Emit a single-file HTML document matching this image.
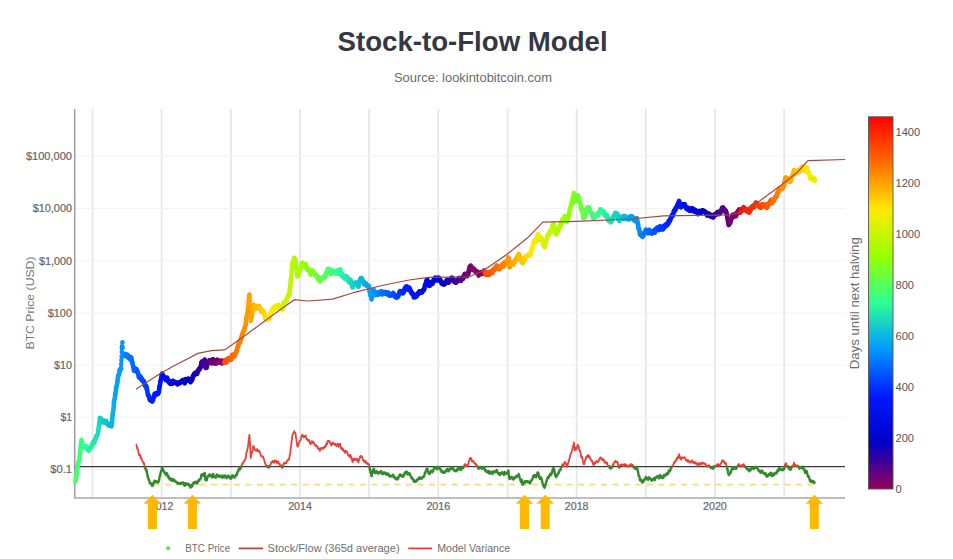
<!DOCTYPE html><html><head><meta charset="utf-8"><style>html,body{margin:0;padding:0;background:#fff;width:953px;height:559px;overflow:hidden}svg{position:absolute;left:0;top:0}text{font-family:"Liberation Sans",sans-serif}</style></head><body><svg width="953" height="559" viewBox="0 0 953 559"><text x="337.6" y="50.8" font-size="28.4" font-weight="bold" fill="#333843" textLength="270" lengthAdjust="spacingAndGlyphs">Stock-to-Flow Model</text><text x="394" y="82.3" font-size="12.6" fill="#6a6a6a" textLength="158" lengthAdjust="spacingAndGlyphs">Source: lookintobitcoin.com</text><path d="M92.5 109 V498 M161.6 109 V498 M230.9 109 V498 M300.0 109 V498 M369.1 109 V498 M438.3 109 V498 M507.6 109 V498 M576.7 109 V498 M645.8 109 V498 M714.9 109 V498 M784.2 109 V498" stroke="#e6e7e7" stroke-width="1.8" fill="none"/><path d="M74.5 469.5 H845.0 M74.5 417.3 H845.0 M74.5 365.1 H845.0 M74.5 312.9 H845.0 M74.5 260.7 H845.0 M74.5 208.5 H845.0 M74.5 156.3 H845.0" stroke="#f3f3f3" stroke-width="1" fill="none"/><path d="M74.7 109 V498" stroke="#a0a0a0" stroke-width="1.6"/><path d="M74 498 H845" stroke="#a8a8a8" stroke-width="1.3"/><text x="72" y="473.3" text-anchor="end" font-size="10.5" fill="#666" stroke="#666" stroke-width="0.2" textLength="21.7" lengthAdjust="spacingAndGlyphs">$0.1</text><text x="72" y="421.1" text-anchor="end" font-size="10.5" fill="#666" stroke="#666" stroke-width="0.2" textLength="11.6" lengthAdjust="spacingAndGlyphs">$1</text><text x="72" y="368.9" text-anchor="end" font-size="10.5" fill="#666" stroke="#666" stroke-width="0.2" textLength="17.9" lengthAdjust="spacingAndGlyphs">$10</text><text x="72" y="316.7" text-anchor="end" font-size="10.5" fill="#666" stroke="#666" stroke-width="0.2" textLength="24.3" lengthAdjust="spacingAndGlyphs">$100</text><text x="72" y="264.5" text-anchor="end" font-size="10.5" fill="#666" stroke="#666" stroke-width="0.2" textLength="33.1" lengthAdjust="spacingAndGlyphs">$1,000</text><text x="72" y="212.3" text-anchor="end" font-size="10.5" fill="#666" stroke="#666" stroke-width="0.2" textLength="39.3" lengthAdjust="spacingAndGlyphs">$10,000</text><text x="72" y="160.1" text-anchor="end" font-size="10.5" fill="#666" stroke="#666" stroke-width="0.2" textLength="46.1" lengthAdjust="spacingAndGlyphs">$100,000</text><text x="161.6" y="510.4" text-anchor="middle" font-size="10.3" fill="#666" stroke="#666" stroke-width="0.2" textLength="23.7" lengthAdjust="spacingAndGlyphs">2012</text><text x="300.0" y="510.4" text-anchor="middle" font-size="10.3" fill="#666" stroke="#666" stroke-width="0.2" textLength="23.7" lengthAdjust="spacingAndGlyphs">2014</text><text x="438.3" y="510.4" text-anchor="middle" font-size="10.3" fill="#666" stroke="#666" stroke-width="0.2" textLength="23.7" lengthAdjust="spacingAndGlyphs">2016</text><text x="576.7" y="510.4" text-anchor="middle" font-size="10.3" fill="#666" stroke="#666" stroke-width="0.2" textLength="23.7" lengthAdjust="spacingAndGlyphs">2018</text><text x="714.9" y="510.4" text-anchor="middle" font-size="10.3" fill="#666" stroke="#666" stroke-width="0.2" textLength="23.7" lengthAdjust="spacingAndGlyphs">2020</text><text transform="translate(34.2,303) rotate(-90)" text-anchor="middle" font-size="11.5" fill="#777" textLength="93" lengthAdjust="spacingAndGlyphs">BTC Price (USD)</text><path d="M74.6 466.6 H845" stroke="#3a3a3a" stroke-width="1.3"/><path d="M153.6 484.7 H816" stroke="#f8da80" stroke-width="1.7" stroke-dasharray="6 5.47"/><path d="M75.4 481.8 L75.6 480.3 L75.8 479.1 L76.0 478.3 L76.2 477.1 L76.4 476.3 L76.5 474.7" stroke="#4cff69" stroke-width="4.6" fill="none" stroke-linecap="round" stroke-linejoin="round"/><path d="M76.5 474.7 L76.7 472.3 L76.9 471.2 L77.1 470.2 L77.3 468.7 L77.5 467.3 L77.7 466.1" stroke="#49ff6e" stroke-width="4.6" fill="none" stroke-linecap="round" stroke-linejoin="round"/><path d="M77.7 466.1 L77.9 465.6 L78.1 464.4 L78.2 462.8 L78.4 462.5 L78.6 461.5 L78.8 461.4" stroke="#45ff73" stroke-width="4.6" fill="none" stroke-linecap="round" stroke-linejoin="round"/><path d="M78.8 461.4 L79.0 460.8 L79.2 460.5 L79.4 459.0 L79.6 458.3 L79.8 455.8 L80.0 453.5" stroke="#42ff78" stroke-width="4.6" fill="none" stroke-linecap="round" stroke-linejoin="round"/><path d="M80.0 453.5 L80.1 451.5 L80.3 451.0 L80.5 449.0 L80.7 446.8 L80.9 444.5 L81.1 443.4" stroke="#3eff7c" stroke-width="4.6" fill="none" stroke-linecap="round" stroke-linejoin="round"/><path d="M81.1 443.4 L81.3 441.5 L81.5 439.9 L81.7 441.1 L81.8 441.1 L82.0 442.5 L82.2 443.4" stroke="#3bff81" stroke-width="4.6" fill="none" stroke-linecap="round" stroke-linejoin="round"/><path d="M82.2 443.4 L82.4 443.7 L82.6 445.1 L82.8 446.1 L83.0 447.0 L83.2 446.9 L83.4 447.6" stroke="#37ff86" stroke-width="4.6" fill="none" stroke-linecap="round" stroke-linejoin="round"/><path d="M83.4 447.6 L83.5 447.4 L83.7 446.5 L83.9 447.5 L84.1 446.9 L84.3 446.8 L84.5 447.3" stroke="#34ff8b" stroke-width="4.6" fill="none" stroke-linecap="round" stroke-linejoin="round"/><path d="M84.5 447.3 L84.7 446.0 L84.9 445.7 L85.1 446.7 L85.3 446.7 L85.4 446.4 L85.6 446.8" stroke="#30ff90" stroke-width="4.6" fill="none" stroke-linecap="round" stroke-linejoin="round"/><path d="M85.6 446.8 L85.8 446.7 L86.0 447.0 L86.2 446.9 L86.4 446.3 L86.6 447.2 L86.8 447.4" stroke="#2dff95" stroke-width="4.6" fill="none" stroke-linecap="round" stroke-linejoin="round"/><path d="M86.8 447.4 L87.0 448.1 L87.1 448.3 L87.3 449.3 L87.5 449.8 L87.7 450.1 L87.9 449.6" stroke="#2bfc99" stroke-width="4.6" fill="none" stroke-linecap="round" stroke-linejoin="round"/><path d="M87.9 449.6 L88.1 448.8 L88.3 449.5 L88.5 449.9 L88.7 449.2 L88.9 450.3 L89.0 450.2" stroke="#29f99c" stroke-width="4.6" fill="none" stroke-linecap="round" stroke-linejoin="round"/><path d="M89.0 450.2 L89.2 449.9 L89.4 448.7 L89.6 448.1 L89.8 448.2 L90.0 448.2 L90.2 448.2" stroke="#28f5a0" stroke-width="4.6" fill="none" stroke-linecap="round" stroke-linejoin="round"/><path d="M90.2 448.2 L90.4 447.0 L90.6 447.2 L90.7 447.3 L90.9 446.9 L91.1 446.9 L91.3 446.6" stroke="#26f2a3" stroke-width="4.6" fill="none" stroke-linecap="round" stroke-linejoin="round"/><path d="M91.3 446.6 L91.5 447.0 L91.7 446.5 L91.9 446.3 L92.1 445.1 L92.3 444.3 L92.5 444.0" stroke="#25efa7" stroke-width="4.6" fill="none" stroke-linecap="round" stroke-linejoin="round"/><path d="M92.5 444.0 L92.6 443.3 L92.8 443.3 L93.0 442.3 L93.2 442.1 L93.4 441.5 L93.6 442.1" stroke="#24ebaa" stroke-width="4.6" fill="none" stroke-linecap="round" stroke-linejoin="round"/><path d="M93.6 442.1 L93.8 441.5 L94.0 442.3 L94.2 443.0 L94.3 442.5 L94.5 442.4 L94.7 441.6" stroke="#22e8ae" stroke-width="4.6" fill="none" stroke-linecap="round" stroke-linejoin="round"/><path d="M94.7 441.6 L94.9 439.5 L95.1 439.6 L95.3 439.5 L95.5 438.9 L95.7 438.1 L95.9 437.7" stroke="#21e4b1" stroke-width="4.6" fill="none" stroke-linecap="round" stroke-linejoin="round"/><path d="M95.9 437.7 L96.0 437.4 L96.2 436.5 L96.4 435.8 L96.6 436.1 L96.8 435.7 L97.0 435.3" stroke="#1fe1b5" stroke-width="4.6" fill="none" stroke-linecap="round" stroke-linejoin="round"/><path d="M97.0 435.3 L97.2 435.5 L97.4 434.8 L97.6 434.8 L97.8 433.7 L97.9 433.1 L98.1 431.4" stroke="#1edeb8" stroke-width="4.6" fill="none" stroke-linecap="round" stroke-linejoin="round"/><path d="M98.1 431.4 L98.3 430.0 L98.5 428.4 L98.7 427.9 L98.9 426.7 L99.1 424.5 L99.3 423.9" stroke="#1cdabb" stroke-width="4.6" fill="none" stroke-linecap="round" stroke-linejoin="round"/><path d="M99.3 423.9 L99.5 421.3 L99.6 420.4 L99.8 417.9 L100.0 418.6 L100.2 418.2 L100.4 418.4" stroke="#1bd7bf" stroke-width="4.6" fill="none" stroke-linecap="round" stroke-linejoin="round"/><path d="M100.4 418.4 L100.6 419.7 L100.8 419.1 L101.0 418.5 L101.2 419.0 L101.4 419.7 L101.5 420.2" stroke="#19d3c2" stroke-width="4.6" fill="none" stroke-linecap="round" stroke-linejoin="round"/><path d="M101.5 420.2 L101.7 421.2 L101.9 420.9 L102.1 421.2 L102.3 421.2 L102.5 421.6 L102.7 421.9" stroke="#18d0c6" stroke-width="4.6" fill="none" stroke-linecap="round" stroke-linejoin="round"/><path d="M102.7 421.9 L102.9 422.5 L103.1 421.4 L103.2 421.4 L103.4 420.7 L103.6 420.6 L103.8 421.1" stroke="#17cdc9" stroke-width="4.6" fill="none" stroke-linecap="round" stroke-linejoin="round"/><path d="M103.8 421.1 L104.0 421.2 L104.2 421.4 L104.4 421.3 L104.6 421.4 L104.8 421.4 L104.9 422.1" stroke="#15c9cd" stroke-width="4.6" fill="none" stroke-linecap="round" stroke-linejoin="round"/><path d="M104.9 422.1 L105.1 422.4 L105.3 421.0 L105.5 421.5 L105.7 422.2 L105.9 422.0 L106.1 421.1" stroke="#14c6d0" stroke-width="4.6" fill="none" stroke-linecap="round" stroke-linejoin="round"/><path d="M106.1 421.1 L106.3 422.2 L106.5 422.4 L106.7 422.8 L106.8 423.9 L107.0 423.3 L107.2 423.3" stroke="#12c3d4" stroke-width="4.6" fill="none" stroke-linecap="round" stroke-linejoin="round"/><path d="M107.2 423.3 L107.4 423.2 L107.6 423.7 L107.8 423.4 L108.0 423.8 L108.2 423.9 L108.4 424.7" stroke="#11bfd7" stroke-width="4.6" fill="none" stroke-linecap="round" stroke-linejoin="round"/><path d="M108.4 424.7 L108.5 425.4 L108.7 424.4 L108.9 424.7 L109.1 424.6 L109.3 424.7 L109.5 425.0" stroke="#0fbcdb" stroke-width="4.6" fill="none" stroke-linecap="round" stroke-linejoin="round"/><path d="M109.5 425.0 L109.7 425.4 L109.9 425.0 L110.1 425.3 L110.3 425.5 L110.4 425.5 L110.6 424.9" stroke="#0eb8de" stroke-width="4.6" fill="none" stroke-linecap="round" stroke-linejoin="round"/><path d="M110.6 424.9 L110.8 424.7 L111.0 424.7 L111.2 425.3 L111.4 426.4 L111.6 425.9 L111.8 423.7" stroke="#0cb5e1" stroke-width="4.6" fill="none" stroke-linecap="round" stroke-linejoin="round"/><path d="M111.8 423.7 L112.0 422.3 L112.1 420.4 L112.3 418.5 L112.5 416.5 L112.7 414.5 L112.9 413.5" stroke="#0bb2e5" stroke-width="4.6" fill="none" stroke-linecap="round" stroke-linejoin="round"/><path d="M112.9 413.5 L113.1 411.1 L113.3 410.6 L113.5 408.6 L113.7 406.9 L113.8 404.9 L114.0 402.4" stroke="#09aee8" stroke-width="4.6" fill="none" stroke-linecap="round" stroke-linejoin="round"/><path d="M114.0 402.4 L114.2 400.2 L114.4 399.8 L114.6 399.6 L114.8 397.5 L115.0 396.7 L115.2 395.1" stroke="#08abec" stroke-width="4.6" fill="none" stroke-linecap="round" stroke-linejoin="round"/><path d="M115.2 395.1 L115.4 393.0 L115.6 392.6 L115.7 392.2 L115.9 390.2 L116.1 388.7 L116.3 387.5" stroke="#07a7ef" stroke-width="4.6" fill="none" stroke-linecap="round" stroke-linejoin="round"/><path d="M116.3 387.5 L116.5 386.1 L116.7 385.3 L116.9 384.9 L117.1 383.5 L117.3 382.6 L117.4 382.1" stroke="#05a4f3" stroke-width="4.6" fill="none" stroke-linecap="round" stroke-linejoin="round"/><path d="M117.4 382.1 L117.6 380.1 L117.8 378.7 L118.0 376.9 L118.2 376.1 L118.4 375.1 L118.6 375.0" stroke="#04a1f6" stroke-width="4.6" fill="none" stroke-linecap="round" stroke-linejoin="round"/><path d="M118.6 375.0 L118.8 374.8 L119.0 373.9 L119.2 373.7 L119.3 372.8 L119.5 371.9 L119.7 370.1" stroke="#029dfa" stroke-width="4.6" fill="none" stroke-linecap="round" stroke-linejoin="round"/><path d="M119.7 370.1 L119.9 370.6 L120.1 369.5 L120.3 369.2 L120.5 368.8 L120.7 369.2 L120.9 369.0" stroke="#019afd" stroke-width="4.6" fill="none" stroke-linecap="round" stroke-linejoin="round"/><path d="M120.9 369.0 L121.0 367.9 M121.2 364.1h.01 M121.4 360.2h.01 M121.6 356.6h.01 M121.8 352.0h.01 M122.0 348.3h.01" stroke="#0096ff" stroke-width="4.6" fill="none" stroke-linecap="round" stroke-linejoin="round"/><path d="M122.0 348.3 L122.2 345.9 M122.4 342.4h.01 M122.6 347.6h.01 M122.8 353.5h.01 L122.9 354.4 L123.1 354.3" stroke="#0092ff" stroke-width="4.6" fill="none" stroke-linecap="round" stroke-linejoin="round"/><path d="M123.1 354.3 L123.3 355.1 L123.5 355.6 L123.7 356.0 L123.9 355.0 L124.1 354.8 L124.3 354.7" stroke="#008eff" stroke-width="4.6" fill="none" stroke-linecap="round" stroke-linejoin="round"/><path d="M124.3 354.7 L124.5 354.7 L124.6 354.6 L124.8 354.1 L125.0 353.9 L125.2 353.9 L125.4 354.7" stroke="#008aff" stroke-width="4.6" fill="none" stroke-linecap="round" stroke-linejoin="round"/><path d="M125.4 354.7 L125.6 354.4 L125.8 355.0 L126.0 354.4 L126.2 355.4 L126.3 355.6 L126.5 355.6" stroke="#0085ff" stroke-width="4.6" fill="none" stroke-linecap="round" stroke-linejoin="round"/><path d="M126.5 355.6 L126.7 356.6 L126.9 355.4 L127.1 354.7 L127.3 355.3 L127.5 355.0 L127.7 355.1" stroke="#0081ff" stroke-width="4.6" fill="none" stroke-linecap="round" stroke-linejoin="round"/><path d="M127.7 355.1 L127.9 357.0 L128.1 356.9 L128.2 357.0 L128.4 357.0 L128.6 357.8 L128.8 358.0" stroke="#007dff" stroke-width="4.6" fill="none" stroke-linecap="round" stroke-linejoin="round"/><path d="M128.8 358.0 L129.0 358.1 L129.2 357.4 L129.4 357.3 L129.6 357.5 L129.8 356.8 L129.9 357.4" stroke="#0079ff" stroke-width="4.6" fill="none" stroke-linecap="round" stroke-linejoin="round"/><path d="M129.9 357.4 L130.1 357.9 L130.3 359.3 L130.5 358.3 L130.7 357.9 L130.9 357.6 L131.1 357.5" stroke="#0075ff" stroke-width="4.6" fill="none" stroke-linecap="round" stroke-linejoin="round"/><path d="M131.1 357.5 L131.3 357.8 L131.5 358.7 L131.7 359.9 L131.8 361.0 L132.0 361.9 L132.2 361.9" stroke="#0070ff" stroke-width="4.6" fill="none" stroke-linecap="round" stroke-linejoin="round"/><path d="M132.2 361.9 L132.4 362.5 L132.6 363.6 L132.8 365.0 L133.0 366.4 L133.2 366.2 L133.4 366.9" stroke="#006cff" stroke-width="4.6" fill="none" stroke-linecap="round" stroke-linejoin="round"/><path d="M133.4 366.9 L133.5 367.9 L133.7 369.1 L133.9 370.8 L134.1 370.6 L134.3 369.9 L134.5 370.1" stroke="#0068ff" stroke-width="4.6" fill="none" stroke-linecap="round" stroke-linejoin="round"/><path d="M134.5 370.1 L134.7 370.1 L134.9 370.1 L135.1 369.8 L135.2 370.6 L135.4 370.5 L135.6 370.7" stroke="#0064ff" stroke-width="4.6" fill="none" stroke-linecap="round" stroke-linejoin="round"/><path d="M135.6 370.7 L135.8 369.8 L136.0 370.0 L136.2 369.3 L136.4 368.8 L136.6 369.5 L136.8 370.4" stroke="#0060ff" stroke-width="4.6" fill="none" stroke-linecap="round" stroke-linejoin="round"/><path d="M136.8 370.4 L137.0 370.8 L137.1 371.3 L137.3 372.4 L137.5 372.5 L137.7 371.7 L137.9 372.5" stroke="#005cff" stroke-width="4.6" fill="none" stroke-linecap="round" stroke-linejoin="round"/><path d="M137.9 372.5 L138.1 373.3 L138.3 374.5 L138.5 374.8 L138.7 376.0 L138.8 377.1 L139.0 376.6" stroke="#0057ff" stroke-width="4.6" fill="none" stroke-linecap="round" stroke-linejoin="round"/><path d="M139.0 376.6 L139.2 377.6 L139.4 377.3 L139.6 376.8 L139.8 377.3 L140.0 377.2 L140.2 376.3" stroke="#0053ff" stroke-width="4.6" fill="none" stroke-linecap="round" stroke-linejoin="round"/><path d="M140.2 376.3 L140.4 376.9 L140.6 377.7 L140.7 378.9 L140.9 379.0 L141.1 378.2 L141.3 377.9" stroke="#004fff" stroke-width="4.6" fill="none" stroke-linecap="round" stroke-linejoin="round"/><path d="M141.3 377.9 L141.5 378.9 L141.7 379.6 L141.9 380.1 L142.1 380.0 L142.3 380.4 L142.4 380.5" stroke="#004bff" stroke-width="4.6" fill="none" stroke-linecap="round" stroke-linejoin="round"/><path d="M142.4 380.5 L142.6 380.6 L142.8 381.1 L143.0 381.3 L143.2 381.5 L143.4 381.8 L143.6 381.8" stroke="#0047ff" stroke-width="4.6" fill="none" stroke-linecap="round" stroke-linejoin="round"/><path d="M143.6 381.8 L143.8 380.9 L144.0 381.0 L144.1 381.5 L144.3 383.0 L144.5 383.1 L144.7 384.6" stroke="#0042ff" stroke-width="4.6" fill="none" stroke-linecap="round" stroke-linejoin="round"/><path d="M144.7 384.6 L144.9 385.6 L145.1 385.1 L145.3 384.8 L145.5 385.1 L145.7 386.4 L145.9 386.7" stroke="#003eff" stroke-width="4.6" fill="none" stroke-linecap="round" stroke-linejoin="round"/><path d="M145.9 386.7 L146.0 387.2 L146.2 386.8 L146.4 386.1 L146.6 386.9 L146.8 388.3 L147.0 389.9" stroke="#003aff" stroke-width="4.6" fill="none" stroke-linecap="round" stroke-linejoin="round"/><path d="M147.0 389.9 L147.2 390.6 L147.4 391.5 L147.6 392.9 L147.7 393.5 L147.9 394.9 L148.1 394.8" stroke="#0036ff" stroke-width="4.6" fill="none" stroke-linecap="round" stroke-linejoin="round"/><path d="M148.1 394.8 L148.3 394.8 L148.5 395.0 L148.7 396.3 L148.9 396.8 L149.1 397.2 L149.3 397.6" stroke="#0032ff" stroke-width="4.6" fill="none" stroke-linecap="round" stroke-linejoin="round"/><path d="M149.3 397.6 L149.5 398.0 L149.6 399.0 L149.8 400.0 L150.0 399.4 L150.2 399.5 L150.4 399.4" stroke="#002eff" stroke-width="4.6" fill="none" stroke-linecap="round" stroke-linejoin="round"/><path d="M150.4 399.4 L150.6 398.9 L150.8 400.1 L151.0 400.6 L151.2 400.5 L151.3 400.3 L151.5 400.6" stroke="#0029ff" stroke-width="4.6" fill="none" stroke-linecap="round" stroke-linejoin="round"/><path d="M151.5 400.6 L151.7 400.0 L151.9 400.0 L152.1 401.0 L152.3 401.6 L152.5 400.5 L152.7 399.8" stroke="#0025ff" stroke-width="4.6" fill="none" stroke-linecap="round" stroke-linejoin="round"/><path d="M152.7 399.8 L152.9 400.5 L153.1 399.1 L153.2 398.3 L153.4 397.1 L153.6 397.1 L153.8 396.9" stroke="#0021ff" stroke-width="4.6" fill="none" stroke-linecap="round" stroke-linejoin="round"/><path d="M153.8 396.9 L154.0 397.3 L154.2 395.2 L154.4 395.1 L154.6 393.9 L154.8 394.3 L154.9 394.1" stroke="#001dff" stroke-width="4.6" fill="none" stroke-linecap="round" stroke-linejoin="round"/><path d="M154.9 394.1 L155.1 395.1 L155.3 395.1 L155.5 394.2 L155.7 394.8 L155.9 393.8 L156.1 393.4" stroke="#0019ff" stroke-width="4.6" fill="none" stroke-linecap="round" stroke-linejoin="round"/><path d="M156.1 393.4 L156.3 393.9 L156.5 394.0 L156.6 394.0 L156.8 393.6 L157.0 393.7 L157.2 393.8" stroke="#0018fd" stroke-width="4.6" fill="none" stroke-linecap="round" stroke-linejoin="round"/><path d="M157.2 393.8 L157.4 393.6 L157.6 393.8 L157.8 394.1 L158.0 393.6 L158.2 392.5 L158.4 393.1" stroke="#0017fb" stroke-width="4.6" fill="none" stroke-linecap="round" stroke-linejoin="round"/><path d="M158.4 393.1 L158.5 392.6 L158.7 391.8 L158.9 391.2 L159.1 389.4 L159.3 388.6 L159.5 386.5" stroke="#0016f9" stroke-width="4.6" fill="none" stroke-linecap="round" stroke-linejoin="round"/><path d="M159.5 386.5 L159.7 386.0 L159.9 384.8 L160.1 383.9 L160.2 383.4 L160.4 382.0 L160.6 381.1" stroke="#0016f8" stroke-width="4.6" fill="none" stroke-linecap="round" stroke-linejoin="round"/><path d="M160.6 381.1 L160.8 379.7 L161.0 378.8 L161.2 378.5 L161.4 377.6 L161.6 376.5 L161.8 374.9" stroke="#0015f6" stroke-width="4.6" fill="none" stroke-linecap="round" stroke-linejoin="round"/><path d="M161.8 374.9 L162.0 374.5 L162.1 373.6 L162.3 374.8 L162.5 374.4 L162.7 375.2 L162.9 376.4" stroke="#0014f4" stroke-width="4.6" fill="none" stroke-linecap="round" stroke-linejoin="round"/><path d="M162.9 376.4 L163.1 376.3 L163.3 375.5 L163.5 376.5 L163.7 377.1 L163.8 377.4 L164.0 378.0" stroke="#0013f2" stroke-width="4.6" fill="none" stroke-linecap="round" stroke-linejoin="round"/><path d="M164.0 378.0 L164.2 377.6 L164.4 377.9 L164.6 378.3 L164.8 377.7 L165.0 378.1 L165.2 377.8" stroke="#0012f0" stroke-width="4.6" fill="none" stroke-linecap="round" stroke-linejoin="round"/><path d="M165.2 377.8 L165.4 378.4 L165.5 379.1 L165.7 380.1 L165.9 378.7 L166.1 378.9 L166.3 378.7" stroke="#0012ef" stroke-width="4.6" fill="none" stroke-linecap="round" stroke-linejoin="round"/><path d="M166.3 378.7 L166.5 378.7 L166.7 378.7 L166.9 378.7 L167.1 377.6 L167.3 378.6 L167.4 379.7" stroke="#0011ed" stroke-width="4.6" fill="none" stroke-linecap="round" stroke-linejoin="round"/><path d="M167.4 379.7 L167.6 380.4 L167.8 381.2 L168.0 380.6 L168.2 380.1 L168.4 380.7 L168.6 381.6" stroke="#0010eb" stroke-width="4.6" fill="none" stroke-linecap="round" stroke-linejoin="round"/><path d="M168.6 381.6 L168.8 381.8 L169.0 380.8 L169.1 382.7 L169.3 382.2 L169.5 382.8 L169.7 382.0" stroke="#000fe9" stroke-width="4.6" fill="none" stroke-linecap="round" stroke-linejoin="round"/><path d="M169.7 382.0 L169.9 382.7 L170.1 382.8 L170.3 383.6 L170.5 383.9 L170.7 382.6 L170.9 382.0" stroke="#000ee7" stroke-width="4.6" fill="none" stroke-linecap="round" stroke-linejoin="round"/><path d="M170.9 382.0 L171.0 382.2 L171.2 382.6 L171.4 383.7 L171.6 383.6 L171.8 383.4 L172.0 383.2" stroke="#000de5" stroke-width="4.6" fill="none" stroke-linecap="round" stroke-linejoin="round"/><path d="M172.0 383.2 L172.2 383.0 L172.4 383.5 L172.6 383.3 L172.7 383.1 L172.9 382.1 L173.1 380.9" stroke="#000de4" stroke-width="4.6" fill="none" stroke-linecap="round" stroke-linejoin="round"/><path d="M173.1 380.9 L173.3 381.1 L173.5 381.7 L173.7 381.7 L173.9 382.0 L174.1 382.4 L174.3 382.3" stroke="#000ce2" stroke-width="4.6" fill="none" stroke-linecap="round" stroke-linejoin="round"/><path d="M174.3 382.3 L174.5 382.9 L174.6 382.3 L174.8 382.2 L175.0 382.0 L175.2 382.0 L175.4 382.4" stroke="#000be0" stroke-width="4.6" fill="none" stroke-linecap="round" stroke-linejoin="round"/><path d="M175.4 382.4 L175.6 382.8 L175.8 382.8 L176.0 382.9 L176.2 382.5 L176.3 382.4 L176.5 383.1" stroke="#000ade" stroke-width="4.6" fill="none" stroke-linecap="round" stroke-linejoin="round"/><path d="M176.5 383.1 L176.7 382.8 L176.9 383.4 L177.1 383.5 L177.3 383.3 L177.5 384.3 L177.7 383.8" stroke="#0009dc" stroke-width="4.6" fill="none" stroke-linecap="round" stroke-linejoin="round"/><path d="M177.7 383.8 L177.9 383.3 L178.0 383.1 L178.2 383.1 L178.4 383.1 L178.6 383.4 L178.8 383.2" stroke="#0008db" stroke-width="4.6" fill="none" stroke-linecap="round" stroke-linejoin="round"/><path d="M178.8 383.2 L179.0 383.3 L179.2 382.9 L179.4 383.4 L179.6 382.9 L179.8 382.5 L179.9 382.4" stroke="#0008d9" stroke-width="4.6" fill="none" stroke-linecap="round" stroke-linejoin="round"/><path d="M179.9 382.4 L180.1 382.5 L180.3 381.9 L180.5 382.8 L180.7 382.3 L180.9 381.9 L181.1 381.6" stroke="#0007d7" stroke-width="4.6" fill="none" stroke-linecap="round" stroke-linejoin="round"/><path d="M181.1 381.6 L181.3 381.3 L181.5 381.6 L181.6 381.7 L181.8 381.2 L182.0 380.9 L182.2 380.8" stroke="#0006d5" stroke-width="4.6" fill="none" stroke-linecap="round" stroke-linejoin="round"/><path d="M182.2 380.8 L182.4 381.7 L182.6 381.3 L182.8 380.5 L183.0 379.9 L183.2 379.9 L183.4 381.0" stroke="#0005d3" stroke-width="4.6" fill="none" stroke-linecap="round" stroke-linejoin="round"/><path d="M183.4 381.0 L183.5 380.4 L183.7 380.5 L183.9 382.2 L184.1 381.7 L184.3 382.5 L184.5 383.0" stroke="#0004d2" stroke-width="4.6" fill="none" stroke-linecap="round" stroke-linejoin="round"/><path d="M184.5 383.0 L184.7 383.1 L184.9 381.9 L185.1 381.9 L185.2 381.5 L185.4 380.2 L185.6 379.3" stroke="#0004d0" stroke-width="4.6" fill="none" stroke-linecap="round" stroke-linejoin="round"/><path d="M185.6 379.3 L185.8 379.5 L186.0 379.7 L186.2 380.6 L186.4 381.0 L186.6 380.6 L186.8 380.2" stroke="#0003ce" stroke-width="4.6" fill="none" stroke-linecap="round" stroke-linejoin="round"/><path d="M186.8 380.2 L186.9 380.1 L187.1 379.5 L187.3 380.0 L187.5 380.1 L187.7 379.6 L187.9 379.2" stroke="#0002cc" stroke-width="4.6" fill="none" stroke-linecap="round" stroke-linejoin="round"/><path d="M187.9 379.2 L188.1 378.6 L188.3 378.6 L188.5 378.9 L188.7 378.8 L188.8 379.5 L189.0 380.6" stroke="#0001ca" stroke-width="4.6" fill="none" stroke-linecap="round" stroke-linejoin="round"/><path d="M189.0 380.6 L189.2 380.0 L189.4 380.0 L189.6 379.7 L189.8 380.7 L190.0 380.7 L190.2 380.9" stroke="#0000c9" stroke-width="4.6" fill="none" stroke-linecap="round" stroke-linejoin="round"/><path d="M190.2 380.9 L190.4 381.2 L190.5 382.2 L190.7 381.8 L190.9 380.7 L191.1 380.0 L191.3 380.1" stroke="#0300c5" stroke-width="4.6" fill="none" stroke-linecap="round" stroke-linejoin="round"/><path d="M191.3 380.1 L191.5 379.7 L191.7 378.9 L191.9 380.4 L192.1 379.9 L192.3 379.1 L192.4 378.4" stroke="#0800c2" stroke-width="4.6" fill="none" stroke-linecap="round" stroke-linejoin="round"/><path d="M192.4 378.4 L192.6 377.0 L192.8 376.2 L193.0 376.0 L193.2 375.8 L193.4 375.4 L193.6 375.8" stroke="#0d00be" stroke-width="4.6" fill="none" stroke-linecap="round" stroke-linejoin="round"/><path d="M193.6 375.8 L193.8 375.7 L194.0 375.1 L194.1 373.9 L194.3 374.2 L194.5 374.3 L194.7 374.3" stroke="#1200bb" stroke-width="4.6" fill="none" stroke-linecap="round" stroke-linejoin="round"/><path d="M194.7 374.3 L194.9 373.5 L195.1 373.6 L195.3 372.8 L195.5 373.6 L195.7 373.8 L195.8 373.9" stroke="#1700b7" stroke-width="4.6" fill="none" stroke-linecap="round" stroke-linejoin="round"/><path d="M195.8 373.9 L196.0 373.3 L196.2 372.6 L196.4 373.4 L196.6 373.8 L196.8 373.2 L197.0 373.3" stroke="#1c00b3" stroke-width="4.6" fill="none" stroke-linecap="round" stroke-linejoin="round"/><path d="M197.0 373.3 L197.2 373.9 L197.4 372.7 L197.6 372.0 L197.7 371.4 L197.9 371.4 L198.1 370.5" stroke="#2100b0" stroke-width="4.6" fill="none" stroke-linecap="round" stroke-linejoin="round"/><path d="M198.1 370.5 L198.3 370.4 L198.5 369.4 L198.7 369.8 L198.9 370.1 L199.1 369.6 L199.3 369.7" stroke="#2600ac" stroke-width="4.6" fill="none" stroke-linecap="round" stroke-linejoin="round"/><path d="M199.3 369.7 L199.4 368.9 L199.6 368.4 L199.8 368.6 L200.0 368.2 L200.2 368.0 L200.4 367.0" stroke="#2b00a8" stroke-width="4.6" fill="none" stroke-linecap="round" stroke-linejoin="round"/><path d="M200.4 367.0 L200.6 367.1 L200.8 367.0 L201.0 365.8 L201.2 364.1 L201.3 362.7 L201.5 362.7" stroke="#3000a5" stroke-width="4.6" fill="none" stroke-linecap="round" stroke-linejoin="round"/><path d="M201.5 362.7 L201.7 362.6 L201.9 361.6 L202.1 361.8 L202.3 362.4 L202.5 362.1 L202.7 361.7" stroke="#3500a1" stroke-width="4.6" fill="none" stroke-linecap="round" stroke-linejoin="round"/><path d="M202.7 361.7 L202.9 362.0 L203.0 362.8 L203.2 363.3 L203.4 362.3 L203.6 362.3 L203.8 361.9" stroke="#3a009e" stroke-width="4.6" fill="none" stroke-linecap="round" stroke-linejoin="round"/><path d="M203.8 361.9 L204.0 361.3 L204.2 360.4 L204.4 360.3 L204.6 359.5 L204.8 359.7 L204.9 362.0" stroke="#3f009a" stroke-width="4.6" fill="none" stroke-linecap="round" stroke-linejoin="round"/><path d="M204.9 362.0 L205.1 364.6 L205.3 365.8 L205.5 367.8 L205.7 368.0 L205.9 367.9 L206.1 367.6" stroke="#440096" stroke-width="4.6" fill="none" stroke-linecap="round" stroke-linejoin="round"/><path d="M206.1 367.6 L206.3 366.8 L206.5 367.6 L206.6 367.8 L206.8 367.5 L207.0 365.4 L207.2 364.6" stroke="#490093" stroke-width="4.6" fill="none" stroke-linecap="round" stroke-linejoin="round"/><path d="M207.2 364.6 L207.4 364.6 L207.6 364.0 L207.8 362.6 L208.0 362.9 L208.2 363.2 L208.3 362.5" stroke="#4e008f" stroke-width="4.6" fill="none" stroke-linecap="round" stroke-linejoin="round"/><path d="M208.3 362.5 L208.5 362.3 L208.7 362.0 L208.9 362.4 L209.1 361.3 L209.3 360.4 L209.5 360.4" stroke="#53008b" stroke-width="4.6" fill="none" stroke-linecap="round" stroke-linejoin="round"/><path d="M209.5 360.4 L209.7 360.2 L209.9 361.8 L210.1 361.4 L210.2 361.6 L210.4 361.4 L210.6 361.0" stroke="#570088" stroke-width="4.6" fill="none" stroke-linecap="round" stroke-linejoin="round"/><path d="M210.6 361.0 L210.8 361.3 L211.0 362.3 L211.2 361.9 L211.4 362.3 L211.6 362.3 L211.8 362.4" stroke="#5c0084" stroke-width="4.6" fill="none" stroke-linecap="round" stroke-linejoin="round"/><path d="M211.8 362.4 L211.9 362.3 L212.1 363.5 L212.3 362.3 L212.5 361.8 L212.7 360.8 L212.9 359.4" stroke="#610081" stroke-width="4.6" fill="none" stroke-linecap="round" stroke-linejoin="round"/><path d="M212.9 359.4 L213.1 359.4 L213.3 360.6 L213.5 361.0 L213.7 361.7 L213.8 361.9 L214.0 361.7" stroke="#66007d" stroke-width="4.6" fill="none" stroke-linecap="round" stroke-linejoin="round"/><path d="M214.0 361.7 L214.2 362.8 L214.4 362.3 L214.6 363.1 L214.8 362.6 L215.0 362.4 L215.2 362.5" stroke="#6b0079" stroke-width="4.6" fill="none" stroke-linecap="round" stroke-linejoin="round"/><path d="M215.2 362.5 L215.4 362.3 L215.5 362.5 L215.7 362.7 L215.9 363.6 L216.1 363.3 L216.3 361.9" stroke="#700076" stroke-width="4.6" fill="none" stroke-linecap="round" stroke-linejoin="round"/><path d="M216.3 361.9 L216.5 360.7 L216.7 360.0 L216.9 359.8 L217.1 360.6 L217.2 359.9 L217.4 360.2" stroke="#750072" stroke-width="4.6" fill="none" stroke-linecap="round" stroke-linejoin="round"/><path d="M217.4 360.2 L217.6 360.5 L217.8 360.9 L218.0 361.0 L218.2 361.4 L218.4 361.5 L218.6 362.3" stroke="#7a006f" stroke-width="4.6" fill="none" stroke-linecap="round" stroke-linejoin="round"/><path d="M218.6 362.3 L218.8 362.5 L219.0 361.0 L219.1 361.2 L219.3 361.5 L219.5 361.3 L219.7 361.0" stroke="#7f006b" stroke-width="4.6" fill="none" stroke-linecap="round" stroke-linejoin="round"/><path d="M219.7 361.0 L219.9 361.9 L220.1 362.1 L220.3 361.6 L220.5 361.5 L220.7 361.6 L220.8 360.8" stroke="#840067" stroke-width="4.6" fill="none" stroke-linecap="round" stroke-linejoin="round"/><path d="M220.8 360.8 L221.0 361.5 L221.2 361.6 L221.4 362.1 L221.6 361.2 L221.8 362.7 L222.0 363.1" stroke="#890064" stroke-width="4.6" fill="none" stroke-linecap="round" stroke-linejoin="round"/><path d="M222.0 363.1 L222.2 363.2 L222.4 362.5 L222.6 361.9 L222.7 360.9 L222.9 361.8 L223.1 361.2" stroke="#8e0060" stroke-width="4.6" fill="none" stroke-linecap="round" stroke-linejoin="round"/><path d="M223.1 361.2 L223.3 361.2 L223.5 361.5 L223.7 361.0 L223.9 361.4 L224.1 362.4 L224.3 362.2" stroke="#93005c" stroke-width="4.6" fill="none" stroke-linecap="round" stroke-linejoin="round"/><path d="M224.3 362.2 L224.4 362.8 L224.6 362.6 L224.8 361.9 L225.0 361.2 L225.2 360.0 L225.4 360.0" stroke="#ff4c00" stroke-width="4.6" fill="none" stroke-linecap="round" stroke-linejoin="round"/><path d="M225.4 360.0 L225.6 360.9 L225.8 361.1 L226.0 361.4 L226.2 361.9 L226.3 361.2 L226.5 361.3" stroke="#ff5000" stroke-width="4.6" fill="none" stroke-linecap="round" stroke-linejoin="round"/><path d="M226.5 361.3 L226.7 362.2 L226.9 361.3 L227.1 361.0 L227.3 360.5 L227.5 360.2 L227.7 359.6" stroke="#ff5300" stroke-width="4.6" fill="none" stroke-linecap="round" stroke-linejoin="round"/><path d="M227.7 359.6 L227.9 359.5 L228.0 358.6 L228.2 358.3 L228.4 358.1 L228.6 358.0 L228.8 359.0" stroke="#ff5700" stroke-width="4.6" fill="none" stroke-linecap="round" stroke-linejoin="round"/><path d="M228.8 359.0 L229.0 359.0 L229.2 359.1 L229.4 358.8 L229.6 359.6 L229.7 358.4 L229.9 358.3" stroke="#ff5b00" stroke-width="4.6" fill="none" stroke-linecap="round" stroke-linejoin="round"/><path d="M229.9 358.3 L230.1 359.1 L230.3 360.0 L230.5 359.9 L230.7 359.7 L230.9 359.9 L231.1 359.3" stroke="#ff5e00" stroke-width="4.6" fill="none" stroke-linecap="round" stroke-linejoin="round"/><path d="M231.1 359.3 L231.3 359.2 L231.5 358.4 L231.6 358.4 L231.8 357.9 L232.0 356.9 L232.2 354.9" stroke="#ff6200" stroke-width="4.6" fill="none" stroke-linecap="round" stroke-linejoin="round"/><path d="M232.2 354.9 L232.4 355.5 L232.6 355.6 L232.8 355.8 L233.0 355.0 L233.2 355.4 L233.3 355.4" stroke="#ff6600" stroke-width="4.6" fill="none" stroke-linecap="round" stroke-linejoin="round"/><path d="M233.3 355.4 L233.5 355.0 L233.7 355.2 L233.9 355.3 L234.1 355.1 L234.3 355.9 L234.5 356.1" stroke="#ff6900" stroke-width="4.6" fill="none" stroke-linecap="round" stroke-linejoin="round"/><path d="M234.5 356.1 L234.7 355.6 L234.9 354.7 L235.1 354.2 L235.2 354.7 L235.4 354.2 L235.6 353.0" stroke="#ff6d00" stroke-width="4.6" fill="none" stroke-linecap="round" stroke-linejoin="round"/><path d="M235.6 353.0 L235.8 352.1 L236.0 351.7 L236.2 351.8 L236.4 350.9 L236.6 350.8 L236.8 351.1" stroke="#ff7100" stroke-width="4.6" fill="none" stroke-linecap="round" stroke-linejoin="round"/><path d="M236.8 351.1 L236.9 350.9 L237.1 349.3 L237.3 348.6 L237.5 347.4 L237.7 347.3 L237.9 346.3" stroke="#ff7500" stroke-width="4.6" fill="none" stroke-linecap="round" stroke-linejoin="round"/><path d="M237.9 346.3 L238.1 346.3 L238.3 346.0 L238.5 344.0 L238.6 343.3 L238.8 343.5 L239.0 343.3" stroke="#ff7900" stroke-width="4.6" fill="none" stroke-linecap="round" stroke-linejoin="round"/><path d="M239.0 343.3 L239.2 342.8 L239.4 341.7 L239.6 341.9 L239.8 342.7 L240.0 342.4 L240.2 341.9" stroke="#ff7d00" stroke-width="4.6" fill="none" stroke-linecap="round" stroke-linejoin="round"/><path d="M240.2 341.9 L240.4 341.4 L240.5 340.1 L240.7 339.6 L240.9 338.8 L241.1 339.2 L241.3 338.3" stroke="#ff8100" stroke-width="4.6" fill="none" stroke-linecap="round" stroke-linejoin="round"/><path d="M241.3 338.3 L241.5 336.6 L241.7 336.0 L241.9 335.8 L242.1 335.5 L242.2 334.0 L242.4 334.3" stroke="#ff8500" stroke-width="4.6" fill="none" stroke-linecap="round" stroke-linejoin="round"/><path d="M242.4 334.3 L242.6 334.0 L242.8 333.2 L243.0 332.3 L243.2 332.1 L243.4 331.4 L243.6 331.1" stroke="#ff8900" stroke-width="4.6" fill="none" stroke-linecap="round" stroke-linejoin="round"/><path d="M243.6 331.1 L243.8 330.5 L244.0 330.0 L244.1 330.1 L244.3 329.4 L244.5 328.2 L244.7 328.2" stroke="#ff8d00" stroke-width="4.6" fill="none" stroke-linecap="round" stroke-linejoin="round"/><path d="M244.7 328.2 L244.9 327.6 L245.1 326.4 L245.3 326.4 L245.5 325.6 L245.7 325.5 L245.8 323.6" stroke="#ff9100" stroke-width="4.6" fill="none" stroke-linecap="round" stroke-linejoin="round"/><path d="M245.8 323.6 L246.0 321.1 L246.2 319.0 L246.4 318.4 L246.6 317.2 L246.8 316.4 L247.0 315.6" stroke="#ff9500" stroke-width="4.6" fill="none" stroke-linecap="round" stroke-linejoin="round"/><path d="M247.0 315.6 L247.2 313.8 L247.4 314.0 L247.5 312.4 L247.7 311.7 L247.9 310.0 L248.1 307.9" stroke="#ff9900" stroke-width="4.6" fill="none" stroke-linecap="round" stroke-linejoin="round"/><path d="M248.1 307.9 L248.3 306.3 L248.5 304.1 L248.7 301.6 L248.9 299.5 L249.1 297.1 L249.3 295.4" stroke="#ff9d00" stroke-width="4.6" fill="none" stroke-linecap="round" stroke-linejoin="round"/><path d="M249.3 295.4 L249.4 294.6 M249.6 297.8h.01 M249.8 301.3h.01 M250.0 305.1h.01 M250.2 309.0h.01 M250.4 312.2h.01" stroke="#ffa100" stroke-width="4.6" fill="none" stroke-linecap="round" stroke-linejoin="round"/><path d="M250.4 312.2 M250.6 316.5h.01 M250.8 320.9h.01 L251.0 319.9 L251.1 318.0 L251.3 317.9 L251.5 316.0" stroke="#ffa500" stroke-width="4.6" fill="none" stroke-linecap="round" stroke-linejoin="round"/><path d="M251.5 316.0 L251.7 315.3 L251.9 314.9 L252.1 312.9 L252.3 311.9 L252.5 311.6 L252.7 310.6" stroke="#ffaa00" stroke-width="4.6" fill="none" stroke-linecap="round" stroke-linejoin="round"/><path d="M252.7 310.6 L252.9 308.8 L253.0 306.9 L253.2 306.1 L253.4 304.8 L253.6 304.7 L253.8 305.5" stroke="#ffae00" stroke-width="4.6" fill="none" stroke-linecap="round" stroke-linejoin="round"/><path d="M253.8 305.5 L254.0 305.7 L254.2 306.1 L254.4 306.7 L254.6 307.4 L254.7 307.6 L254.9 307.8" stroke="#ffb200" stroke-width="4.6" fill="none" stroke-linecap="round" stroke-linejoin="round"/><path d="M254.9 307.8 L255.1 308.4 L255.3 308.9 L255.5 308.4 L255.7 308.6 L255.9 308.4 L256.1 308.0" stroke="#ffb600" stroke-width="4.6" fill="none" stroke-linecap="round" stroke-linejoin="round"/><path d="M256.1 308.0 L256.3 308.2 L256.5 306.9 L256.6 307.7 L256.8 307.3 L257.0 307.7 L257.2 306.6" stroke="#ffba00" stroke-width="4.6" fill="none" stroke-linecap="round" stroke-linejoin="round"/><path d="M257.2 306.6 L257.4 305.8 L257.6 307.4 L257.8 308.1 L258.0 307.7 L258.2 307.2 L258.3 306.8" stroke="#ffbe00" stroke-width="4.6" fill="none" stroke-linecap="round" stroke-linejoin="round"/><path d="M258.3 306.8 L258.5 307.0 L258.7 306.8 L258.9 306.4 L259.1 306.6 L259.3 306.0 L259.5 307.6" stroke="#ffc200" stroke-width="4.6" fill="none" stroke-linecap="round" stroke-linejoin="round"/><path d="M259.5 307.6 L259.7 307.4 L259.9 308.4 L260.0 307.9 L260.2 308.4 L260.4 309.2 L260.6 309.1" stroke="#ffc600" stroke-width="4.6" fill="none" stroke-linecap="round" stroke-linejoin="round"/><path d="M260.6 309.1 L260.8 309.9 L261.0 310.5 L261.2 311.6 L261.4 311.5 L261.6 311.2 L261.8 310.6" stroke="#ffca00" stroke-width="4.6" fill="none" stroke-linecap="round" stroke-linejoin="round"/><path d="M261.8 310.6 L261.9 310.8 L262.1 310.4 L262.3 310.6 L262.5 310.9 L262.7 310.8 L262.9 310.5" stroke="#ffce00" stroke-width="4.6" fill="none" stroke-linecap="round" stroke-linejoin="round"/><path d="M262.9 310.5 L263.1 311.1 L263.3 311.6 L263.5 311.9 L263.6 312.2 L263.8 313.0 L264.0 312.5" stroke="#ffd200" stroke-width="4.6" fill="none" stroke-linecap="round" stroke-linejoin="round"/><path d="M264.0 312.5 L264.2 313.6 L264.4 314.2 L264.6 315.5 L264.8 316.1 L265.0 316.7 L265.2 317.8" stroke="#ffd600" stroke-width="4.6" fill="none" stroke-linecap="round" stroke-linejoin="round"/><path d="M265.2 317.8 L265.4 317.3 L265.5 318.1 L265.7 318.0 L265.9 318.5 L266.1 318.9 L266.3 319.1" stroke="#ffda00" stroke-width="4.6" fill="none" stroke-linecap="round" stroke-linejoin="round"/><path d="M266.3 319.1 L266.5 318.6 L266.7 318.5 L266.9 318.2 L267.1 318.2 L267.2 319.1 L267.4 318.8" stroke="#ffde00" stroke-width="4.6" fill="none" stroke-linecap="round" stroke-linejoin="round"/><path d="M267.4 318.8 L267.6 319.8 L267.8 318.9 L268.0 318.8 L268.2 318.6 L268.4 318.2 L268.6 317.4" stroke="#ffe200" stroke-width="4.6" fill="none" stroke-linecap="round" stroke-linejoin="round"/><path d="M268.6 317.4 L268.8 317.7 L268.9 318.2 L269.1 318.1 L269.3 318.6 L269.5 318.2 L269.7 316.3" stroke="#ffe600" stroke-width="4.6" fill="none" stroke-linecap="round" stroke-linejoin="round"/><path d="M269.7 316.3 L269.9 316.3 L270.1 315.1 L270.3 315.4 L270.5 314.5 L270.7 314.1 L270.8 313.5" stroke="#ffea00" stroke-width="4.6" fill="none" stroke-linecap="round" stroke-linejoin="round"/><path d="M270.8 313.5 L271.0 312.5 L271.2 311.1 L271.4 310.8 L271.6 310.6 L271.8 311.0 L272.0 310.4" stroke="#fbeb00" stroke-width="4.6" fill="none" stroke-linecap="round" stroke-linejoin="round"/><path d="M272.0 310.4 L272.2 310.4 L272.4 309.7 L272.5 309.6 L272.7 308.3 L272.9 309.6 L273.1 309.6" stroke="#f8eb00" stroke-width="4.6" fill="none" stroke-linecap="round" stroke-linejoin="round"/><path d="M273.1 309.6 L273.3 308.8 L273.5 308.8 L273.7 309.1 L273.9 309.0 L274.1 309.6 L274.3 309.2" stroke="#f4ec00" stroke-width="4.6" fill="none" stroke-linecap="round" stroke-linejoin="round"/><path d="M274.3 309.2 L274.4 307.3 L274.6 306.4 L274.8 307.1 L275.0 307.5 L275.2 307.5 L275.4 306.6" stroke="#f1ed00" stroke-width="4.6" fill="none" stroke-linecap="round" stroke-linejoin="round"/><path d="M275.4 306.6 L275.6 307.0 L275.8 307.2 L276.0 306.3 L276.1 305.6 L276.3 305.7 L276.5 306.2" stroke="#eeee00" stroke-width="4.6" fill="none" stroke-linecap="round" stroke-linejoin="round"/><path d="M276.5 306.2 L276.7 306.9 L276.9 306.9 L277.1 308.2 L277.3 307.3 L277.5 307.5 L277.7 307.0" stroke="#eaee00" stroke-width="4.6" fill="none" stroke-linecap="round" stroke-linejoin="round"/><path d="M277.7 307.0 L277.9 305.7 L278.0 305.1 L278.2 306.0 L278.4 305.5 L278.6 304.9 L278.8 305.7" stroke="#e7ef00" stroke-width="4.6" fill="none" stroke-linecap="round" stroke-linejoin="round"/><path d="M278.8 305.7 L279.0 306.4 L279.2 306.5 L279.4 307.6 L279.6 306.6 L279.7 308.2 L279.9 308.7" stroke="#e3f000" stroke-width="4.6" fill="none" stroke-linecap="round" stroke-linejoin="round"/><path d="M279.9 308.7 L280.1 308.6 L280.3 308.6 L280.5 308.3 L280.7 308.0 L280.9 308.1 L281.1 307.3" stroke="#e0f000" stroke-width="4.6" fill="none" stroke-linecap="round" stroke-linejoin="round"/><path d="M281.1 307.3 L281.3 308.7 L281.4 308.6 L281.6 308.9 L281.8 308.7 L282.0 308.5 L282.2 309.0" stroke="#dcf100" stroke-width="4.6" fill="none" stroke-linecap="round" stroke-linejoin="round"/><path d="M282.2 309.0 L282.4 309.3 L282.6 308.6 L282.8 307.9 L283.0 307.9 L283.2 306.1 L283.3 304.3" stroke="#d9f200" stroke-width="4.6" fill="none" stroke-linecap="round" stroke-linejoin="round"/><path d="M283.3 304.3 L283.5 305.1 L283.7 304.7 L283.9 302.8 L284.1 302.3 L284.3 302.1 L284.5 302.2" stroke="#d6f200" stroke-width="4.6" fill="none" stroke-linecap="round" stroke-linejoin="round"/><path d="M284.5 302.2 L284.7 302.4 L284.9 302.3 L285.0 302.3 L285.2 301.5 L285.4 301.5 L285.6 301.4" stroke="#d2f300" stroke-width="4.6" fill="none" stroke-linecap="round" stroke-linejoin="round"/><path d="M285.6 301.4 L285.8 301.8 L286.0 301.3 L286.2 301.4 L286.4 301.0 L286.6 299.8 L286.8 299.1" stroke="#cff400" stroke-width="4.6" fill="none" stroke-linecap="round" stroke-linejoin="round"/><path d="M286.8 299.1 L286.9 298.4 L287.1 297.8 L287.3 297.5 L287.5 297.2 L287.7 297.1 L287.9 296.2" stroke="#cbf400" stroke-width="4.6" fill="none" stroke-linecap="round" stroke-linejoin="round"/><path d="M287.9 296.2 L288.1 296.6 L288.3 295.3 L288.5 295.0 L288.6 295.2 L288.8 295.1 L289.0 295.1" stroke="#c8f500" stroke-width="4.6" fill="none" stroke-linecap="round" stroke-linejoin="round"/><path d="M289.0 295.1 L289.2 294.5 L289.4 293.1 L289.6 290.4 L289.8 289.1 L290.0 288.6 L290.2 287.0" stroke="#c5f600" stroke-width="4.6" fill="none" stroke-linecap="round" stroke-linejoin="round"/><path d="M290.2 287.0 L290.3 286.1 L290.5 283.9 L290.7 281.0 L290.9 278.6 L291.1 277.5 L291.3 275.9" stroke="#c1f700" stroke-width="4.6" fill="none" stroke-linecap="round" stroke-linejoin="round"/><path d="M291.3 275.9 M291.5 272.7h.01 L291.7 270.6 L291.9 269.6 L292.1 268.0 L292.2 265.6 L292.4 264.1" stroke="#bef700" stroke-width="4.6" fill="none" stroke-linecap="round" stroke-linejoin="round"/><path d="M292.4 264.1 L292.6 263.5 L292.8 262.6 L293.0 261.6 L293.2 261.3 L293.4 261.2 L293.6 260.3" stroke="#baf800" stroke-width="4.6" fill="none" stroke-linecap="round" stroke-linejoin="round"/><path d="M293.6 260.3 L293.8 260.1 L293.9 259.1 L294.1 259.1 L294.3 257.8 L294.5 258.6 L294.7 258.9" stroke="#b7f900" stroke-width="4.6" fill="none" stroke-linecap="round" stroke-linejoin="round"/><path d="M294.7 258.9 L294.9 259.5 L295.1 259.7 L295.3 259.5 L295.5 260.4 L295.7 261.4 L295.8 262.9" stroke="#b3f900" stroke-width="4.6" fill="none" stroke-linecap="round" stroke-linejoin="round"/><path d="M295.8 262.9 L296.0 265.0 L296.2 266.2 L296.4 267.7 L296.6 269.9 L296.8 271.7 L297.0 273.2" stroke="#b0fa00" stroke-width="4.6" fill="none" stroke-linecap="round" stroke-linejoin="round"/><path d="M297.0 273.2 L297.2 274.4 L297.4 276.4 L297.5 275.8 L297.7 276.3 L297.9 276.1 L298.1 274.1" stroke="#adfb00" stroke-width="4.6" fill="none" stroke-linecap="round" stroke-linejoin="round"/><path d="M298.1 274.1 L298.3 274.8 L298.5 274.1 L298.7 273.0 L298.9 272.4 L299.1 272.1 L299.2 271.2" stroke="#a9fb00" stroke-width="4.6" fill="none" stroke-linecap="round" stroke-linejoin="round"/><path d="M299.2 271.2 L299.4 270.4 L299.6 269.6 L299.8 270.0 L300.0 269.2 L300.2 269.2 L300.4 269.0" stroke="#a6fc00" stroke-width="4.6" fill="none" stroke-linecap="round" stroke-linejoin="round"/><path d="M300.4 269.0 L300.6 268.3 L300.8 267.4 L301.0 266.5 L301.1 266.5 L301.3 265.6 L301.5 264.7" stroke="#a2fd00" stroke-width="4.6" fill="none" stroke-linecap="round" stroke-linejoin="round"/><path d="M301.5 264.7 L301.7 263.9 L301.9 263.0 L302.1 263.1 L302.3 263.3 L302.5 262.7 L302.7 263.6" stroke="#9ffd00" stroke-width="4.6" fill="none" stroke-linecap="round" stroke-linejoin="round"/><path d="M302.7 263.6 L302.8 263.6 L303.0 264.1 L303.2 264.4 L303.4 265.6 L303.6 266.0 L303.8 265.8" stroke="#9bfe00" stroke-width="4.6" fill="none" stroke-linecap="round" stroke-linejoin="round"/><path d="M303.8 265.8 L304.0 265.1 L304.2 264.5 L304.4 264.6 L304.6 264.8 L304.7 265.4 L304.9 265.1" stroke="#98ff00" stroke-width="4.6" fill="none" stroke-linecap="round" stroke-linejoin="round"/><path d="M304.9 265.1 L305.1 265.3 L305.3 264.9 L305.5 263.9 L305.7 264.2 L305.9 265.3 L306.1 266.2" stroke="#95ff03" stroke-width="4.6" fill="none" stroke-linecap="round" stroke-linejoin="round"/><path d="M306.1 266.2 L306.3 267.4 L306.4 268.4 L306.6 267.6 L306.8 267.8 L307.0 269.0 L307.2 268.8" stroke="#91ff08" stroke-width="4.6" fill="none" stroke-linecap="round" stroke-linejoin="round"/><path d="M307.2 268.8 L307.4 268.3 L307.6 268.9 L307.8 269.7 L308.0 270.2 L308.2 270.3 L308.3 270.3" stroke="#8dff0d" stroke-width="4.6" fill="none" stroke-linecap="round" stroke-linejoin="round"/><path d="M308.3 270.3 L308.5 269.9 L308.7 269.7 L308.9 269.6 L309.1 269.4 L309.3 269.7 L309.5 271.5" stroke="#8aff12" stroke-width="4.6" fill="none" stroke-linecap="round" stroke-linejoin="round"/><path d="M309.5 271.5 L309.7 272.1 L309.9 272.5 L310.0 273.3 L310.2 273.2 L310.4 274.0 L310.6 274.4" stroke="#86ff17" stroke-width="4.6" fill="none" stroke-linecap="round" stroke-linejoin="round"/><path d="M310.6 274.4 L310.8 273.2 L311.0 272.6 L311.2 272.3 L311.4 271.6 L311.6 270.9 L311.7 270.7" stroke="#83ff1c" stroke-width="4.6" fill="none" stroke-linecap="round" stroke-linejoin="round"/><path d="M311.7 270.7 L311.9 272.2 L312.1 272.4 L312.3 272.3 L312.5 272.5 L312.7 271.9 L312.9 270.8" stroke="#7fff21" stroke-width="4.6" fill="none" stroke-linecap="round" stroke-linejoin="round"/><path d="M312.9 270.8 L313.1 271.4 L313.3 272.4 L313.5 271.3 L313.6 272.0 L313.8 273.2 L314.0 273.2" stroke="#7cff26" stroke-width="4.6" fill="none" stroke-linecap="round" stroke-linejoin="round"/><path d="M314.0 273.2 L314.2 273.2 L314.4 274.0 L314.6 273.8 L314.8 274.4 L315.0 275.3 L315.2 275.4" stroke="#78ff2b" stroke-width="4.6" fill="none" stroke-linecap="round" stroke-linejoin="round"/><path d="M315.2 275.4 L315.3 275.1 L315.5 275.9 L315.7 275.9 L315.9 276.3 L316.1 274.9 L316.3 275.9" stroke="#75ff30" stroke-width="4.6" fill="none" stroke-linecap="round" stroke-linejoin="round"/><path d="M316.3 275.9 L316.5 275.5 L316.7 276.1 L316.9 276.7 L317.1 276.8 L317.2 276.7 L317.4 276.5" stroke="#71ff35" stroke-width="4.6" fill="none" stroke-linecap="round" stroke-linejoin="round"/><path d="M317.4 276.5 L317.6 277.0 L317.8 278.0 L318.0 278.9 L318.2 279.1 L318.4 279.2 L318.6 278.8" stroke="#6eff3a" stroke-width="4.6" fill="none" stroke-linecap="round" stroke-linejoin="round"/><path d="M318.6 278.8 L318.8 279.2 L318.9 279.2 L319.1 278.4 L319.3 278.6 L319.5 279.8 L319.7 280.6" stroke="#6aff3f" stroke-width="4.6" fill="none" stroke-linecap="round" stroke-linejoin="round"/><path d="M319.7 280.6 L319.9 281.4 L320.1 280.2 L320.3 280.7 L320.5 279.7 L320.6 279.3 L320.8 278.3" stroke="#67ff44" stroke-width="4.6" fill="none" stroke-linecap="round" stroke-linejoin="round"/><path d="M320.8 278.3 L321.0 277.8 L321.2 278.1 L321.4 278.3 L321.6 278.3 L321.8 278.3 L322.0 278.7" stroke="#63ff49" stroke-width="4.6" fill="none" stroke-linecap="round" stroke-linejoin="round"/><path d="M322.0 278.7 L322.2 278.7 L322.4 277.6 L322.5 278.7 L322.7 278.5 L322.9 278.8 L323.1 278.4" stroke="#60ff4e" stroke-width="4.6" fill="none" stroke-linecap="round" stroke-linejoin="round"/><path d="M323.1 278.4 L323.3 277.6 L323.5 277.4 L323.7 276.7 L323.9 277.6 L324.1 276.6 L324.2 276.7" stroke="#5cff53" stroke-width="4.6" fill="none" stroke-linecap="round" stroke-linejoin="round"/><path d="M324.2 276.7 L324.4 276.1 L324.6 275.8 L324.8 277.2 L325.0 277.2 L325.2 276.6 L325.4 275.1" stroke="#59ff57" stroke-width="4.6" fill="none" stroke-linecap="round" stroke-linejoin="round"/><path d="M325.4 275.1 L325.6 274.7 L325.8 274.3 L326.0 275.0 L326.1 273.7 L326.3 272.4 L326.5 272.3" stroke="#55ff5c" stroke-width="4.6" fill="none" stroke-linecap="round" stroke-linejoin="round"/><path d="M326.5 272.3 L326.7 272.4 L326.9 273.3 L327.1 272.4 L327.3 270.5 L327.5 270.1 L327.7 269.3" stroke="#52ff61" stroke-width="4.6" fill="none" stroke-linecap="round" stroke-linejoin="round"/><path d="M327.7 269.3 L327.8 269.1 L328.0 269.9 L328.2 269.0 L328.4 269.8 L328.6 269.9 L328.8 269.6" stroke="#4eff66" stroke-width="4.6" fill="none" stroke-linecap="round" stroke-linejoin="round"/><path d="M328.8 269.6 L329.0 268.9 L329.2 268.8 L329.4 268.8 L329.6 269.5 L329.7 270.4 L329.9 270.4" stroke="#4bff6b" stroke-width="4.6" fill="none" stroke-linecap="round" stroke-linejoin="round"/><path d="M329.9 270.4 L330.1 270.8 L330.3 271.6 L330.5 272.2 L330.7 272.3 L330.9 273.2 L331.1 273.6" stroke="#47ff70" stroke-width="4.6" fill="none" stroke-linecap="round" stroke-linejoin="round"/><path d="M331.1 273.6 L331.3 274.2 L331.4 273.5 L331.6 272.8 L331.8 271.2 L332.0 272.1 L332.2 272.3" stroke="#43ff75" stroke-width="4.6" fill="none" stroke-linecap="round" stroke-linejoin="round"/><path d="M332.2 272.3 L332.4 271.5 L332.6 271.5 L332.8 271.6 L333.0 270.4 L333.1 270.7 L333.3 271.4" stroke="#40ff7a" stroke-width="4.6" fill="none" stroke-linecap="round" stroke-linejoin="round"/><path d="M333.3 271.4 L333.5 272.2 L333.7 271.8 L333.9 271.4 L334.1 272.2 L334.3 272.7 L334.5 272.1" stroke="#3cff7f" stroke-width="4.6" fill="none" stroke-linecap="round" stroke-linejoin="round"/><path d="M334.5 272.1 L334.7 271.6 L334.9 272.0 L335.0 271.5 L335.2 271.1 L335.4 272.3 L335.6 272.4" stroke="#39ff84" stroke-width="4.6" fill="none" stroke-linecap="round" stroke-linejoin="round"/><path d="M335.6 272.4 L335.8 272.0 L336.0 272.3 L336.2 273.6 L336.4 273.5 L336.6 272.8 L336.7 271.7" stroke="#35ff89" stroke-width="4.6" fill="none" stroke-linecap="round" stroke-linejoin="round"/><path d="M336.7 271.7 L336.9 273.1 L337.1 271.3 L337.3 272.1 L337.5 271.5 L337.7 270.9 L337.9 270.5" stroke="#32ff8e" stroke-width="4.6" fill="none" stroke-linecap="round" stroke-linejoin="round"/><path d="M337.9 270.5 L338.1 270.6 L338.3 271.6 L338.5 271.4 L338.6 272.0 L338.8 273.7 L339.0 271.7" stroke="#2eff93" stroke-width="4.6" fill="none" stroke-linecap="round" stroke-linejoin="round"/><path d="M339.0 271.7 L339.2 271.4 L339.4 270.5 L339.6 271.4 L339.8 270.7 L340.0 270.1 L340.2 269.5" stroke="#2cfe97" stroke-width="4.6" fill="none" stroke-linecap="round" stroke-linejoin="round"/><path d="M340.2 269.5 L340.3 270.2 L340.5 271.6 L340.7 272.2 L340.9 273.9 L341.1 275.2 L341.3 275.1" stroke="#2afa9b" stroke-width="4.6" fill="none" stroke-linecap="round" stroke-linejoin="round"/><path d="M341.3 275.1 L341.5 275.8 L341.7 275.9 L341.9 276.0 L342.0 274.8 L342.2 274.2 L342.4 274.6" stroke="#29f79e" stroke-width="4.6" fill="none" stroke-linecap="round" stroke-linejoin="round"/><path d="M342.4 274.6 L342.6 274.2 L342.8 275.1 L343.0 275.6 L343.2 275.3 L343.4 276.5 L343.6 276.8" stroke="#27f4a2" stroke-width="4.6" fill="none" stroke-linecap="round" stroke-linejoin="round"/><path d="M343.6 276.8 L343.8 277.9 L343.9 277.7 L344.1 276.6 L344.3 277.1 L344.5 277.0 L344.7 277.6" stroke="#26f0a5" stroke-width="4.6" fill="none" stroke-linecap="round" stroke-linejoin="round"/><path d="M344.7 277.6 L344.9 278.3 L345.1 278.9 L345.3 277.8 L345.5 276.3 L345.6 276.1 L345.8 276.8" stroke="#24eda8" stroke-width="4.6" fill="none" stroke-linecap="round" stroke-linejoin="round"/><path d="M345.8 276.8 L346.0 276.5 L346.2 277.0 L346.4 276.7 L346.6 276.8 L346.8 276.9 L347.0 276.8" stroke="#23eaac" stroke-width="4.6" fill="none" stroke-linecap="round" stroke-linejoin="round"/><path d="M347.0 276.8 L347.2 277.5 L347.4 278.0 L347.5 279.3 L347.7 279.6 L347.9 280.5 L348.1 280.5" stroke="#21e6af" stroke-width="4.6" fill="none" stroke-linecap="round" stroke-linejoin="round"/><path d="M348.1 280.5 L348.3 281.0 L348.5 280.8 L348.7 280.5 L348.9 281.3 L349.1 281.7 L349.2 282.2" stroke="#20e3b3" stroke-width="4.6" fill="none" stroke-linecap="round" stroke-linejoin="round"/><path d="M349.2 282.2 L349.4 281.5 L349.6 280.4 L349.8 280.0 L350.0 280.4 L350.2 279.6 L350.4 280.9" stroke="#1edfb6" stroke-width="4.6" fill="none" stroke-linecap="round" stroke-linejoin="round"/><path d="M350.4 280.9 L350.6 280.1 L350.8 281.2 L350.9 283.5 L351.1 282.2 L351.3 281.8 L351.5 283.2" stroke="#1ddcba" stroke-width="4.6" fill="none" stroke-linecap="round" stroke-linejoin="round"/><path d="M351.5 283.2 L351.7 283.8 L351.9 284.5 L352.1 285.1 L352.3 286.6 L352.5 287.5 L352.7 286.8" stroke="#1cd9bd" stroke-width="4.6" fill="none" stroke-linecap="round" stroke-linejoin="round"/><path d="M352.7 286.8 L352.8 286.3 L353.0 285.2 L353.2 284.9 L353.4 283.2 L353.6 283.6 L353.8 283.3" stroke="#1ad5c1" stroke-width="4.6" fill="none" stroke-linecap="round" stroke-linejoin="round"/><path d="M353.8 283.3 L354.0 284.4 L354.2 284.8 L354.4 283.6 L354.5 283.8 L354.7 283.1 L354.9 282.8" stroke="#19d2c4" stroke-width="4.6" fill="none" stroke-linecap="round" stroke-linejoin="round"/><path d="M354.9 282.8 L355.1 283.2 L355.3 283.0 L355.5 283.4 L355.7 283.8 L355.9 283.3 L356.1 283.1" stroke="#17cec8" stroke-width="4.6" fill="none" stroke-linecap="round" stroke-linejoin="round"/><path d="M356.1 283.1 L356.3 283.7 L356.4 284.4 L356.6 284.3 L356.8 284.5 L357.0 284.0 L357.2 282.6" stroke="#16cbcb" stroke-width="4.6" fill="none" stroke-linecap="round" stroke-linejoin="round"/><path d="M357.2 282.6 L357.4 282.6 L357.6 283.2 L357.8 283.8 L358.0 284.7 L358.1 285.6 L358.3 286.5" stroke="#14c8ce" stroke-width="4.6" fill="none" stroke-linecap="round" stroke-linejoin="round"/><path d="M358.3 286.5 L358.5 285.9 L358.7 285.2 L358.9 283.8 L359.1 283.3 L359.3 282.5 L359.5 282.4" stroke="#13c4d2" stroke-width="4.6" fill="none" stroke-linecap="round" stroke-linejoin="round"/><path d="M359.5 282.4 L359.7 280.4 L359.9 280.2 L360.0 279.3 L360.2 279.1 L360.4 278.6 L360.6 279.2" stroke="#11c1d5" stroke-width="4.6" fill="none" stroke-linecap="round" stroke-linejoin="round"/><path d="M360.6 279.2 L360.8 279.2 L361.0 277.9 L361.2 279.3 L361.4 279.0 L361.6 278.5 L361.7 278.8" stroke="#10bdd9" stroke-width="4.6" fill="none" stroke-linecap="round" stroke-linejoin="round"/><path d="M361.7 278.8 L361.9 279.0 L362.1 278.7 L362.3 279.8 L362.5 280.0 L362.7 281.1 L362.9 281.9" stroke="#0fbadc" stroke-width="4.6" fill="none" stroke-linecap="round" stroke-linejoin="round"/><path d="M362.9 281.9 L363.1 282.5 L363.3 282.8 L363.4 282.9 L363.6 282.8 L363.8 284.0 L364.0 282.9" stroke="#0db7e0" stroke-width="4.6" fill="none" stroke-linecap="round" stroke-linejoin="round"/><path d="M364.0 282.9 L364.2 282.4 L364.4 282.4 L364.6 283.0 L364.8 283.5 L365.0 283.5 L365.2 283.6" stroke="#0cb3e3" stroke-width="4.6" fill="none" stroke-linecap="round" stroke-linejoin="round"/><path d="M365.2 283.6 L365.3 285.0 L365.5 284.7 L365.7 283.1 L365.9 284.8 L366.1 284.5 L366.3 284.6" stroke="#0ab0e7" stroke-width="4.6" fill="none" stroke-linecap="round" stroke-linejoin="round"/><path d="M366.3 284.6 L366.5 285.1 L366.7 284.6 L366.9 285.8 L367.0 285.8 L367.2 285.0 L367.4 285.4" stroke="#09acea" stroke-width="4.6" fill="none" stroke-linecap="round" stroke-linejoin="round"/><path d="M367.4 285.4 L367.6 285.9 L367.8 286.0 L368.0 286.4 L368.2 285.5 L368.4 286.3 L368.6 285.8" stroke="#07a9ee" stroke-width="4.6" fill="none" stroke-linecap="round" stroke-linejoin="round"/><path d="M368.6 285.8 L368.8 286.8 L368.9 286.4 L369.1 286.6 L369.3 289.3 L369.5 290.0 L369.7 291.5" stroke="#06a6f1" stroke-width="4.6" fill="none" stroke-linecap="round" stroke-linejoin="round"/><path d="M369.7 291.5 L369.9 292.5 L370.1 292.2 L370.3 293.9 L370.5 295.4 L370.6 295.2 L370.8 296.0" stroke="#04a2f4" stroke-width="4.6" fill="none" stroke-linecap="round" stroke-linejoin="round"/><path d="M370.8 296.0 L371.0 295.9 L371.2 296.8 L371.4 298.5 L371.6 299.5 L371.8 297.9 L372.0 296.6" stroke="#039ff8" stroke-width="4.6" fill="none" stroke-linecap="round" stroke-linejoin="round"/><path d="M372.0 296.6 L372.2 295.9 L372.3 295.2 L372.5 294.6 L372.7 294.3 L372.9 292.2 L373.1 291.6" stroke="#029cfb" stroke-width="4.6" fill="none" stroke-linecap="round" stroke-linejoin="round"/><path d="M373.1 291.6 L373.3 291.7 L373.5 291.2 L373.7 289.9 L373.9 290.0 L374.1 290.6 L374.2 291.6" stroke="#0098ff" stroke-width="4.6" fill="none" stroke-linecap="round" stroke-linejoin="round"/><path d="M374.2 291.6 L374.4 292.0 L374.6 293.5 L374.8 294.6 L375.0 294.3 L375.2 294.9 L375.4 294.9" stroke="#0094ff" stroke-width="4.6" fill="none" stroke-linecap="round" stroke-linejoin="round"/><path d="M375.4 294.9 L375.6 294.4 L375.8 294.4 L375.9 294.4 L376.1 292.9 L376.3 292.6 L376.5 293.0" stroke="#0090ff" stroke-width="4.6" fill="none" stroke-linecap="round" stroke-linejoin="round"/><path d="M376.5 293.0 L376.7 292.5 L376.9 292.4 L377.1 293.0 L377.3 293.0 L377.5 293.0 L377.7 294.2" stroke="#008cff" stroke-width="4.6" fill="none" stroke-linecap="round" stroke-linejoin="round"/><path d="M377.7 294.2 L377.8 294.1 L378.0 294.0 L378.2 294.0 L378.4 294.7 L378.6 294.5 L378.8 294.1" stroke="#0087ff" stroke-width="4.6" fill="none" stroke-linecap="round" stroke-linejoin="round"/><path d="M378.8 294.1 L379.0 293.6 L379.2 294.0 L379.4 293.2 L379.5 293.6 L379.7 293.3 L379.9 292.1" stroke="#0083ff" stroke-width="4.6" fill="none" stroke-linecap="round" stroke-linejoin="round"/><path d="M379.9 292.1 L380.1 292.3 L380.3 292.3 L380.5 291.5 L380.7 291.8 L380.9 292.0 L381.1 291.8" stroke="#007fff" stroke-width="4.6" fill="none" stroke-linecap="round" stroke-linejoin="round"/><path d="M381.1 291.8 L381.3 291.1 L381.4 292.6 L381.6 293.0 L381.8 293.5 L382.0 293.9 L382.2 294.2" stroke="#007bff" stroke-width="4.6" fill="none" stroke-linecap="round" stroke-linejoin="round"/><path d="M382.2 294.2 L382.4 294.4 L382.6 293.8 L382.8 294.1 L383.0 293.8 L383.1 293.3 L383.3 293.6" stroke="#0077ff" stroke-width="4.6" fill="none" stroke-linecap="round" stroke-linejoin="round"/><path d="M383.3 293.6 L383.5 293.3 L383.7 292.1 L383.9 291.9 L384.1 292.4 L384.3 292.4 L384.5 293.0" stroke="#0073ff" stroke-width="4.6" fill="none" stroke-linecap="round" stroke-linejoin="round"/><path d="M384.5 293.0 L384.7 292.8 L384.8 292.2 L385.0 292.8 L385.2 292.9 L385.4 292.1 L385.6 292.5" stroke="#006eff" stroke-width="4.6" fill="none" stroke-linecap="round" stroke-linejoin="round"/><path d="M385.6 292.5 L385.8 292.4 L386.0 293.1 L386.2 293.6 L386.4 294.0 L386.6 292.6 L386.7 293.1" stroke="#006aff" stroke-width="4.6" fill="none" stroke-linecap="round" stroke-linejoin="round"/><path d="M386.7 293.1 L386.9 293.6 L387.1 294.1 L387.3 294.3 L387.5 293.9 L387.7 294.0 L387.9 292.9" stroke="#0066ff" stroke-width="4.6" fill="none" stroke-linecap="round" stroke-linejoin="round"/><path d="M387.9 292.9 L388.1 293.1 L388.3 292.5 L388.4 292.8 L388.6 292.9 L388.8 294.3 L389.0 294.4" stroke="#0062ff" stroke-width="4.6" fill="none" stroke-linecap="round" stroke-linejoin="round"/><path d="M389.0 294.4 L389.2 294.4 L389.4 294.5 L389.6 295.8 L389.8 295.0 L390.0 295.0 L390.2 295.1" stroke="#005eff" stroke-width="4.6" fill="none" stroke-linecap="round" stroke-linejoin="round"/><path d="M390.2 295.1 L390.3 295.1 L390.5 295.0 L390.7 294.5 L390.9 295.1 L391.1 295.4 L391.3 294.9" stroke="#0059ff" stroke-width="4.6" fill="none" stroke-linecap="round" stroke-linejoin="round"/><path d="M391.3 294.9 L391.5 294.5 L391.7 294.5 L391.9 294.7 L392.0 295.0 L392.2 294.9 L392.4 294.0" stroke="#0055ff" stroke-width="4.6" fill="none" stroke-linecap="round" stroke-linejoin="round"/><path d="M392.4 294.0 L392.6 294.6 L392.8 293.5 L393.0 293.0 L393.2 293.4 L393.4 293.0 L393.6 294.1" stroke="#0051ff" stroke-width="4.6" fill="none" stroke-linecap="round" stroke-linejoin="round"/><path d="M393.6 294.1 L393.7 295.2 L393.9 295.8 L394.1 295.8 L394.3 295.7 L394.5 295.8 L394.7 295.5" stroke="#004dff" stroke-width="4.6" fill="none" stroke-linecap="round" stroke-linejoin="round"/><path d="M394.7 295.5 L394.9 296.6 L395.1 296.0 L395.3 296.6 L395.5 296.7 L395.6 296.6 L395.8 297.0" stroke="#0049ff" stroke-width="4.6" fill="none" stroke-linecap="round" stroke-linejoin="round"/><path d="M395.8 297.0 L396.0 297.4 L396.2 297.6 L396.4 297.2 L396.6 296.4 L396.8 295.8 L397.0 296.2" stroke="#0045ff" stroke-width="4.6" fill="none" stroke-linecap="round" stroke-linejoin="round"/><path d="M397.0 296.2 L397.2 296.5 L397.3 296.8 L397.5 296.2 L397.7 297.2 L397.9 295.9 L398.1 295.9" stroke="#0040ff" stroke-width="4.6" fill="none" stroke-linecap="round" stroke-linejoin="round"/><path d="M398.1 295.9 L398.3 296.0 L398.5 295.4 L398.7 294.5 L398.9 294.1 L399.1 293.3 L399.2 293.2" stroke="#003cff" stroke-width="4.6" fill="none" stroke-linecap="round" stroke-linejoin="round"/><path d="M399.2 293.2 L399.4 292.3 L399.6 291.6 L399.8 291.9 L400.0 291.1 L400.2 291.2 L400.4 291.3" stroke="#0038ff" stroke-width="4.6" fill="none" stroke-linecap="round" stroke-linejoin="round"/><path d="M400.4 291.3 L400.6 292.0 L400.8 292.2 L400.9 291.7 L401.1 292.6 L401.3 292.0 L401.5 291.8" stroke="#0034ff" stroke-width="4.6" fill="none" stroke-linecap="round" stroke-linejoin="round"/><path d="M401.5 291.8 L401.7 291.6 L401.9 292.9 L402.1 292.8 L402.3 292.1 L402.5 292.5 L402.6 292.2" stroke="#0030ff" stroke-width="4.6" fill="none" stroke-linecap="round" stroke-linejoin="round"/><path d="M402.6 292.2 L402.8 293.5 L403.0 292.7 L403.2 292.8 L403.4 291.9 L403.6 292.6 L403.8 291.6" stroke="#002bff" stroke-width="4.6" fill="none" stroke-linecap="round" stroke-linejoin="round"/><path d="M403.8 291.6 L404.0 291.2 L404.2 290.2 L404.4 290.3 L404.5 290.2 L404.7 288.3 L404.9 288.5" stroke="#0027ff" stroke-width="4.6" fill="none" stroke-linecap="round" stroke-linejoin="round"/><path d="M404.9 288.5 L405.1 288.6 L405.3 288.3 L405.5 288.5 L405.7 287.6 L405.9 286.6 L406.1 287.3" stroke="#0023ff" stroke-width="4.6" fill="none" stroke-linecap="round" stroke-linejoin="round"/><path d="M406.1 287.3 L406.2 288.5 L406.4 287.8 L406.6 287.2 L406.8 286.9 L407.0 286.4 L407.2 287.3" stroke="#001fff" stroke-width="4.6" fill="none" stroke-linecap="round" stroke-linejoin="round"/><path d="M407.2 287.3 L407.4 287.7 L407.6 288.8 L407.8 289.7 L408.0 289.0 L408.1 289.5 L408.3 288.1" stroke="#001bff" stroke-width="4.6" fill="none" stroke-linecap="round" stroke-linejoin="round"/><path d="M408.3 288.1 L408.5 288.2 L408.7 288.9 L408.9 288.5 L409.1 287.6 L409.3 287.6 L409.5 289.0" stroke="#0019fe" stroke-width="4.6" fill="none" stroke-linecap="round" stroke-linejoin="round"/><path d="M409.5 289.0 L409.7 289.1 L409.8 288.7 L410.0 289.5 L410.2 290.4 L410.4 290.2 L410.6 290.5" stroke="#0018fc" stroke-width="4.6" fill="none" stroke-linecap="round" stroke-linejoin="round"/><path d="M410.6 290.5 L410.8 291.6 L411.0 292.2 L411.2 292.9 L411.4 292.9 L411.6 293.1 L411.7 292.6" stroke="#0017fa" stroke-width="4.6" fill="none" stroke-linecap="round" stroke-linejoin="round"/><path d="M411.7 292.6 L411.9 292.6 L412.1 294.0 L412.3 294.0 L412.5 293.7 L412.7 293.8 L412.9 293.6" stroke="#0016f9" stroke-width="4.6" fill="none" stroke-linecap="round" stroke-linejoin="round"/><path d="M412.9 293.6 L413.1 294.4 L413.3 295.4 L413.4 295.1 L413.6 296.2 L413.8 297.3 L414.0 296.2" stroke="#0015f7" stroke-width="4.6" fill="none" stroke-linecap="round" stroke-linejoin="round"/><path d="M414.0 296.2 L414.2 296.3 L414.4 296.1 L414.6 296.5 L414.8 296.8 L415.0 297.0 L415.1 296.5" stroke="#0014f5" stroke-width="4.6" fill="none" stroke-linecap="round" stroke-linejoin="round"/><path d="M415.1 296.5 L415.3 295.9 L415.5 297.0 L415.7 296.1 L415.9 296.5 L416.1 296.7 L416.3 295.9" stroke="#0014f3" stroke-width="4.6" fill="none" stroke-linecap="round" stroke-linejoin="round"/><path d="M416.3 295.9 L416.5 295.6 L416.7 296.3 L416.9 294.7 L417.0 295.1 L417.2 294.7 L417.4 294.4" stroke="#0013f1" stroke-width="4.6" fill="none" stroke-linecap="round" stroke-linejoin="round"/><path d="M417.4 294.4 L417.6 293.4 L417.8 293.7 L418.0 293.1 L418.2 293.6 L418.4 292.9 L418.6 293.5" stroke="#0012ef" stroke-width="4.6" fill="none" stroke-linecap="round" stroke-linejoin="round"/><path d="M418.6 293.5 L418.7 293.7 L418.9 292.5 L419.1 292.4 L419.3 292.5 L419.5 291.2 L419.7 291.3" stroke="#0011ee" stroke-width="4.6" fill="none" stroke-linecap="round" stroke-linejoin="round"/><path d="M419.7 291.3 L419.9 292.1 L420.1 291.8 L420.3 292.8 L420.5 292.2 L420.6 291.6 L420.8 292.2" stroke="#0010ec" stroke-width="4.6" fill="none" stroke-linecap="round" stroke-linejoin="round"/><path d="M420.8 292.2 L421.0 292.4 L421.2 292.0 L421.4 291.8 L421.6 292.1 L421.8 291.4 L422.0 292.3" stroke="#000fea" stroke-width="4.6" fill="none" stroke-linecap="round" stroke-linejoin="round"/><path d="M422.0 292.3 L422.2 292.1 L422.3 291.8 L422.5 291.4 L422.7 290.7 L422.9 291.0 L423.1 290.1" stroke="#000fe8" stroke-width="4.6" fill="none" stroke-linecap="round" stroke-linejoin="round"/><path d="M423.1 290.1 L423.3 289.7 L423.5 289.6 L423.7 289.9 L423.9 290.1 L424.0 289.1 L424.2 289.1" stroke="#000ee6" stroke-width="4.6" fill="none" stroke-linecap="round" stroke-linejoin="round"/><path d="M424.2 289.1 L424.4 288.4 L424.6 287.2 L424.8 286.0 L425.0 284.7 L425.2 284.7 L425.4 285.1" stroke="#000de5" stroke-width="4.6" fill="none" stroke-linecap="round" stroke-linejoin="round"/><path d="M425.4 285.1 L425.6 284.1 L425.8 283.6 L425.9 282.7 L426.1 282.5 L426.3 281.6 L426.5 280.9" stroke="#000ce3" stroke-width="4.6" fill="none" stroke-linecap="round" stroke-linejoin="round"/><path d="M426.5 280.9 L426.7 280.4 L426.9 280.1 L427.1 279.8 L427.3 279.6 L427.5 280.6 L427.6 281.0" stroke="#000be1" stroke-width="4.6" fill="none" stroke-linecap="round" stroke-linejoin="round"/><path d="M427.6 281.0 L427.8 282.5 L428.0 282.4 L428.2 283.7 L428.4 284.2 L428.6 285.4 L428.8 285.6" stroke="#000bdf" stroke-width="4.6" fill="none" stroke-linecap="round" stroke-linejoin="round"/><path d="M428.8 285.6 L429.0 284.3 L429.2 284.7 L429.4 285.5 L429.5 285.9 L429.7 285.9 L429.9 284.3" stroke="#000add" stroke-width="4.6" fill="none" stroke-linecap="round" stroke-linejoin="round"/><path d="M429.9 284.3 L430.1 284.2 L430.3 283.5 L430.5 284.2 L430.7 283.9 L430.9 283.4 L431.1 282.2" stroke="#0009dc" stroke-width="4.6" fill="none" stroke-linecap="round" stroke-linejoin="round"/><path d="M431.1 282.2 L431.2 282.7 L431.4 282.3 L431.6 282.1 L431.8 282.8 L432.0 282.7 L432.2 282.7" stroke="#0008da" stroke-width="4.6" fill="none" stroke-linecap="round" stroke-linejoin="round"/><path d="M432.2 282.7 L432.4 284.0 L432.6 283.1 L432.8 282.4 L433.0 282.4 L433.1 282.9 L433.3 281.5" stroke="#0007d8" stroke-width="4.6" fill="none" stroke-linecap="round" stroke-linejoin="round"/><path d="M433.3 281.5 L433.5 281.0 L433.7 280.1 L433.9 279.0 L434.1 279.3 L434.3 278.6 L434.5 278.7" stroke="#0006d6" stroke-width="4.6" fill="none" stroke-linecap="round" stroke-linejoin="round"/><path d="M434.5 278.7 L434.7 278.6 L434.8 278.5 L435.0 278.3 L435.2 277.7 L435.4 277.9 L435.6 278.2" stroke="#0006d4" stroke-width="4.6" fill="none" stroke-linecap="round" stroke-linejoin="round"/><path d="M435.6 278.2 L435.8 278.5 L436.0 278.5 L436.2 279.2 L436.4 279.6 L436.5 279.6 L436.7 280.0" stroke="#0005d2" stroke-width="4.6" fill="none" stroke-linecap="round" stroke-linejoin="round"/><path d="M436.7 280.0 L436.9 280.0 L437.1 280.4 L437.3 279.0 L437.5 278.3 L437.7 278.3 L437.9 278.6" stroke="#0004d1" stroke-width="4.6" fill="none" stroke-linecap="round" stroke-linejoin="round"/><path d="M437.9 278.6 L438.1 277.5 L438.3 277.7 L438.4 278.3 L438.6 278.6 L438.8 278.9 L439.0 278.4" stroke="#0003cf" stroke-width="4.6" fill="none" stroke-linecap="round" stroke-linejoin="round"/><path d="M439.0 278.4 L439.2 279.0 L439.4 278.2 L439.6 279.4 L439.8 279.5 L440.0 280.7 L440.1 279.9" stroke="#0002cd" stroke-width="4.6" fill="none" stroke-linecap="round" stroke-linejoin="round"/><path d="M440.1 279.9 L440.3 280.7 L440.5 281.2 L440.7 281.0 L440.9 280.7 L441.1 281.7 L441.3 282.2" stroke="#0001cb" stroke-width="4.6" fill="none" stroke-linecap="round" stroke-linejoin="round"/><path d="M441.3 282.2 L441.5 283.2 L441.7 283.1 L441.9 283.1 L442.0 283.3 L442.2 283.7 L442.4 283.9" stroke="#0001c9" stroke-width="4.6" fill="none" stroke-linecap="round" stroke-linejoin="round"/><path d="M442.4 283.9 L442.6 284.2 L442.8 283.7 L443.0 282.7 L443.2 284.0 L443.4 283.9 L443.6 284.1" stroke="#0100c7" stroke-width="4.6" fill="none" stroke-linecap="round" stroke-linejoin="round"/><path d="M443.6 284.1 L443.7 283.6 L443.9 284.1 L444.1 284.1 L444.3 284.5 L444.5 283.7 L444.7 283.4" stroke="#0600c4" stroke-width="4.6" fill="none" stroke-linecap="round" stroke-linejoin="round"/><path d="M444.7 283.4 L444.9 283.3 L445.1 282.8 L445.3 282.8 L445.4 283.6 L445.6 282.9 L445.8 282.5" stroke="#0b00c0" stroke-width="4.6" fill="none" stroke-linecap="round" stroke-linejoin="round"/><path d="M445.8 282.5 L446.0 282.4 L446.2 281.6 L446.4 280.7 L446.6 281.4 L446.8 281.8 L447.0 280.7" stroke="#1000bc" stroke-width="4.6" fill="none" stroke-linecap="round" stroke-linejoin="round"/><path d="M447.0 280.7 L447.2 279.7 L447.3 280.3 L447.5 281.0 L447.7 281.3 L447.9 281.4 L448.1 282.2" stroke="#1500b9" stroke-width="4.6" fill="none" stroke-linecap="round" stroke-linejoin="round"/><path d="M448.1 282.2 L448.3 281.8 L448.5 282.3 L448.7 282.6 L448.9 281.5 L449.0 281.6 L449.2 281.3" stroke="#1a00b5" stroke-width="4.6" fill="none" stroke-linecap="round" stroke-linejoin="round"/><path d="M449.2 281.3 L449.4 280.6 L449.6 279.8 L449.8 280.0 L450.0 279.9 L450.2 280.5 L450.4 279.3" stroke="#1f00b2" stroke-width="4.6" fill="none" stroke-linecap="round" stroke-linejoin="round"/><path d="M450.4 279.3 L450.6 279.0 L450.8 279.8 L450.9 279.8 L451.1 279.4 L451.3 279.2 L451.5 278.2" stroke="#2400ae" stroke-width="4.6" fill="none" stroke-linecap="round" stroke-linejoin="round"/><path d="M451.5 278.2 L451.7 277.6 L451.9 278.3 L452.1 278.7 L452.3 279.7 L452.5 279.6 L452.6 279.6" stroke="#2900aa" stroke-width="4.6" fill="none" stroke-linecap="round" stroke-linejoin="round"/><path d="M452.6 279.6 L452.8 278.0 L453.0 278.3 L453.2 279.9 L453.4 280.4 L453.6 280.4 L453.8 281.2" stroke="#2d00a7" stroke-width="4.6" fill="none" stroke-linecap="round" stroke-linejoin="round"/><path d="M453.8 281.2 L454.0 281.6 L454.2 281.7 L454.3 281.3 L454.5 281.3 L454.7 281.8 L454.9 281.1" stroke="#3200a3" stroke-width="4.6" fill="none" stroke-linecap="round" stroke-linejoin="round"/><path d="M454.9 281.1 L455.1 281.4 L455.3 281.6 L455.5 282.3 L455.7 282.5 L455.9 281.7 L456.1 282.5" stroke="#37009f" stroke-width="4.6" fill="none" stroke-linecap="round" stroke-linejoin="round"/><path d="M456.1 282.5 L456.2 282.2 L456.4 281.4 L456.6 281.4 L456.8 281.0 L457.0 281.5 L457.2 280.4" stroke="#3c009c" stroke-width="4.6" fill="none" stroke-linecap="round" stroke-linejoin="round"/><path d="M457.2 280.4 L457.4 279.6 L457.6 279.5 L457.8 280.6 L457.9 281.1 L458.1 280.2 L458.3 279.0" stroke="#410098" stroke-width="4.6" fill="none" stroke-linecap="round" stroke-linejoin="round"/><path d="M458.3 279.0 L458.5 278.9 L458.7 278.1 L458.9 278.7 L459.1 278.9 L459.3 278.9 L459.5 278.6" stroke="#460095" stroke-width="4.6" fill="none" stroke-linecap="round" stroke-linejoin="round"/><path d="M459.5 278.6 L459.7 279.6 L459.8 278.9 L460.0 278.1 L460.2 278.9 L460.4 279.7 L460.6 279.3" stroke="#4b0091" stroke-width="4.6" fill="none" stroke-linecap="round" stroke-linejoin="round"/><path d="M460.6 279.3 L460.8 279.6 L461.0 281.0 L461.2 280.1 L461.4 279.7 L461.5 279.7 L461.7 278.1" stroke="#50008d" stroke-width="4.6" fill="none" stroke-linecap="round" stroke-linejoin="round"/><path d="M461.7 278.1 L461.9 277.9 L462.1 278.3 L462.3 278.1 L462.5 278.6 L462.7 278.9 L462.9 278.3" stroke="#55008a" stroke-width="4.6" fill="none" stroke-linecap="round" stroke-linejoin="round"/><path d="M462.9 278.3 L463.1 278.5 L463.3 278.5 L463.4 277.1 L463.6 276.5 L463.8 276.0 L464.0 275.7" stroke="#5a0086" stroke-width="4.6" fill="none" stroke-linecap="round" stroke-linejoin="round"/><path d="M464.0 275.7 L464.2 275.4 L464.4 274.6 L464.6 274.8 L464.8 273.8 L465.0 274.6 L465.1 274.9" stroke="#5f0082" stroke-width="4.6" fill="none" stroke-linecap="round" stroke-linejoin="round"/><path d="M465.1 274.9 L465.3 275.8 L465.5 275.9 L465.7 275.5 L465.9 274.5 L466.1 275.0 L466.3 274.9" stroke="#64007f" stroke-width="4.6" fill="none" stroke-linecap="round" stroke-linejoin="round"/><path d="M466.3 274.9 L466.5 275.1 L466.7 275.4 L466.8 276.0 L467.0 275.7 L467.2 276.2 L467.4 275.3" stroke="#69007b" stroke-width="4.6" fill="none" stroke-linecap="round" stroke-linejoin="round"/><path d="M467.4 275.3 L467.6 274.6 L467.8 274.3 L468.0 274.3 L468.2 274.3 L468.4 272.3 L468.6 272.5" stroke="#6e0078" stroke-width="4.6" fill="none" stroke-linecap="round" stroke-linejoin="round"/><path d="M468.6 272.5 L468.7 270.8 L468.9 269.9 L469.1 269.6 L469.3 269.8 L469.5 268.5 L469.7 266.9" stroke="#730074" stroke-width="4.6" fill="none" stroke-linecap="round" stroke-linejoin="round"/><path d="M469.7 266.9 L469.9 267.2 L470.1 266.9 L470.3 266.4 L470.4 266.5 L470.6 265.6 L470.8 266.4" stroke="#780070" stroke-width="4.6" fill="none" stroke-linecap="round" stroke-linejoin="round"/><path d="M470.8 266.4 L471.0 266.5 L471.2 267.6 L471.4 266.6 L471.6 267.5 L471.8 269.2 L472.0 269.4" stroke="#7c006d" stroke-width="4.6" fill="none" stroke-linecap="round" stroke-linejoin="round"/><path d="M472.0 269.4 L472.2 269.6 L472.3 268.5 L472.5 269.0 L472.7 269.3 L472.9 269.1 L473.1 268.3" stroke="#810069" stroke-width="4.6" fill="none" stroke-linecap="round" stroke-linejoin="round"/><path d="M473.1 268.3 L473.3 268.8 L473.5 268.5 L473.7 268.5 L473.9 269.1 L474.0 269.4 L474.2 269.7" stroke="#860065" stroke-width="4.6" fill="none" stroke-linecap="round" stroke-linejoin="round"/><path d="M474.2 269.7 L474.4 270.6 L474.6 270.0 L474.8 271.2 L475.0 270.6 L475.2 270.3 L475.4 270.7" stroke="#8b0062" stroke-width="4.6" fill="none" stroke-linecap="round" stroke-linejoin="round"/><path d="M475.4 270.7 L475.6 271.4 L475.7 271.8 L475.9 271.6 L476.1 271.4 L476.3 271.5 L476.5 271.1" stroke="#90005e" stroke-width="4.6" fill="none" stroke-linecap="round" stroke-linejoin="round"/><path d="M476.5 271.1 L476.7 271.8 L476.9 272.0 L477.1 273.2 L477.3 272.8 L477.5 272.9 L477.6 273.4" stroke="#95005b" stroke-width="4.6" fill="none" stroke-linecap="round" stroke-linejoin="round"/><path d="M477.6 273.4 L477.8 272.8 L478.0 272.6 L478.2 274.7 L478.4 274.7 L478.6 275.6 L478.8 274.9" stroke="#860066" stroke-width="4.6" fill="none" stroke-linecap="round" stroke-linejoin="round"/><path d="M478.8 274.9 L479.0 273.2 L479.2 273.6 L479.3 273.6 L479.5 273.9 L479.7 273.6 L479.9 273.3" stroke="#860066" stroke-width="4.6" fill="none" stroke-linecap="round" stroke-linejoin="round"/><path d="M479.9 273.3 L480.1 272.6 L480.3 273.4 L480.5 272.5 L480.7 273.2 L480.9 273.1 L481.1 272.5" stroke="#860066" stroke-width="4.6" fill="none" stroke-linecap="round" stroke-linejoin="round"/><path d="M481.1 272.5 L481.2 272.2 L481.4 273.0 L481.6 273.6 L481.8 273.9 L482.0 273.9 L482.2 273.1" stroke="#860066" stroke-width="4.6" fill="none" stroke-linecap="round" stroke-linejoin="round"/><path d="M482.2 273.1 L482.4 274.0 L482.6 273.6 L482.8 273.2 L482.9 272.9 L483.1 272.7 L483.3 271.8" stroke="#860066" stroke-width="4.6" fill="none" stroke-linecap="round" stroke-linejoin="round"/><path d="M483.3 271.8 L483.5 271.7 L483.7 271.4 L483.9 271.4 L484.1 270.5 L484.3 272.1 L484.5 271.5" stroke="#860066" stroke-width="4.6" fill="none" stroke-linecap="round" stroke-linejoin="round"/><path d="M484.5 271.5 L484.7 271.9 L484.8 272.2 L485.0 272.9 L485.2 274.1 L485.4 274.1 L485.6 274.4" stroke="#ff4500" stroke-width="4.6" fill="none" stroke-linecap="round" stroke-linejoin="round"/><path d="M485.6 274.4 L485.8 273.8 L486.0 274.6 L486.2 273.4 L486.4 273.1 L486.5 273.1 L486.7 273.5" stroke="#ff4800" stroke-width="4.6" fill="none" stroke-linecap="round" stroke-linejoin="round"/><path d="M486.7 273.5 L486.9 273.8 L487.1 274.3 L487.3 274.4 L487.5 274.0 L487.7 273.9 L487.9 274.5" stroke="#ff4c00" stroke-width="4.6" fill="none" stroke-linecap="round" stroke-linejoin="round"/><path d="M487.9 274.5 L488.1 274.3 L488.2 274.5 L488.4 274.0 L488.6 272.6 L488.8 272.1 L489.0 272.2" stroke="#ff5000" stroke-width="4.6" fill="none" stroke-linecap="round" stroke-linejoin="round"/><path d="M489.0 272.2 L489.2 273.2 L489.4 273.9 L489.6 274.6 L489.8 273.7 L490.0 273.9 L490.1 273.5" stroke="#ff5300" stroke-width="4.6" fill="none" stroke-linecap="round" stroke-linejoin="round"/><path d="M490.1 273.5 L490.3 273.5 L490.5 273.0 L490.7 271.8 L490.9 272.1 L491.1 272.0 L491.3 272.3" stroke="#ff5700" stroke-width="4.6" fill="none" stroke-linecap="round" stroke-linejoin="round"/><path d="M491.3 272.3 L491.5 271.4 L491.7 271.9 L491.8 272.3 L492.0 272.8 L492.2 273.2 L492.4 272.4" stroke="#ff5b00" stroke-width="4.6" fill="none" stroke-linecap="round" stroke-linejoin="round"/><path d="M492.4 272.4 L492.6 270.3 L492.8 270.8 L493.0 269.9 L493.2 269.6 L493.4 270.2 L493.6 270.2" stroke="#ff5e00" stroke-width="4.6" fill="none" stroke-linecap="round" stroke-linejoin="round"/><path d="M493.6 270.2 L493.7 270.1 L493.9 270.3 L494.1 268.8 L494.3 269.9 L494.5 269.4 L494.7 269.0" stroke="#ff6200" stroke-width="4.6" fill="none" stroke-linecap="round" stroke-linejoin="round"/><path d="M494.7 269.0 L494.9 269.2 L495.1 268.9 L495.3 268.1 L495.4 267.9 L495.6 267.6 L495.8 267.1" stroke="#ff6600" stroke-width="4.6" fill="none" stroke-linecap="round" stroke-linejoin="round"/><path d="M495.8 267.1 L496.0 268.4 L496.2 267.4 L496.4 266.0 L496.6 265.6 L496.8 265.3 L497.0 266.5" stroke="#ff6900" stroke-width="4.6" fill="none" stroke-linecap="round" stroke-linejoin="round"/><path d="M497.0 266.5 L497.1 266.8 L497.3 267.4 L497.5 267.8 L497.7 267.1 L497.9 267.7 L498.1 267.7" stroke="#ff6d00" stroke-width="4.6" fill="none" stroke-linecap="round" stroke-linejoin="round"/><path d="M498.1 267.7 L498.3 268.9 L498.5 268.8 L498.7 268.5 L498.9 268.8 L499.0 269.0 L499.2 267.6" stroke="#ff7100" stroke-width="4.6" fill="none" stroke-linecap="round" stroke-linejoin="round"/><path d="M499.2 267.6 L499.4 268.3 L499.6 268.8 L499.8 269.1 L500.0 268.1 L500.2 266.6 L500.4 266.5" stroke="#ff7500" stroke-width="4.6" fill="none" stroke-linecap="round" stroke-linejoin="round"/><path d="M500.4 266.5 L500.6 267.1 L500.7 267.4 L500.9 266.7 L501.1 267.3 L501.3 266.4 L501.5 265.6" stroke="#ff7900" stroke-width="4.6" fill="none" stroke-linecap="round" stroke-linejoin="round"/><path d="M501.5 265.6 L501.7 265.8 L501.9 265.4 L502.1 265.0 L502.3 264.0 L502.5 264.9 L502.6 264.2" stroke="#ff7d00" stroke-width="4.6" fill="none" stroke-linecap="round" stroke-linejoin="round"/><path d="M502.6 264.2 L502.8 264.5 L503.0 265.0 L503.2 264.8 L503.4 264.8 L503.6 265.3 L503.8 266.1" stroke="#ff8100" stroke-width="4.6" fill="none" stroke-linecap="round" stroke-linejoin="round"/><path d="M503.8 266.1 L504.0 266.3 L504.2 264.9 L504.3 263.4 L504.5 262.9 L504.7 262.2 L504.9 262.5" stroke="#ff8500" stroke-width="4.6" fill="none" stroke-linecap="round" stroke-linejoin="round"/><path d="M504.9 262.5 L505.1 262.5 L505.3 262.3 L505.5 262.9 L505.7 263.3 L505.9 263.0 L506.0 262.9" stroke="#ff8900" stroke-width="4.6" fill="none" stroke-linecap="round" stroke-linejoin="round"/><path d="M506.0 262.9 L506.2 263.3 L506.4 262.7 L506.6 262.5 L506.8 261.5 L507.0 261.3 L507.2 261.3" stroke="#ff8d00" stroke-width="4.6" fill="none" stroke-linecap="round" stroke-linejoin="round"/><path d="M507.2 261.3 L507.4 261.0 L507.6 260.9 L507.8 260.6 L507.9 260.1 L508.1 258.8 L508.3 257.7" stroke="#ff9100" stroke-width="4.6" fill="none" stroke-linecap="round" stroke-linejoin="round"/><path d="M508.3 257.7 L508.5 258.3 L508.7 260.9 L508.9 262.5 L509.1 264.1 L509.3 265.3 L509.5 267.0" stroke="#ff9500" stroke-width="4.6" fill="none" stroke-linecap="round" stroke-linejoin="round"/><path d="M509.5 267.0 L509.6 266.9 L509.8 266.1 L510.0 265.7 L510.2 266.2 L510.4 265.0 L510.6 264.2" stroke="#ff9900" stroke-width="4.6" fill="none" stroke-linecap="round" stroke-linejoin="round"/><path d="M510.6 264.2 L510.8 264.4 L511.0 263.7 L511.2 264.0 L511.4 263.1 L511.5 263.1 L511.7 263.5" stroke="#ff9d00" stroke-width="4.6" fill="none" stroke-linecap="round" stroke-linejoin="round"/><path d="M511.7 263.5 L511.9 263.5 L512.1 263.7 L512.3 263.3 L512.5 262.8 L512.7 262.5 L512.9 262.6" stroke="#ffa100" stroke-width="4.6" fill="none" stroke-linecap="round" stroke-linejoin="round"/><path d="M512.9 262.6 L513.1 264.6 L513.2 263.9 L513.4 264.5 L513.6 263.7 L513.8 262.4 L514.0 261.9" stroke="#ffa500" stroke-width="4.6" fill="none" stroke-linecap="round" stroke-linejoin="round"/><path d="M514.0 261.9 L514.2 261.8 L514.4 261.5 L514.6 261.3 L514.8 261.3 L515.0 261.3 L515.1 261.5" stroke="#ffaa00" stroke-width="4.6" fill="none" stroke-linecap="round" stroke-linejoin="round"/><path d="M515.1 261.5 L515.3 260.3 L515.5 260.0 L515.7 259.1 L515.9 259.1 L516.1 258.8 L516.3 258.8" stroke="#ffae00" stroke-width="4.6" fill="none" stroke-linecap="round" stroke-linejoin="round"/><path d="M516.3 258.8 L516.5 258.3 L516.7 257.6 L516.8 257.3 L517.0 257.7 L517.2 258.0 L517.4 256.7" stroke="#ffb200" stroke-width="4.6" fill="none" stroke-linecap="round" stroke-linejoin="round"/><path d="M517.4 256.7 L517.6 256.8 L517.8 256.9 L518.0 255.8 L518.2 255.1 L518.4 254.9 L518.5 255.2" stroke="#ffb600" stroke-width="4.6" fill="none" stroke-linecap="round" stroke-linejoin="round"/><path d="M518.5 255.2 L518.7 253.7 L518.9 254.1 L519.1 254.3 L519.3 255.1 L519.5 256.5 L519.7 257.7" stroke="#ffba00" stroke-width="4.6" fill="none" stroke-linecap="round" stroke-linejoin="round"/><path d="M519.7 257.7 L519.9 257.6 L520.1 257.6 L520.3 258.1 L520.4 259.1 L520.6 260.2 L520.8 260.4" stroke="#ffbe00" stroke-width="4.6" fill="none" stroke-linecap="round" stroke-linejoin="round"/><path d="M520.8 260.4 L521.0 261.3 L521.2 260.7 L521.4 260.1 L521.6 258.5 L521.8 258.4 L522.0 259.3" stroke="#ffc200" stroke-width="4.6" fill="none" stroke-linecap="round" stroke-linejoin="round"/><path d="M522.0 259.3 L522.1 260.3 L522.3 262.8 L522.5 263.1 L522.7 263.2 L522.9 262.6 L523.1 262.3" stroke="#ffc600" stroke-width="4.6" fill="none" stroke-linecap="round" stroke-linejoin="round"/><path d="M523.1 262.3 L523.3 262.1 L523.5 261.6 L523.7 260.7 L523.9 259.4 L524.0 259.8 L524.2 259.7" stroke="#ffca00" stroke-width="4.6" fill="none" stroke-linecap="round" stroke-linejoin="round"/><path d="M524.2 259.7 L524.4 260.2 L524.6 258.6 L524.8 257.6 L525.0 257.1 L525.2 257.9 L525.4 257.6" stroke="#ffce00" stroke-width="4.6" fill="none" stroke-linecap="round" stroke-linejoin="round"/><path d="M525.4 257.6 L525.6 257.6 L525.7 257.4 L525.9 257.4 L526.1 256.9 L526.3 257.0 L526.5 256.2" stroke="#ffd200" stroke-width="4.6" fill="none" stroke-linecap="round" stroke-linejoin="round"/><path d="M526.5 256.2 L526.7 256.0 L526.9 256.1 L527.1 256.0 L527.3 256.1 L527.4 255.4 L527.6 255.4" stroke="#ffd600" stroke-width="4.6" fill="none" stroke-linecap="round" stroke-linejoin="round"/><path d="M527.6 255.4 L527.8 255.1 L528.0 255.2 L528.2 255.9 L528.4 255.0 L528.6 255.4 L528.8 254.7" stroke="#ffda00" stroke-width="4.6" fill="none" stroke-linecap="round" stroke-linejoin="round"/><path d="M528.8 254.7 L529.0 254.2 L529.2 255.0 L529.3 255.2 L529.5 255.1 L529.7 255.2 L529.9 255.5" stroke="#ffde00" stroke-width="4.6" fill="none" stroke-linecap="round" stroke-linejoin="round"/><path d="M529.9 255.5 L530.1 254.4 L530.3 254.2 L530.5 253.2 L530.7 252.8 L530.9 251.9 L531.0 251.7" stroke="#ffe200" stroke-width="4.6" fill="none" stroke-linecap="round" stroke-linejoin="round"/><path d="M531.0 251.7 L531.2 251.0 L531.4 250.0 L531.6 249.4 L531.8 249.1 L532.0 249.1 L532.2 248.3" stroke="#ffe600" stroke-width="4.6" fill="none" stroke-linecap="round" stroke-linejoin="round"/><path d="M532.2 248.3 L532.4 247.4 L532.6 247.0 L532.8 246.8 L532.9 245.8 L533.1 243.6 L533.3 243.4" stroke="#ffea00" stroke-width="4.6" fill="none" stroke-linecap="round" stroke-linejoin="round"/><path d="M533.3 243.4 L533.5 242.8 L533.7 242.2 L533.9 243.4 L534.1 242.7 L534.3 242.5 L534.5 240.9" stroke="#fbeb00" stroke-width="4.6" fill="none" stroke-linecap="round" stroke-linejoin="round"/><path d="M534.5 240.9 L534.6 240.6 L534.8 240.5 L535.0 240.7 L535.2 240.6 L535.4 241.0 L535.6 241.1" stroke="#f8eb00" stroke-width="4.6" fill="none" stroke-linecap="round" stroke-linejoin="round"/><path d="M535.6 241.1 L535.8 242.0 L536.0 242.0 L536.2 241.5 L536.4 239.7 L536.5 239.0 L536.7 238.5" stroke="#f4ec00" stroke-width="4.6" fill="none" stroke-linecap="round" stroke-linejoin="round"/><path d="M536.7 238.5 L536.9 237.5 L537.1 236.7 L537.3 235.5 L537.5 234.9 L537.7 235.0 L537.9 234.7" stroke="#f1ed00" stroke-width="4.6" fill="none" stroke-linecap="round" stroke-linejoin="round"/><path d="M537.9 234.7 L538.1 234.5 L538.2 234.2 L538.4 234.6 L538.6 235.6 L538.8 237.2 L539.0 237.8" stroke="#eeee00" stroke-width="4.6" fill="none" stroke-linecap="round" stroke-linejoin="round"/><path d="M539.0 237.8 L539.2 239.1 L539.4 239.0 L539.6 238.9 L539.8 240.0 L539.9 239.4 L540.1 238.8" stroke="#eaee00" stroke-width="4.6" fill="none" stroke-linecap="round" stroke-linejoin="round"/><path d="M540.1 238.8 L540.3 238.9 L540.5 237.9 L540.7 237.1 L540.9 238.3 L541.1 237.9 L541.3 238.0" stroke="#e7ef00" stroke-width="4.6" fill="none" stroke-linecap="round" stroke-linejoin="round"/><path d="M541.3 238.0 L541.5 238.2 L541.7 238.0 L541.8 238.9 L542.0 239.8 L542.2 240.8 L542.4 241.6" stroke="#e3f000" stroke-width="4.6" fill="none" stroke-linecap="round" stroke-linejoin="round"/><path d="M542.4 241.6 L542.6 242.0 L542.8 243.2 L543.0 244.1 L543.2 243.8 L543.4 244.1 L543.5 244.1" stroke="#e0f000" stroke-width="4.6" fill="none" stroke-linecap="round" stroke-linejoin="round"/><path d="M543.5 244.1 L543.7 245.6 L543.9 246.2 L544.1 246.6 L544.3 246.7 L544.5 247.2 L544.7 246.7" stroke="#dcf100" stroke-width="4.6" fill="none" stroke-linecap="round" stroke-linejoin="round"/><path d="M544.7 246.7 L544.9 246.1 L545.1 245.4 L545.3 244.7 L545.4 243.6 L545.6 243.4 L545.8 242.1" stroke="#d9f200" stroke-width="4.6" fill="none" stroke-linecap="round" stroke-linejoin="round"/><path d="M545.8 242.1 L546.0 241.3 L546.2 240.7 L546.4 240.3 L546.6 239.5 L546.8 238.4 L547.0 237.4" stroke="#d6f200" stroke-width="4.6" fill="none" stroke-linecap="round" stroke-linejoin="round"/><path d="M547.0 237.4 L547.1 236.9 L547.3 236.1 L547.5 235.7 L547.7 234.7 L547.9 234.6 L548.1 235.8" stroke="#d2f300" stroke-width="4.6" fill="none" stroke-linecap="round" stroke-linejoin="round"/><path d="M548.1 235.8 L548.3 234.6 L548.5 234.3 L548.7 234.8 L548.8 234.6 L549.0 234.7 L549.2 232.9" stroke="#cff400" stroke-width="4.6" fill="none" stroke-linecap="round" stroke-linejoin="round"/><path d="M549.2 232.9 L549.4 232.4 L549.6 233.1 L549.8 232.4 L550.0 232.2 L550.2 230.6 L550.4 231.1" stroke="#cbf400" stroke-width="4.6" fill="none" stroke-linecap="round" stroke-linejoin="round"/><path d="M550.4 231.1 L550.6 232.1 L550.7 231.5 L550.9 231.2 L551.1 230.9 L551.3 231.7 L551.5 230.7" stroke="#c8f500" stroke-width="4.6" fill="none" stroke-linecap="round" stroke-linejoin="round"/><path d="M551.5 230.7 L551.7 229.0 L551.9 229.8 L552.1 228.4 L552.3 228.3 L552.4 226.3 L552.6 225.7" stroke="#c5f600" stroke-width="4.6" fill="none" stroke-linecap="round" stroke-linejoin="round"/><path d="M552.6 225.7 L552.8 225.6 L553.0 224.6 L553.2 224.1 L553.4 224.2 L553.6 223.5 L553.8 224.7" stroke="#c1f700" stroke-width="4.6" fill="none" stroke-linecap="round" stroke-linejoin="round"/><path d="M553.8 224.7 L554.0 226.6 L554.2 225.9 L554.3 226.9 L554.5 228.0 L554.7 228.4 L554.9 230.1" stroke="#bef700" stroke-width="4.6" fill="none" stroke-linecap="round" stroke-linejoin="round"/><path d="M554.9 230.1 L555.1 231.5 L555.3 232.3 L555.5 233.0 L555.7 233.4 L555.9 233.1 L556.0 234.0" stroke="#baf800" stroke-width="4.6" fill="none" stroke-linecap="round" stroke-linejoin="round"/><path d="M556.0 234.0 L556.2 234.3 L556.4 233.4 L556.6 233.7 L556.8 233.0 L557.0 233.1 L557.2 231.9" stroke="#b7f900" stroke-width="4.6" fill="none" stroke-linecap="round" stroke-linejoin="round"/><path d="M557.2 231.9 L557.4 231.2 L557.6 230.8 L557.7 231.2 L557.9 230.6 L558.1 230.6 L558.3 229.6" stroke="#b3f900" stroke-width="4.6" fill="none" stroke-linecap="round" stroke-linejoin="round"/><path d="M558.3 229.6 L558.5 229.2 L558.7 229.2 L558.9 228.1 L559.1 227.2 L559.3 227.2 L559.5 226.1" stroke="#b0fa00" stroke-width="4.6" fill="none" stroke-linecap="round" stroke-linejoin="round"/><path d="M559.5 226.1 L559.6 226.1 L559.8 226.1 L560.0 225.7 L560.2 225.9 L560.4 225.8 L560.6 225.5" stroke="#adfb00" stroke-width="4.6" fill="none" stroke-linecap="round" stroke-linejoin="round"/><path d="M560.6 225.5 L560.8 224.2 L561.0 223.0 L561.2 223.1 L561.3 221.9 L561.5 221.9 L561.7 221.6" stroke="#a9fb00" stroke-width="4.6" fill="none" stroke-linecap="round" stroke-linejoin="round"/><path d="M561.7 221.6 L561.9 220.9 L562.1 220.7 L562.3 219.2 L562.5 219.2 L562.7 220.0 L562.9 219.1" stroke="#a6fc00" stroke-width="4.6" fill="none" stroke-linecap="round" stroke-linejoin="round"/><path d="M562.9 219.1 L563.1 219.4 L563.2 219.5 L563.4 221.3 L563.6 220.2 L563.8 219.3 L564.0 218.6" stroke="#a2fd00" stroke-width="4.6" fill="none" stroke-linecap="round" stroke-linejoin="round"/><path d="M564.0 218.6 L564.2 217.8 L564.4 216.6 L564.6 216.7 L564.8 216.1 L564.9 216.5 L565.1 216.7" stroke="#9ffd00" stroke-width="4.6" fill="none" stroke-linecap="round" stroke-linejoin="round"/><path d="M565.1 216.7 L565.3 216.4 L565.5 216.6 L565.7 217.9 L565.9 218.0 L566.1 218.5 L566.3 219.3" stroke="#9bfe00" stroke-width="4.6" fill="none" stroke-linecap="round" stroke-linejoin="round"/><path d="M566.3 219.3 L566.5 219.3 L566.7 219.8 L566.8 221.1 L567.0 221.8 L567.2 220.8 L567.4 220.9" stroke="#98ff00" stroke-width="4.6" fill="none" stroke-linecap="round" stroke-linejoin="round"/><path d="M567.4 220.9 L567.6 219.9 L567.8 218.6 L568.0 217.4 L568.2 217.5 L568.4 216.9 L568.5 215.9" stroke="#95ff03" stroke-width="4.6" fill="none" stroke-linecap="round" stroke-linejoin="round"/><path d="M568.5 215.9 L568.7 214.6 L568.9 214.3 L569.1 214.2 L569.3 212.7 L569.5 211.2 L569.7 210.3" stroke="#91ff08" stroke-width="4.6" fill="none" stroke-linecap="round" stroke-linejoin="round"/><path d="M569.7 210.3 L569.9 210.1 L570.1 209.1 L570.2 208.4 L570.4 207.2 L570.6 207.3 L570.8 206.5" stroke="#8dff0d" stroke-width="4.6" fill="none" stroke-linecap="round" stroke-linejoin="round"/><path d="M570.8 206.5 L571.0 205.8 L571.2 205.7 L571.4 204.6 L571.6 203.7 L571.8 203.1 L572.0 202.0" stroke="#8aff12" stroke-width="4.6" fill="none" stroke-linecap="round" stroke-linejoin="round"/><path d="M572.0 202.0 L572.1 202.0 L572.3 201.1 L572.5 199.8 L572.7 198.8 L572.9 197.2 L573.1 197.2" stroke="#86ff17" stroke-width="4.6" fill="none" stroke-linecap="round" stroke-linejoin="round"/><path d="M573.1 197.2 L573.3 197.3 L573.5 196.2 L573.7 194.9 L573.8 192.7 L574.0 194.0 L574.2 196.2" stroke="#83ff1c" stroke-width="4.6" fill="none" stroke-linecap="round" stroke-linejoin="round"/><path d="M574.2 196.2 L574.4 197.3 L574.6 199.5 L574.8 202.0 L575.0 200.3 L575.2 200.3 L575.4 200.0" stroke="#7fff21" stroke-width="4.6" fill="none" stroke-linecap="round" stroke-linejoin="round"/><path d="M575.4 200.0 L575.6 199.9 L575.7 199.0 L575.9 199.3 L576.1 198.9 L576.3 200.0 L576.5 201.2" stroke="#7cff26" stroke-width="4.6" fill="none" stroke-linecap="round" stroke-linejoin="round"/><path d="M576.5 201.2 L576.7 200.4 L576.9 198.6 L577.1 197.6 L577.3 196.7 L577.4 195.8 L577.6 195.4" stroke="#78ff2b" stroke-width="4.6" fill="none" stroke-linecap="round" stroke-linejoin="round"/><path d="M577.6 195.4 L577.8 195.3 L578.0 195.8 L578.2 196.5 L578.4 197.2 L578.6 197.5 L578.8 198.2" stroke="#75ff30" stroke-width="4.6" fill="none" stroke-linecap="round" stroke-linejoin="round"/><path d="M578.8 198.2 L579.0 198.7 L579.1 200.4 L579.3 201.0 L579.5 200.5 L579.7 201.9 L579.9 202.9" stroke="#71ff35" stroke-width="4.6" fill="none" stroke-linecap="round" stroke-linejoin="round"/><path d="M579.9 202.9 L580.1 203.2 L580.3 203.5 L580.5 204.1 L580.7 206.1 L580.9 206.6 L581.0 208.2" stroke="#6eff3a" stroke-width="4.6" fill="none" stroke-linecap="round" stroke-linejoin="round"/><path d="M581.0 208.2 L581.2 209.4 L581.4 209.6 L581.6 210.5 L581.8 210.6 L582.0 209.4 L582.2 209.9" stroke="#6aff3f" stroke-width="4.6" fill="none" stroke-linecap="round" stroke-linejoin="round"/><path d="M582.2 209.9 L582.4 210.4 L582.6 212.0 L582.7 213.3 L582.9 214.8 L583.1 215.8 L583.3 217.1" stroke="#67ff44" stroke-width="4.6" fill="none" stroke-linecap="round" stroke-linejoin="round"/><path d="M583.3 217.1 L583.5 218.1 L583.7 217.6 L583.9 217.6 L584.1 217.8 L584.3 217.9 L584.5 216.7" stroke="#63ff49" stroke-width="4.6" fill="none" stroke-linecap="round" stroke-linejoin="round"/><path d="M584.5 216.7 L584.6 215.9 L584.8 214.6 L585.0 213.3 L585.2 213.1 L585.4 212.2 L585.6 212.7" stroke="#60ff4e" stroke-width="4.6" fill="none" stroke-linecap="round" stroke-linejoin="round"/><path d="M585.6 212.7 L585.8 210.7 L586.0 209.6 L586.2 209.5 L586.3 210.0 L586.5 209.3 L586.7 210.1" stroke="#5cff53" stroke-width="4.6" fill="none" stroke-linecap="round" stroke-linejoin="round"/><path d="M586.7 210.1 L586.9 210.0 L587.1 208.9 L587.3 208.3 L587.5 208.1 L587.7 207.0 L587.9 207.2" stroke="#59ff57" stroke-width="4.6" fill="none" stroke-linecap="round" stroke-linejoin="round"/><path d="M587.9 207.2 L588.0 207.2 L588.2 207.8 L588.4 208.6 L588.6 208.5 L588.8 209.4 L589.0 208.3" stroke="#55ff5c" stroke-width="4.6" fill="none" stroke-linecap="round" stroke-linejoin="round"/><path d="M589.0 208.3 L589.2 209.1 L589.4 208.1 L589.6 209.3 L589.8 209.3 L589.9 210.5 L590.1 211.6" stroke="#52ff61" stroke-width="4.6" fill="none" stroke-linecap="round" stroke-linejoin="round"/><path d="M590.1 211.6 L590.3 211.7 L590.5 211.5 L590.7 212.6 L590.9 212.0 L591.1 212.8 L591.3 213.0" stroke="#4eff66" stroke-width="4.6" fill="none" stroke-linecap="round" stroke-linejoin="round"/><path d="M591.3 213.0 L591.5 213.0 L591.6 213.0 L591.8 214.5 L592.0 213.7 L592.2 213.7 L592.4 214.4" stroke="#4bff6b" stroke-width="4.6" fill="none" stroke-linecap="round" stroke-linejoin="round"/><path d="M592.4 214.4 L592.6 215.4 L592.8 216.7 L593.0 217.7 L593.2 217.3 L593.4 217.7 L593.5 218.5" stroke="#47ff70" stroke-width="4.6" fill="none" stroke-linecap="round" stroke-linejoin="round"/><path d="M593.5 218.5 L593.7 218.9 L593.9 217.4 L594.1 217.3 L594.3 217.3 L594.5 216.1 L594.7 215.6" stroke="#43ff75" stroke-width="4.6" fill="none" stroke-linecap="round" stroke-linejoin="round"/><path d="M594.7 215.6 L594.9 215.4 L595.1 215.6 L595.2 216.3 L595.4 216.6 L595.6 216.5 L595.8 216.1" stroke="#40ff7a" stroke-width="4.6" fill="none" stroke-linecap="round" stroke-linejoin="round"/><path d="M595.8 216.1 L596.0 215.4 L596.2 214.7 L596.4 214.3 L596.6 213.8 L596.8 214.2 L597.0 215.2" stroke="#3cff7f" stroke-width="4.6" fill="none" stroke-linecap="round" stroke-linejoin="round"/><path d="M597.0 215.2 L597.1 215.0 L597.3 215.1 L597.5 215.0 L597.7 214.6 L597.9 214.8 L598.1 214.9" stroke="#39ff84" stroke-width="4.6" fill="none" stroke-linecap="round" stroke-linejoin="round"/><path d="M598.1 214.9 L598.3 214.3 L598.5 213.6 L598.7 213.5 L598.8 212.6 L599.0 212.3 L599.2 212.5" stroke="#35ff89" stroke-width="4.6" fill="none" stroke-linecap="round" stroke-linejoin="round"/><path d="M599.2 212.5 L599.4 212.0 L599.6 210.7 L599.8 211.3 L600.0 210.6 L600.2 209.9 L600.4 209.3" stroke="#32ff8e" stroke-width="4.6" fill="none" stroke-linecap="round" stroke-linejoin="round"/><path d="M600.4 209.3 L600.5 210.2 L600.7 209.3 L600.9 209.7 L601.1 210.3 L601.3 210.8 L601.5 210.7" stroke="#2eff93" stroke-width="4.6" fill="none" stroke-linecap="round" stroke-linejoin="round"/><path d="M601.5 210.7 L601.7 211.0 L601.9 211.5 L602.1 210.9 L602.3 211.8 L602.4 212.7 L602.6 212.4" stroke="#2cfe97" stroke-width="4.6" fill="none" stroke-linecap="round" stroke-linejoin="round"/><path d="M602.6 212.4 L602.8 212.2 L603.0 211.8 L603.2 212.8 L603.4 212.4 L603.6 212.4 L603.8 211.6" stroke="#2afa9b" stroke-width="4.6" fill="none" stroke-linecap="round" stroke-linejoin="round"/><path d="M603.8 211.6 L604.0 212.9 L604.1 213.1 L604.3 213.5 L604.5 214.8 L604.7 215.3 L604.9 214.7" stroke="#29f79e" stroke-width="4.6" fill="none" stroke-linecap="round" stroke-linejoin="round"/><path d="M604.9 214.7 L605.1 215.1 L605.3 215.7 L605.5 215.2 L605.7 214.8 L605.9 214.5 L606.0 215.3" stroke="#27f4a2" stroke-width="4.6" fill="none" stroke-linecap="round" stroke-linejoin="round"/><path d="M606.0 215.3 L606.2 215.6 L606.4 215.2 L606.6 216.0 L606.8 216.7 L607.0 216.4 L607.2 215.6" stroke="#26f0a5" stroke-width="4.6" fill="none" stroke-linecap="round" stroke-linejoin="round"/><path d="M607.2 215.6 L607.4 216.8 L607.6 218.6 L607.7 219.5 L607.9 220.1 L608.1 220.0 L608.3 219.5" stroke="#24eda8" stroke-width="4.6" fill="none" stroke-linecap="round" stroke-linejoin="round"/><path d="M608.3 219.5 L608.5 219.6 L608.7 220.0 L608.9 219.9 L609.1 220.5 L609.3 220.5 L609.4 220.9" stroke="#23eaac" stroke-width="4.6" fill="none" stroke-linecap="round" stroke-linejoin="round"/><path d="M609.4 220.9 L609.6 219.2 L609.8 218.9 L610.0 219.7 L610.2 220.6 L610.4 221.0 L610.6 222.1" stroke="#21e6af" stroke-width="4.6" fill="none" stroke-linecap="round" stroke-linejoin="round"/><path d="M610.6 222.1 L610.8 222.0 L611.0 221.9 L611.2 220.8 L611.3 220.6 L611.5 220.6 L611.7 220.9" stroke="#20e3b3" stroke-width="4.6" fill="none" stroke-linecap="round" stroke-linejoin="round"/><path d="M611.7 220.9 L611.9 221.0 L612.1 220.4 L612.3 219.9 L612.5 218.6 L612.7 218.6 L612.9 217.4" stroke="#1edfb6" stroke-width="4.6" fill="none" stroke-linecap="round" stroke-linejoin="round"/><path d="M612.9 217.4 L613.0 216.9 L613.2 216.6 L613.4 217.6 L613.6 217.9 L613.8 216.8 L614.0 215.5" stroke="#1ddcba" stroke-width="4.6" fill="none" stroke-linecap="round" stroke-linejoin="round"/><path d="M614.0 215.5 L614.2 215.0 L614.4 214.3 L614.6 214.3 L614.8 214.3 L614.9 214.4 L615.1 213.4" stroke="#1cd9bd" stroke-width="4.6" fill="none" stroke-linecap="round" stroke-linejoin="round"/><path d="M615.1 213.4 L615.3 212.9 L615.5 212.8 L615.7 213.4 L615.9 213.3 L616.1 213.5 L616.3 214.4" stroke="#1ad5c1" stroke-width="4.6" fill="none" stroke-linecap="round" stroke-linejoin="round"/><path d="M616.3 214.4 L616.5 213.6 L616.6 213.9 L616.8 214.4 L617.0 213.9 L617.2 213.8 L617.4 214.5" stroke="#19d2c4" stroke-width="4.6" fill="none" stroke-linecap="round" stroke-linejoin="round"/><path d="M617.4 214.5 L617.6 214.7 L617.8 216.0 L618.0 216.8 L618.2 218.6 L618.4 218.0 L618.5 219.4" stroke="#17cec8" stroke-width="4.6" fill="none" stroke-linecap="round" stroke-linejoin="round"/><path d="M618.5 219.4 L618.7 219.1 L618.9 219.9 L619.1 220.6 L619.3 220.8 L619.5 220.3 L619.7 219.6" stroke="#16cbcb" stroke-width="4.6" fill="none" stroke-linecap="round" stroke-linejoin="round"/><path d="M619.7 219.6 L619.9 218.2 L620.1 217.9 L620.2 217.4 L620.4 217.8 L620.6 217.3 L620.8 217.2" stroke="#14c8ce" stroke-width="4.6" fill="none" stroke-linecap="round" stroke-linejoin="round"/><path d="M620.8 217.2 L621.0 217.4 L621.2 217.4 L621.4 217.4 L621.6 217.1 L621.8 216.8 L621.9 217.0" stroke="#13c4d2" stroke-width="4.6" fill="none" stroke-linecap="round" stroke-linejoin="round"/><path d="M621.9 217.0 L622.1 217.4 L622.3 216.7 L622.5 217.6 L622.7 217.7 L622.9 216.6 L623.1 218.4" stroke="#11c1d5" stroke-width="4.6" fill="none" stroke-linecap="round" stroke-linejoin="round"/><path d="M623.1 218.4 L623.3 218.6 L623.5 217.9 L623.7 218.8 L623.8 216.9 L624.0 218.6 L624.2 217.5" stroke="#10bdd9" stroke-width="4.6" fill="none" stroke-linecap="round" stroke-linejoin="round"/><path d="M624.2 217.5 L624.4 216.5 L624.6 216.0 L624.8 216.4 L625.0 216.3 L625.2 217.0 L625.4 216.6" stroke="#0fbadc" stroke-width="4.6" fill="none" stroke-linecap="round" stroke-linejoin="round"/><path d="M625.4 216.6 L625.5 217.4 L625.7 217.6 L625.9 217.0 L626.1 217.8 L626.3 218.0 L626.5 217.8" stroke="#0db7e0" stroke-width="4.6" fill="none" stroke-linecap="round" stroke-linejoin="round"/><path d="M626.5 217.8 L626.7 218.7 L626.9 217.8 L627.1 217.6 L627.3 218.6 L627.4 218.5 L627.6 218.9" stroke="#0cb3e3" stroke-width="4.6" fill="none" stroke-linecap="round" stroke-linejoin="round"/><path d="M627.6 218.9 L627.8 219.2 L628.0 219.0 L628.2 219.3 L628.4 218.5 L628.6 218.9 L628.8 218.2" stroke="#0ab0e7" stroke-width="4.6" fill="none" stroke-linecap="round" stroke-linejoin="round"/><path d="M628.8 218.2 L629.0 218.2 L629.1 217.7 L629.3 218.1 L629.5 218.5 L629.7 219.2 L629.9 218.7" stroke="#09acea" stroke-width="4.6" fill="none" stroke-linecap="round" stroke-linejoin="round"/><path d="M629.9 218.7 L630.1 218.0 L630.3 216.8 L630.5 216.2 L630.7 216.4 L630.8 216.9 L631.0 216.9" stroke="#07a9ee" stroke-width="4.6" fill="none" stroke-linecap="round" stroke-linejoin="round"/><path d="M631.0 216.9 L631.2 217.1 L631.4 216.4 L631.6 216.2 L631.8 217.1 L632.0 217.8 L632.2 217.1" stroke="#06a6f1" stroke-width="4.6" fill="none" stroke-linecap="round" stroke-linejoin="round"/><path d="M632.2 217.1 L632.4 217.1 L632.6 217.5 L632.7 217.0 L632.9 217.5 L633.1 217.9 L633.3 218.3" stroke="#04a2f4" stroke-width="4.6" fill="none" stroke-linecap="round" stroke-linejoin="round"/><path d="M633.3 218.3 L633.5 219.7 L633.7 219.0 L633.9 219.8 L634.1 220.0 L634.3 220.4 L634.4 219.7" stroke="#039ff8" stroke-width="4.6" fill="none" stroke-linecap="round" stroke-linejoin="round"/><path d="M634.4 219.7 L634.6 219.7 L634.8 219.6 L635.0 220.6 L635.2 220.4 L635.4 221.2 L635.6 220.7" stroke="#029cfb" stroke-width="4.6" fill="none" stroke-linecap="round" stroke-linejoin="round"/><path d="M635.6 220.7 L635.8 220.3 L636.0 220.2 L636.2 218.8 L636.3 218.5 L636.5 218.3 L636.7 218.4" stroke="#0098ff" stroke-width="4.6" fill="none" stroke-linecap="round" stroke-linejoin="round"/><path d="M636.7 218.4 L636.9 219.6 L637.1 220.1 L637.3 220.5 L637.5 222.5 L637.7 222.9 L637.9 223.7" stroke="#0094ff" stroke-width="4.6" fill="none" stroke-linecap="round" stroke-linejoin="round"/><path d="M637.9 223.7 L638.0 224.3 L638.2 225.2 L638.4 227.2 L638.6 229.0 L638.8 228.8 L639.0 229.0" stroke="#0090ff" stroke-width="4.6" fill="none" stroke-linecap="round" stroke-linejoin="round"/><path d="M639.0 229.0 L639.2 230.3 L639.4 230.3 L639.6 230.8 L639.7 232.2 L639.9 233.6 L640.1 234.5" stroke="#008cff" stroke-width="4.6" fill="none" stroke-linecap="round" stroke-linejoin="round"/><path d="M640.1 234.5 L640.3 234.1 L640.5 234.0 L640.7 234.0 L640.9 233.8 L641.1 233.4 L641.3 234.8" stroke="#0087ff" stroke-width="4.6" fill="none" stroke-linecap="round" stroke-linejoin="round"/><path d="M641.3 234.8 L641.5 234.9 L641.6 235.4 L641.8 236.1 L642.0 236.2 L642.2 236.1 L642.4 236.2" stroke="#0083ff" stroke-width="4.6" fill="none" stroke-linecap="round" stroke-linejoin="round"/><path d="M642.4 236.2 L642.6 237.0 L642.8 236.7 L643.0 234.8 L643.2 235.1 L643.3 235.7 L643.5 235.0" stroke="#007fff" stroke-width="4.6" fill="none" stroke-linecap="round" stroke-linejoin="round"/><path d="M643.5 235.0 L643.7 234.1 L643.9 233.4 L644.1 233.8 L644.3 232.7 L644.5 232.9 L644.7 233.3" stroke="#007bff" stroke-width="4.6" fill="none" stroke-linecap="round" stroke-linejoin="round"/><path d="M644.7 233.3 L644.9 233.2 L645.1 232.8 L645.2 231.9 L645.4 231.2 L645.6 230.9 L645.8 230.1" stroke="#0077ff" stroke-width="4.6" fill="none" stroke-linecap="round" stroke-linejoin="round"/><path d="M645.8 230.1 L646.0 230.1 L646.2 229.7 L646.4 230.8 L646.6 231.8 L646.8 231.2 L646.9 232.1" stroke="#0073ff" stroke-width="4.6" fill="none" stroke-linecap="round" stroke-linejoin="round"/><path d="M646.9 232.1 L647.1 232.2 L647.3 232.1 L647.5 232.3 L647.7 232.5 L647.9 231.5 L648.1 233.1" stroke="#006eff" stroke-width="4.6" fill="none" stroke-linecap="round" stroke-linejoin="round"/><path d="M648.1 233.1 L648.3 232.4 L648.5 230.8 L648.7 231.0 L648.8 231.1 L649.0 230.8 L649.2 229.9" stroke="#006aff" stroke-width="4.6" fill="none" stroke-linecap="round" stroke-linejoin="round"/><path d="M649.2 229.9 L649.4 231.0 L649.6 231.1 L649.8 231.4 L650.0 231.2 L650.2 231.3 L650.4 231.1" stroke="#0066ff" stroke-width="4.6" fill="none" stroke-linecap="round" stroke-linejoin="round"/><path d="M650.4 231.1 L650.5 231.6 L650.7 231.7 L650.9 232.3 L651.1 232.8 L651.3 232.9 L651.5 233.0" stroke="#0062ff" stroke-width="4.6" fill="none" stroke-linecap="round" stroke-linejoin="round"/><path d="M651.5 233.0 L651.7 233.7 L651.9 232.5 L652.1 232.5 L652.2 233.3 L652.4 232.3 L652.6 232.7" stroke="#005eff" stroke-width="4.6" fill="none" stroke-linecap="round" stroke-linejoin="round"/><path d="M652.6 232.7 L652.8 232.2 L653.0 232.1 L653.2 231.9 L653.4 231.7 L653.6 232.0 L653.8 231.8" stroke="#0059ff" stroke-width="4.6" fill="none" stroke-linecap="round" stroke-linejoin="round"/><path d="M653.8 231.8 L654.0 230.4 L654.1 231.9 L654.3 231.7 L654.5 231.3 L654.7 231.9 L654.9 232.5" stroke="#0055ff" stroke-width="4.6" fill="none" stroke-linecap="round" stroke-linejoin="round"/><path d="M654.9 232.5 L655.1 230.9 L655.3 231.1 L655.5 229.6 L655.7 229.4 L655.8 229.5 L656.0 229.3" stroke="#0051ff" stroke-width="4.6" fill="none" stroke-linecap="round" stroke-linejoin="round"/><path d="M656.0 229.3 L656.2 229.0 L656.4 228.4 L656.6 228.3 L656.8 228.4 L657.0 228.5 L657.2 227.9" stroke="#004dff" stroke-width="4.6" fill="none" stroke-linecap="round" stroke-linejoin="round"/><path d="M657.2 227.9 L657.4 227.6 L657.6 228.6 L657.7 229.1 L657.9 229.0 L658.1 229.5 L658.3 229.7" stroke="#0049ff" stroke-width="4.6" fill="none" stroke-linecap="round" stroke-linejoin="round"/><path d="M658.3 229.7 L658.5 230.3 L658.7 230.3 L658.9 229.9 L659.1 229.2 L659.3 229.2 L659.4 227.9" stroke="#0045ff" stroke-width="4.6" fill="none" stroke-linecap="round" stroke-linejoin="round"/><path d="M659.4 227.9 L659.6 228.2 L659.8 226.3 L660.0 226.1 L660.2 226.3 L660.4 227.0 L660.6 229.1" stroke="#0040ff" stroke-width="4.6" fill="none" stroke-linecap="round" stroke-linejoin="round"/><path d="M660.6 229.1 L660.8 229.1 L661.0 229.0 L661.1 227.8 L661.3 228.8 L661.5 227.6 L661.7 227.9" stroke="#003cff" stroke-width="4.6" fill="none" stroke-linecap="round" stroke-linejoin="round"/><path d="M661.7 227.9 L661.9 227.6 L662.1 229.3 L662.3 229.1 L662.5 229.3 L662.7 228.7 L662.9 228.6" stroke="#0038ff" stroke-width="4.6" fill="none" stroke-linecap="round" stroke-linejoin="round"/><path d="M662.9 228.6 L663.0 229.2 L663.2 228.3 L663.4 227.7 L663.6 227.2 L663.8 226.4 L664.0 225.8" stroke="#0034ff" stroke-width="4.6" fill="none" stroke-linecap="round" stroke-linejoin="round"/><path d="M664.0 225.8 L664.2 225.8 L664.4 226.7 L664.6 227.5 L664.7 226.4 L664.9 225.8 L665.1 225.6" stroke="#0030ff" stroke-width="4.6" fill="none" stroke-linecap="round" stroke-linejoin="round"/><path d="M665.1 225.6 L665.3 225.8 L665.5 225.7 L665.7 225.5 L665.9 225.6 L666.1 225.8 L666.3 224.2" stroke="#002bff" stroke-width="4.6" fill="none" stroke-linecap="round" stroke-linejoin="round"/><path d="M666.3 224.2 L666.5 224.0 L666.6 224.4 L666.8 225.1 L667.0 225.3 L667.2 224.5 L667.4 223.8" stroke="#0027ff" stroke-width="4.6" fill="none" stroke-linecap="round" stroke-linejoin="round"/><path d="M667.4 223.8 L667.6 223.8 L667.8 223.6 L668.0 223.6 L668.2 224.1 L668.3 222.9 L668.5 222.5" stroke="#0023ff" stroke-width="4.6" fill="none" stroke-linecap="round" stroke-linejoin="round"/><path d="M668.5 222.5 L668.7 220.7 L668.9 221.1 L669.1 221.0 L669.3 220.2 L669.5 220.2 L669.7 220.9" stroke="#001fff" stroke-width="4.6" fill="none" stroke-linecap="round" stroke-linejoin="round"/><path d="M669.7 220.9 L669.9 221.1 L670.1 220.6 L670.2 220.0 L670.4 219.7 L670.6 218.7 L670.8 217.8" stroke="#001bff" stroke-width="4.6" fill="none" stroke-linecap="round" stroke-linejoin="round"/><path d="M670.8 217.8 L671.0 217.4 L671.2 217.2 L671.4 217.1 L671.6 216.5 L671.8 215.7 L671.9 215.5" stroke="#0019fe" stroke-width="4.6" fill="none" stroke-linecap="round" stroke-linejoin="round"/><path d="M671.9 215.5 L672.1 215.1 L672.3 215.1 L672.5 215.8 L672.7 216.0 L672.9 215.1 L673.1 214.5" stroke="#0018fc" stroke-width="4.6" fill="none" stroke-linecap="round" stroke-linejoin="round"/><path d="M673.1 214.5 L673.3 213.1 L673.5 212.9 L673.6 212.2 L673.8 211.2 L674.0 210.6 L674.2 210.9" stroke="#0017fa" stroke-width="4.6" fill="none" stroke-linecap="round" stroke-linejoin="round"/><path d="M674.2 210.9 L674.4 210.9 L674.6 210.7 L674.8 211.1 L675.0 210.4 L675.2 209.5 L675.4 209.6" stroke="#0016f9" stroke-width="4.6" fill="none" stroke-linecap="round" stroke-linejoin="round"/><path d="M675.4 209.6 L675.5 208.1 L675.7 208.1 L675.9 208.1 L676.1 208.0 L676.3 208.2 L676.5 207.5" stroke="#0015f7" stroke-width="4.6" fill="none" stroke-linecap="round" stroke-linejoin="round"/><path d="M676.5 207.5 L676.7 207.2 L676.9 205.8 L677.1 205.3 L677.2 204.8 L677.4 204.8 L677.6 205.5" stroke="#0014f5" stroke-width="4.6" fill="none" stroke-linecap="round" stroke-linejoin="round"/><path d="M677.6 205.5 L677.8 205.2 L678.0 205.3 L678.2 204.3 L678.4 203.9 L678.6 202.5 L678.8 201.9" stroke="#0014f3" stroke-width="4.6" fill="none" stroke-linecap="round" stroke-linejoin="round"/><path d="M678.8 201.9 L679.0 201.2 L679.1 200.9 L679.3 201.9 L679.5 202.7 L679.7 203.3 L679.9 205.0" stroke="#0013f1" stroke-width="4.6" fill="none" stroke-linecap="round" stroke-linejoin="round"/><path d="M679.9 205.0 L680.1 205.8 L680.3 204.4 L680.5 204.9 L680.7 205.4 L680.8 206.1 L681.0 207.2" stroke="#0012ef" stroke-width="4.6" fill="none" stroke-linecap="round" stroke-linejoin="round"/><path d="M681.0 207.2 L681.2 206.5 L681.4 206.6 L681.6 206.5 L681.8 205.5 L682.0 204.2 L682.2 205.2" stroke="#0011ee" stroke-width="4.6" fill="none" stroke-linecap="round" stroke-linejoin="round"/><path d="M682.2 205.2 L682.4 204.9 L682.5 204.9 L682.7 205.0 L682.9 205.1 L683.1 205.5 L683.3 204.8" stroke="#0010ec" stroke-width="4.6" fill="none" stroke-linecap="round" stroke-linejoin="round"/><path d="M683.3 204.8 L683.5 204.8 L683.7 205.0 L683.9 204.6 L684.1 204.5 L684.3 204.6 L684.4 204.9" stroke="#000fea" stroke-width="4.6" fill="none" stroke-linecap="round" stroke-linejoin="round"/><path d="M684.4 204.9 L684.6 204.2 L684.8 204.4 L685.0 204.9 L685.2 205.9 L685.4 206.3 L685.6 207.2" stroke="#000fe8" stroke-width="4.6" fill="none" stroke-linecap="round" stroke-linejoin="round"/><path d="M685.6 207.2 L685.8 207.2 L686.0 207.1 L686.1 208.5 L686.3 208.4 L686.5 208.0 L686.7 207.9" stroke="#000ee6" stroke-width="4.6" fill="none" stroke-linecap="round" stroke-linejoin="round"/><path d="M686.7 207.9 L686.9 208.5 L687.1 207.7 L687.3 208.2 L687.5 209.0 L687.7 209.6 L687.9 209.4" stroke="#000de5" stroke-width="4.6" fill="none" stroke-linecap="round" stroke-linejoin="round"/><path d="M687.9 209.4 L688.0 208.6 L688.2 207.9 L688.4 207.9 L688.6 208.7 L688.8 209.1 L689.0 209.6" stroke="#000ce3" stroke-width="4.6" fill="none" stroke-linecap="round" stroke-linejoin="round"/><path d="M689.0 209.6 L689.2 209.6 L689.4 210.6 L689.6 210.3 L689.7 209.7 L689.9 209.6 L690.1 209.3" stroke="#000be1" stroke-width="4.6" fill="none" stroke-linecap="round" stroke-linejoin="round"/><path d="M690.1 209.3 L690.3 209.8 L690.5 210.6 L690.7 210.8 L690.9 209.8 L691.1 209.1 L691.3 209.4" stroke="#000bdf" stroke-width="4.6" fill="none" stroke-linecap="round" stroke-linejoin="round"/><path d="M691.3 209.4 L691.4 208.7 L691.6 209.0 L691.8 208.1 L692.0 208.1 L692.2 208.7 L692.4 208.4" stroke="#000add" stroke-width="4.6" fill="none" stroke-linecap="round" stroke-linejoin="round"/><path d="M692.4 208.4 L692.6 209.2 L692.8 210.0 L693.0 211.0 L693.2 210.8 L693.3 210.8 L693.5 210.9" stroke="#0009dc" stroke-width="4.6" fill="none" stroke-linecap="round" stroke-linejoin="round"/><path d="M693.5 210.9 L693.7 211.1 L693.9 210.2 L694.1 210.7 L694.3 211.2 L694.5 210.5 L694.7 209.8" stroke="#0008da" stroke-width="4.6" fill="none" stroke-linecap="round" stroke-linejoin="round"/><path d="M694.7 209.8 L694.9 209.9 L695.0 211.2 L695.2 211.7 L695.4 211.4 L695.6 211.5 L695.8 210.7" stroke="#0007d8" stroke-width="4.6" fill="none" stroke-linecap="round" stroke-linejoin="round"/><path d="M695.8 210.7 L696.0 211.8 L696.2 211.5 L696.4 212.1 L696.6 211.3 L696.8 211.6 L696.9 211.2" stroke="#0006d6" stroke-width="4.6" fill="none" stroke-linecap="round" stroke-linejoin="round"/><path d="M696.9 211.2 L697.1 211.9 L697.3 213.0 L697.5 213.7 L697.7 213.9 L697.9 214.2 L698.1 213.1" stroke="#0006d4" stroke-width="4.6" fill="none" stroke-linecap="round" stroke-linejoin="round"/><path d="M698.1 213.1 L698.3 212.1 L698.5 211.9 L698.6 212.5 L698.8 212.4 L699.0 212.7 L699.2 211.6" stroke="#0005d2" stroke-width="4.6" fill="none" stroke-linecap="round" stroke-linejoin="round"/><path d="M699.2 211.6 L699.4 211.3 L699.6 211.0 L699.8 211.3 L700.0 212.5 L700.2 212.7 L700.4 213.1" stroke="#0004d1" stroke-width="4.6" fill="none" stroke-linecap="round" stroke-linejoin="round"/><path d="M700.4 213.1 L700.5 212.5 L700.7 212.2 L700.9 212.4 L701.1 212.4 L701.3 211.1 L701.5 211.6" stroke="#0003cf" stroke-width="4.6" fill="none" stroke-linecap="round" stroke-linejoin="round"/><path d="M701.5 211.6 L701.7 211.9 L701.9 211.8 L702.1 212.0 L702.2 211.9 L702.4 211.4 L702.6 210.2" stroke="#0002cd" stroke-width="4.6" fill="none" stroke-linecap="round" stroke-linejoin="round"/><path d="M702.6 210.2 L702.8 211.4 L703.0 211.3 L703.2 211.2 L703.4 211.2 L703.6 211.4 L703.8 211.7" stroke="#0001cb" stroke-width="4.6" fill="none" stroke-linecap="round" stroke-linejoin="round"/><path d="M703.8 211.7 L703.9 211.1 L704.1 211.5 L704.3 211.7 L704.5 211.8 L704.7 211.8 L704.9 212.1" stroke="#0001c9" stroke-width="4.6" fill="none" stroke-linecap="round" stroke-linejoin="round"/><path d="M704.9 212.1 L705.1 211.5 L705.3 211.8 L705.5 211.8 L705.7 212.1 L705.8 212.9 L706.0 213.5" stroke="#0100c7" stroke-width="4.6" fill="none" stroke-linecap="round" stroke-linejoin="round"/><path d="M706.0 213.5 L706.2 214.2 L706.4 214.0 L706.6 214.5 L706.8 215.1 L707.0 214.8 L707.2 214.4" stroke="#0600c4" stroke-width="4.6" fill="none" stroke-linecap="round" stroke-linejoin="round"/><path d="M707.2 214.4 L707.4 215.5 L707.5 214.3 L707.7 214.4 L707.9 214.5 L708.1 214.0 L708.3 214.1" stroke="#0b00c0" stroke-width="4.6" fill="none" stroke-linecap="round" stroke-linejoin="round"/><path d="M708.3 214.1 L708.5 214.7 L708.7 213.4 L708.9 214.5 L709.1 214.7 L709.3 214.4 L709.4 215.4" stroke="#1000bc" stroke-width="4.6" fill="none" stroke-linecap="round" stroke-linejoin="round"/><path d="M709.4 215.4 L709.6 215.6 L709.8 215.5 L710.0 214.2 L710.2 215.2 L710.4 215.5 L710.6 215.4" stroke="#1500b9" stroke-width="4.6" fill="none" stroke-linecap="round" stroke-linejoin="round"/><path d="M710.6 215.4 L710.8 215.7 L711.0 216.7 L711.1 216.6 L711.3 216.8 L711.5 216.7 L711.7 216.2" stroke="#1a00b5" stroke-width="4.6" fill="none" stroke-linecap="round" stroke-linejoin="round"/><path d="M711.7 216.2 L711.9 216.0 L712.1 216.1 L712.3 216.3 L712.5 217.1 L712.7 217.2 L712.8 217.0" stroke="#1f00b2" stroke-width="4.6" fill="none" stroke-linecap="round" stroke-linejoin="round"/><path d="M712.8 217.0 L713.0 217.1 L713.2 217.0 L713.4 217.4 L713.6 216.2 L713.8 214.9 L714.0 215.2" stroke="#2400ae" stroke-width="4.6" fill="none" stroke-linecap="round" stroke-linejoin="round"/><path d="M714.0 215.2 L714.2 215.1 L714.4 215.3 L714.6 214.5 L714.7 214.4 L714.9 214.4 L715.1 214.6" stroke="#2900aa" stroke-width="4.6" fill="none" stroke-linecap="round" stroke-linejoin="round"/><path d="M715.1 214.6 L715.3 214.5 L715.5 215.1 L715.7 214.5 L715.9 214.9 L716.1 214.4 L716.3 214.2" stroke="#2d00a7" stroke-width="4.6" fill="none" stroke-linecap="round" stroke-linejoin="round"/><path d="M716.3 214.2 L716.4 213.4 L716.6 213.4 L716.8 212.7 L717.0 213.3 L717.2 212.8 L717.4 212.9" stroke="#3200a3" stroke-width="4.6" fill="none" stroke-linecap="round" stroke-linejoin="round"/><path d="M717.4 212.9 L717.6 212.7 L717.8 212.5 L718.0 211.8 L718.2 213.1 L718.3 212.6 L718.5 213.4" stroke="#37009f" stroke-width="4.6" fill="none" stroke-linecap="round" stroke-linejoin="round"/><path d="M718.5 213.4 L718.7 212.3 L718.9 213.3 L719.1 213.5 L719.3 214.1 L719.5 212.5 L719.7 213.0" stroke="#3c009c" stroke-width="4.6" fill="none" stroke-linecap="round" stroke-linejoin="round"/><path d="M719.7 213.0 L719.9 212.5 L720.0 212.4 L720.2 213.1 L720.4 212.8 L720.6 211.8 L720.8 211.5" stroke="#410098" stroke-width="4.6" fill="none" stroke-linecap="round" stroke-linejoin="round"/><path d="M720.8 211.5 L721.0 210.5 L721.2 210.5 L721.4 210.2 L721.6 210.1 L721.8 209.6 L721.9 208.2" stroke="#460095" stroke-width="4.6" fill="none" stroke-linecap="round" stroke-linejoin="round"/><path d="M721.9 208.2 L722.1 207.9 L722.3 207.7 L722.5 208.0 L722.7 208.4 L722.9 207.2 L723.1 207.9" stroke="#4b0091" stroke-width="4.6" fill="none" stroke-linecap="round" stroke-linejoin="round"/><path d="M723.1 207.9 L723.3 208.7 L723.5 208.9 L723.6 209.3 L723.8 208.2 L724.0 210.0 L724.2 209.9" stroke="#50008d" stroke-width="4.6" fill="none" stroke-linecap="round" stroke-linejoin="round"/><path d="M724.2 209.9 L724.4 209.6 L724.6 210.5 L724.8 211.0 L725.0 210.9 L725.2 210.0 L725.3 210.9" stroke="#55008a" stroke-width="4.6" fill="none" stroke-linecap="round" stroke-linejoin="round"/><path d="M725.3 210.9 L725.5 212.1 L725.7 211.5 L725.9 210.8 L726.1 211.3 L726.3 213.0 L726.5 213.0" stroke="#5a0086" stroke-width="4.6" fill="none" stroke-linecap="round" stroke-linejoin="round"/><path d="M726.5 213.0 L726.7 214.2 L726.9 214.5 L727.1 215.7 L727.2 217.1 L727.4 218.4 L727.6 218.6" stroke="#5f0082" stroke-width="4.6" fill="none" stroke-linecap="round" stroke-linejoin="round"/><path d="M727.6 218.6 L727.8 218.8 L728.0 221.5 L728.2 223.1 L728.4 223.0 L728.6 224.4 L728.8 224.9" stroke="#64007f" stroke-width="4.6" fill="none" stroke-linecap="round" stroke-linejoin="round"/><path d="M728.8 224.9 L728.9 224.5 L729.1 224.1 L729.3 223.7 L729.5 223.6 L729.7 223.3 L729.9 223.2" stroke="#69007b" stroke-width="4.6" fill="none" stroke-linecap="round" stroke-linejoin="round"/><path d="M729.9 223.2 L730.1 222.4 L730.3 222.5 L730.5 222.2 L730.7 221.8 L730.8 220.4 L731.0 219.8" stroke="#6e0078" stroke-width="4.6" fill="none" stroke-linecap="round" stroke-linejoin="round"/><path d="M731.0 219.8 L731.2 219.6 L731.4 218.9 L731.6 218.4 L731.8 217.4 L732.0 216.9 L732.2 215.7" stroke="#730074" stroke-width="4.6" fill="none" stroke-linecap="round" stroke-linejoin="round"/><path d="M732.2 215.7 L732.4 214.9 L732.5 215.2 L732.7 215.5 L732.9 215.0 L733.1 214.8 L733.3 214.9" stroke="#780070" stroke-width="4.6" fill="none" stroke-linecap="round" stroke-linejoin="round"/><path d="M733.3 214.9 L733.5 215.9 L733.7 216.9 L733.9 216.4 L734.1 215.6 L734.2 214.9 L734.4 215.6" stroke="#7c006d" stroke-width="4.6" fill="none" stroke-linecap="round" stroke-linejoin="round"/><path d="M734.4 215.6 L734.6 214.7 L734.8 214.9 L735.0 214.4 L735.2 214.0 L735.4 214.3 L735.6 214.5" stroke="#810069" stroke-width="4.6" fill="none" stroke-linecap="round" stroke-linejoin="round"/><path d="M735.6 214.5 L735.8 215.5 L736.0 215.6 L736.1 216.2 L736.3 215.3 L736.5 214.7 L736.7 213.6" stroke="#860065" stroke-width="4.6" fill="none" stroke-linecap="round" stroke-linejoin="round"/><path d="M736.7 213.6 L736.9 213.1 L737.1 213.2 L737.3 212.6 L737.5 212.5 L737.7 211.8 L737.8 211.4" stroke="#8b0062" stroke-width="4.6" fill="none" stroke-linecap="round" stroke-linejoin="round"/><path d="M737.8 211.4 L738.0 211.9 L738.2 211.7 L738.4 211.5 L738.6 211.5 L738.8 210.8 L739.0 209.6" stroke="#90005e" stroke-width="4.6" fill="none" stroke-linecap="round" stroke-linejoin="round"/><path d="M739.0 209.6 L739.2 209.9 L739.4 210.1 L739.6 211.5 L739.7 211.3 L739.9 211.3 L740.1 212.4" stroke="#95005b" stroke-width="4.6" fill="none" stroke-linecap="round" stroke-linejoin="round"/><path d="M740.1 212.4 L740.3 211.8 L740.5 211.0 L740.7 211.2 L740.9 211.1 L741.1 211.4 L741.3 210.5" stroke="#ff0300" stroke-width="4.6" fill="none" stroke-linecap="round" stroke-linejoin="round"/><path d="M741.3 210.5 L741.4 211.2 L741.6 211.0 L741.8 209.4 L742.0 209.2 L742.2 208.8 L742.4 208.8" stroke="#ff0700" stroke-width="4.6" fill="none" stroke-linecap="round" stroke-linejoin="round"/><path d="M742.4 208.8 L742.6 209.4 L742.8 209.2 L743.0 208.8 L743.1 209.3 L743.3 208.8 L743.5 207.8" stroke="#ff0a00" stroke-width="4.6" fill="none" stroke-linecap="round" stroke-linejoin="round"/><path d="M743.5 207.8 L743.7 207.1 L743.9 208.3 L744.1 209.0 L744.3 210.0 L744.5 209.1 L744.7 208.7" stroke="#ff0e00" stroke-width="4.6" fill="none" stroke-linecap="round" stroke-linejoin="round"/><path d="M744.7 208.7 L744.9 208.3 L745.0 209.0 L745.2 209.7 L745.4 209.6 L745.6 209.5 L745.8 210.0" stroke="#ff1200" stroke-width="4.6" fill="none" stroke-linecap="round" stroke-linejoin="round"/><path d="M745.8 210.0 L746.0 209.8 L746.2 209.4 L746.4 209.3 L746.6 210.0 L746.7 211.3 L746.9 211.2" stroke="#ff1500" stroke-width="4.6" fill="none" stroke-linecap="round" stroke-linejoin="round"/><path d="M746.9 211.2 L747.1 210.9 L747.3 210.9 L747.5 211.1 L747.7 211.4 L747.9 210.7 L748.1 210.7" stroke="#ff1900" stroke-width="4.6" fill="none" stroke-linecap="round" stroke-linejoin="round"/><path d="M748.1 210.7 L748.3 210.6 L748.5 211.2 L748.6 211.5 L748.8 211.2 L749.0 211.8 L749.2 212.4" stroke="#ff1d00" stroke-width="4.6" fill="none" stroke-linecap="round" stroke-linejoin="round"/><path d="M749.2 212.4 L749.4 212.4 L749.6 211.1 L749.8 210.7 L750.0 209.5 L750.2 209.5 L750.3 209.5" stroke="#ff2000" stroke-width="4.6" fill="none" stroke-linecap="round" stroke-linejoin="round"/><path d="M750.3 209.5 L750.5 210.2 L750.7 210.2 L750.9 209.0 L751.1 208.6 L751.3 208.0 L751.5 207.4" stroke="#ff2400" stroke-width="4.6" fill="none" stroke-linecap="round" stroke-linejoin="round"/><path d="M751.5 207.4 L751.7 207.4 L751.9 207.5 L752.1 207.3 L752.2 206.8 L752.4 206.4 L752.6 206.1" stroke="#ff2800" stroke-width="4.6" fill="none" stroke-linecap="round" stroke-linejoin="round"/><path d="M752.6 206.1 L752.8 206.0 L753.0 206.5 L753.2 206.5 L753.4 207.0 L753.6 206.1 L753.8 207.3" stroke="#ff2b00" stroke-width="4.6" fill="none" stroke-linecap="round" stroke-linejoin="round"/><path d="M753.8 207.3 L753.9 207.1 L754.1 205.2 L754.3 205.4 L754.5 205.9 L754.7 205.7 L754.9 204.6" stroke="#ff2f00" stroke-width="4.6" fill="none" stroke-linecap="round" stroke-linejoin="round"/><path d="M754.9 204.6 L755.1 204.6 L755.3 204.1 L755.5 204.1 L755.6 204.5 L755.8 202.5 L756.0 202.8" stroke="#ff3300" stroke-width="4.6" fill="none" stroke-linecap="round" stroke-linejoin="round"/><path d="M756.0 202.8 L756.2 203.4 L756.4 203.9 L756.6 203.8 L756.8 203.7 L757.0 203.3 L757.2 203.4" stroke="#ff3600" stroke-width="4.6" fill="none" stroke-linecap="round" stroke-linejoin="round"/><path d="M757.2 203.4 L757.4 204.5 L757.5 204.2 L757.7 204.5 L757.9 204.7 L758.1 205.6 L758.3 205.8" stroke="#ff3a00" stroke-width="4.6" fill="none" stroke-linecap="round" stroke-linejoin="round"/><path d="M758.3 205.8 L758.5 206.1 L758.7 205.9 L758.9 206.6 L759.1 206.3 L759.2 205.9 L759.4 206.4" stroke="#ff3e00" stroke-width="4.6" fill="none" stroke-linecap="round" stroke-linejoin="round"/><path d="M759.4 206.4 L759.6 206.5 L759.8 206.8 L760.0 205.9 L760.2 207.3 L760.4 207.1 L760.6 207.7" stroke="#ff4100" stroke-width="4.6" fill="none" stroke-linecap="round" stroke-linejoin="round"/><path d="M760.6 207.7 L760.8 207.5 L761.0 206.5 L761.1 206.6 L761.3 206.3 L761.5 206.7 L761.7 205.2" stroke="#ff4500" stroke-width="4.6" fill="none" stroke-linecap="round" stroke-linejoin="round"/><path d="M761.7 205.2 L761.9 204.7 L762.1 204.1 L762.3 205.1 L762.5 205.8 L762.7 205.1 L762.8 205.3" stroke="#ff4800" stroke-width="4.6" fill="none" stroke-linecap="round" stroke-linejoin="round"/><path d="M762.8 205.3 L763.0 205.5 L763.2 205.4 L763.4 206.2 L763.6 205.7 L763.8 205.7 L764.0 205.5" stroke="#ff4c00" stroke-width="4.6" fill="none" stroke-linecap="round" stroke-linejoin="round"/><path d="M764.0 205.5 L764.2 206.0 L764.4 205.7 L764.5 206.2 L764.7 205.7 L764.9 205.1 L765.1 204.7" stroke="#ff5000" stroke-width="4.6" fill="none" stroke-linecap="round" stroke-linejoin="round"/><path d="M765.1 204.7 L765.3 204.7 L765.5 204.6 L765.7 206.6 L765.9 206.1 L766.1 206.4 L766.3 206.4" stroke="#ff5300" stroke-width="4.6" fill="none" stroke-linecap="round" stroke-linejoin="round"/><path d="M766.3 206.4 L766.4 206.7 L766.6 207.6 L766.8 207.9 L767.0 207.1 L767.2 206.0 L767.4 206.2" stroke="#ff5700" stroke-width="4.6" fill="none" stroke-linecap="round" stroke-linejoin="round"/><path d="M767.4 206.2 L767.6 206.6 L767.8 205.5 L768.0 205.9 L768.1 204.4 L768.3 204.3 L768.5 204.9" stroke="#ff5b00" stroke-width="4.6" fill="none" stroke-linecap="round" stroke-linejoin="round"/><path d="M768.5 204.9 L768.7 204.1 L768.9 203.0 L769.1 204.0 L769.3 202.9 L769.5 203.1 L769.7 202.2" stroke="#ff5e00" stroke-width="4.6" fill="none" stroke-linecap="round" stroke-linejoin="round"/><path d="M769.7 202.2 L769.9 202.5 L770.0 203.5 L770.2 203.1 L770.4 202.4 L770.6 201.0 L770.8 200.1" stroke="#ff6200" stroke-width="4.6" fill="none" stroke-linecap="round" stroke-linejoin="round"/><path d="M770.8 200.1 L771.0 199.9 L771.2 200.3 L771.4 200.8 L771.6 201.1 L771.7 201.6 L771.9 201.7" stroke="#ff6600" stroke-width="4.6" fill="none" stroke-linecap="round" stroke-linejoin="round"/><path d="M771.9 201.7 L772.1 203.1 L772.3 202.6 L772.5 202.3 L772.7 200.4 L772.9 199.7 L773.1 200.0" stroke="#ff6900" stroke-width="4.6" fill="none" stroke-linecap="round" stroke-linejoin="round"/><path d="M773.1 200.0 L773.3 199.4 L773.5 200.1 L773.6 200.2 L773.8 201.0 L774.0 199.7 L774.2 199.0" stroke="#ff6d00" stroke-width="4.6" fill="none" stroke-linecap="round" stroke-linejoin="round"/><path d="M774.2 199.0 L774.4 199.4 L774.6 199.1 L774.8 198.2 L775.0 197.6 L775.2 197.1 L775.3 197.5" stroke="#ff7100" stroke-width="4.6" fill="none" stroke-linecap="round" stroke-linejoin="round"/><path d="M775.3 197.5 L775.5 197.6 L775.7 197.2 L775.9 196.3 L776.1 196.6 L776.3 197.0 L776.5 195.9" stroke="#ff7500" stroke-width="4.6" fill="none" stroke-linecap="round" stroke-linejoin="round"/><path d="M776.5 195.9 L776.7 196.2 L776.9 195.2 L777.0 194.8 L777.2 194.0 L777.4 192.7 L777.6 192.3" stroke="#ff7900" stroke-width="4.6" fill="none" stroke-linecap="round" stroke-linejoin="round"/><path d="M777.6 192.3 L777.8 191.8 L778.0 192.4 L778.2 192.8 L778.4 192.2 L778.6 191.1 L778.8 190.2" stroke="#ff7d00" stroke-width="4.6" fill="none" stroke-linecap="round" stroke-linejoin="round"/><path d="M778.8 190.2 L778.9 188.8 L779.1 188.8 L779.3 188.9 L779.5 188.4 L779.7 188.5 L779.9 188.6" stroke="#ff8100" stroke-width="4.6" fill="none" stroke-linecap="round" stroke-linejoin="round"/><path d="M779.9 188.6 L780.1 189.3 L780.3 188.6 L780.5 189.2 L780.6 188.7 L780.8 189.4 L781.0 188.4" stroke="#ff8500" stroke-width="4.6" fill="none" stroke-linecap="round" stroke-linejoin="round"/><path d="M781.0 188.4 L781.2 188.9 L781.4 188.0 L781.6 188.8 L781.8 188.7 L782.0 187.5 L782.2 187.7" stroke="#ff8900" stroke-width="4.6" fill="none" stroke-linecap="round" stroke-linejoin="round"/><path d="M782.2 187.7 L782.4 187.3 L782.5 187.3 L782.7 188.4 L782.9 187.6 L783.1 186.8 L783.3 187.0" stroke="#ff8d00" stroke-width="4.6" fill="none" stroke-linecap="round" stroke-linejoin="round"/><path d="M783.3 187.0 L783.5 186.2 L783.7 186.2 L783.9 186.4 L784.1 185.8 L784.2 185.7 L784.4 183.0" stroke="#ff9100" stroke-width="4.6" fill="none" stroke-linecap="round" stroke-linejoin="round"/><path d="M784.4 183.0 L784.6 182.9 L784.8 181.3 L785.0 179.6 L785.2 179.8 L785.4 179.7 L785.6 178.0" stroke="#ff9500" stroke-width="4.6" fill="none" stroke-linecap="round" stroke-linejoin="round"/><path d="M785.6 178.0 L785.8 178.3 L785.9 178.0 L786.1 177.4 L786.3 177.8 L786.5 178.6 L786.7 180.3" stroke="#ff9900" stroke-width="4.6" fill="none" stroke-linecap="round" stroke-linejoin="round"/><path d="M786.7 180.3 L786.9 180.0 L787.1 180.5 L787.3 180.1 L787.5 179.9 L787.7 180.7 L787.8 179.5" stroke="#ff9d00" stroke-width="4.6" fill="none" stroke-linecap="round" stroke-linejoin="round"/><path d="M787.8 179.5 L788.0 178.9 L788.2 178.6 L788.4 179.6 L788.6 180.0 L788.8 180.5 L789.0 180.8" stroke="#ffa100" stroke-width="4.6" fill="none" stroke-linecap="round" stroke-linejoin="round"/><path d="M789.0 180.8 L789.2 181.6 L789.4 181.3 L789.5 181.2 L789.7 181.1 L789.9 181.5 L790.1 180.8" stroke="#ffa500" stroke-width="4.6" fill="none" stroke-linecap="round" stroke-linejoin="round"/><path d="M790.1 180.8 L790.3 180.2 L790.5 181.4 L790.7 181.1 L790.9 180.4 L791.1 179.1 L791.3 178.6" stroke="#ffaa00" stroke-width="4.6" fill="none" stroke-linecap="round" stroke-linejoin="round"/><path d="M791.3 178.6 L791.4 178.2 L791.6 178.0 L791.8 176.9 L792.0 176.6 L792.2 176.3 L792.4 176.1" stroke="#ffae00" stroke-width="4.6" fill="none" stroke-linecap="round" stroke-linejoin="round"/><path d="M792.4 176.1 L792.6 175.1 L792.8 174.8 L793.0 175.2 L793.1 174.0 L793.3 173.7 L793.5 172.7" stroke="#ffb200" stroke-width="4.6" fill="none" stroke-linecap="round" stroke-linejoin="round"/><path d="M793.5 172.7 L793.7 171.8 L793.9 170.5 L794.1 170.2 L794.3 171.0 L794.5 171.5 L794.7 172.7" stroke="#ffb600" stroke-width="4.6" fill="none" stroke-linecap="round" stroke-linejoin="round"/><path d="M794.7 172.7 L794.8 171.9 L795.0 172.0 L795.2 171.6 L795.4 172.4 L795.6 173.7 L795.8 172.5" stroke="#ffba00" stroke-width="4.6" fill="none" stroke-linecap="round" stroke-linejoin="round"/><path d="M795.8 172.5 L796.0 172.4 L796.2 172.3 L796.4 172.2 L796.6 171.7 L796.7 171.4 L796.9 172.4" stroke="#ffbe00" stroke-width="4.6" fill="none" stroke-linecap="round" stroke-linejoin="round"/><path d="M796.9 172.4 L797.1 171.5 L797.3 171.8 L797.5 172.0 L797.7 170.8 L797.9 170.2 L798.1 170.5" stroke="#ffc200" stroke-width="4.6" fill="none" stroke-linecap="round" stroke-linejoin="round"/><path d="M798.1 170.5 L798.3 171.6 L798.4 171.3 L798.6 170.8 L798.8 170.8 L799.0 171.4 L799.2 171.7" stroke="#ffc600" stroke-width="4.6" fill="none" stroke-linecap="round" stroke-linejoin="round"/><path d="M799.2 171.7 L799.4 172.2 L799.6 171.6 L799.8 170.8 L800.0 169.9 L800.2 170.2 L800.3 169.9" stroke="#ffca00" stroke-width="4.6" fill="none" stroke-linecap="round" stroke-linejoin="round"/><path d="M800.3 169.9 L800.5 169.4 L800.7 169.6 L800.9 169.5 L801.1 168.0 L801.3 167.9 L801.5 167.5" stroke="#ffce00" stroke-width="4.6" fill="none" stroke-linecap="round" stroke-linejoin="round"/><path d="M801.5 167.5 L801.7 167.9 L801.9 168.0 L802.0 169.1 L802.2 169.0 L802.4 168.2 L802.6 166.9" stroke="#ffd200" stroke-width="4.6" fill="none" stroke-linecap="round" stroke-linejoin="round"/><path d="M802.6 166.9 L802.8 166.3 L803.0 166.2 L803.2 166.4 L803.4 167.1 L803.6 167.3 L803.8 167.0" stroke="#ffd600" stroke-width="4.6" fill="none" stroke-linecap="round" stroke-linejoin="round"/><path d="M803.8 167.0 L803.9 167.7 L804.1 167.2 L804.3 168.0 L804.5 169.2 L804.7 169.8 L804.9 170.6" stroke="#ffda00" stroke-width="4.6" fill="none" stroke-linecap="round" stroke-linejoin="round"/><path d="M804.9 170.6 L805.1 171.2 L805.3 170.1 L805.5 170.0 L805.6 169.7 L805.8 168.8 L806.0 168.0" stroke="#ffde00" stroke-width="4.6" fill="none" stroke-linecap="round" stroke-linejoin="round"/><path d="M806.0 168.0 L806.2 168.4 L806.4 167.7 L806.6 167.6 L806.8 167.8 L807.0 167.7 L807.2 169.3" stroke="#ffe200" stroke-width="4.6" fill="none" stroke-linecap="round" stroke-linejoin="round"/><path d="M807.2 169.3 L807.3 170.3 L807.5 170.9 L807.7 171.0 L807.9 171.8 L808.1 172.4 L808.3 172.3" stroke="#ffe600" stroke-width="4.6" fill="none" stroke-linecap="round" stroke-linejoin="round"/><path d="M808.3 172.3 L808.5 172.0 L808.7 172.3 L808.9 172.3 L809.1 173.4 L809.2 174.4 L809.4 174.9" stroke="#ffea00" stroke-width="4.6" fill="none" stroke-linecap="round" stroke-linejoin="round"/><path d="M809.4 174.9 L809.6 175.8 L809.8 176.8 L810.0 176.4 L810.2 177.3 L810.4 178.6 L810.6 178.3" stroke="#fbeb00" stroke-width="4.6" fill="none" stroke-linecap="round" stroke-linejoin="round"/><path d="M810.6 178.3 L810.8 177.3 L810.9 177.5 L811.1 176.9 L811.3 177.5 L811.5 178.1 L811.7 178.6" stroke="#f8eb00" stroke-width="4.6" fill="none" stroke-linecap="round" stroke-linejoin="round"/><path d="M811.7 178.6 L811.9 178.8 L812.1 177.7 L812.3 178.6 L812.5 177.6 L812.7 178.5 L812.8 178.7" stroke="#f4ec00" stroke-width="4.6" fill="none" stroke-linecap="round" stroke-linejoin="round"/><path d="M812.8 178.7 L813.0 178.2 L813.2 177.9 L813.4 177.8 L813.6 179.0 L813.8 179.0 L814.0 180.0" stroke="#f1ed00" stroke-width="4.6" fill="none" stroke-linecap="round" stroke-linejoin="round"/><path d="M814.0 180.0 L814.2 178.6 L814.4 179.3 L814.5 179.6 L814.7 180.8" stroke="#eeee00" stroke-width="4.6" fill="none" stroke-linecap="round" stroke-linejoin="round"/><path d="M136.1 389.1 L160.3 373.5 L173.7 366.0 L197.9 353.4 L211.3 350.7 L224.7 349.9 L240.8 338.6 L281.1 309.0 L294.5 299.7 L307.9 301.0 L332.7 299.1 L354.6 292.3 L381.9 285.5 L409.1 280.0 L428.2 277.3 L463.7 276.8 L470.0 276.5 L482.3 271.3 L506.8 254.4 L527.6 237.8 L542.9 222.2 L575.8 221.3 L631.1 219.0 L663.6 215.8 L728.7 214.8 L738.6 213.0 L760.0 200.8 L781.5 185.0 L797.3 172.2 L808.0 160.7 L845.1 159.5" stroke="#a24a40" stroke-width="1.2" fill="none"/><path d="M136.2 445.1L136.4 444.8L136.6 445.7L136.8 446.6L137.0 447.1L137.1 447.7L137.3 448.9L137.5 449.2L137.7 448.7L137.9 449.6L138.1 450.4L138.3 451.6L138.5 452.0L138.7 453.3L138.8 454.4L139.0 454.2L139.2 455.2L139.4 455.2L139.6 455.0L139.8 455.6L140.0 455.7L140.2 455.1L140.4 455.8L140.6 456.7L140.7 457.9L140.9 458.2L141.1 457.7L141.3 457.6L141.5 458.6L141.7 459.5L141.9 460.1L142.1 460.2L142.3 460.7L142.4 461.0L142.6 461.3L142.8 461.9L143.0 462.3L143.2 462.6L143.4 463.1L143.6 463.3L143.8 462.8L144.0 463.0L144.1 463.6L144.3 465.1L144.5 465.4L144.7 466.9M241.3 466.6L241.5 465.4L241.7 465.0L241.9 464.9L242.1 464.8L242.2 463.6L242.4 464.0L242.6 463.8L242.8 463.3L243.0 462.6L243.2 462.6L243.4 462.2L243.6 462.0L243.8 461.6L244.0 461.3L244.1 461.5L244.3 461.1L244.5 460.1L244.7 460.2L244.9 459.9L245.1 459.0L245.3 459.1L245.5 458.5L245.7 458.5L245.8 457.1L246.0 455.1L246.2 453.4L246.4 453.1L246.6 452.2L246.8 451.6L247.0 451.0L247.2 449.6L247.4 449.9L247.5 448.7L247.7 448.2L247.9 446.9L248.1 445.2L248.3 444.1L248.5 442.3L248.7 440.3L248.9 438.6L249.1 436.8L249.3 435.4L249.4 434.9L249.6 437.7L249.8 440.7L250.0 444.1L250.2 447.4L250.4 450.3L250.6 454.1L250.8 457.9L251.0 457.1L251.1 455.7L251.3 455.7L251.5 454.2L251.7 453.8L251.9 453.5L252.1 451.9L252.3 451.2L252.5 451.1L252.7 450.3L252.9 448.9L253.0 447.4L253.2 446.9L253.4 445.9L253.6 446.0L253.8 446.8L254.0 447.0L254.2 447.4L254.4 448.1L254.6 448.8L254.7 449.1L254.9 449.4L255.1 450.0L255.3 450.6L255.5 450.3L255.7 450.5L255.9 450.5L256.1 450.3L256.3 450.5L256.5 449.5L256.6 450.3L256.8 450.2L257.0 450.6L257.2 449.8L257.4 449.3L257.6 450.7L257.8 451.4L258.0 451.2L258.2 450.9L258.3 450.7L258.5 450.9L258.7 450.9L258.9 450.7L259.1 451.0L259.3 450.6L259.5 452.0L259.7 452.0L259.9 452.9L260.0 452.7L260.2 453.1L260.4 453.9L260.6 454.0L260.8 454.8L261.0 455.5L261.2 456.4L261.4 456.5L261.6 456.3L261.8 456.0L261.9 456.3L262.1 456.0L262.3 456.3L262.5 456.7L262.7 456.8L262.9 456.6L263.1 457.2L263.3 457.7L263.5 458.2L263.6 458.5L263.8 459.3L264.0 459.0L264.2 460.0L264.4 460.6L264.6 461.9L264.8 462.5L265.0 463.1L265.2 464.1L265.4 463.9L265.5 464.6L265.7 464.6L265.9 465.2L266.1 465.7L266.3 465.9L266.5 465.7L266.7 465.6L266.9 465.6L267.1 465.7L267.2 466.5L267.4 466.4M268.2 466.7L268.4 466.4L268.6 465.9L268.8 466.3L268.9 466.8M269.5 467.2L269.7 465.7L269.9 465.8L270.1 465.0L270.3 465.3L270.5 464.6L270.7 464.4L270.8 464.0L271.0 463.4L271.2 462.2L271.4 462.1L271.6 462.1L271.8 462.6L272.0 462.2L272.2 462.3L272.4 461.8L272.5 461.8L272.7 460.9L272.9 462.0L273.1 462.1L273.3 461.6L273.5 461.8L273.7 462.1L273.9 462.2L274.1 462.8L274.3 462.5L274.4 461.0L274.6 460.4L274.8 461.1L275.0 461.6L275.2 461.7L275.4 461.1L275.6 461.5L275.8 461.8L276.0 461.2L276.1 460.6L276.3 460.8L276.5 461.4L276.7 462.1L276.9 462.2L277.1 463.4L277.3 462.8L277.5 463.1L277.7 462.8L277.9 461.8L278.0 461.4L278.2 462.3L278.4 462.0L278.6 461.6L278.8 462.4L279.0 463.1L279.2 463.3L279.4 464.3L279.6 463.6L279.7 465.0L279.9 465.6L280.1 465.7L280.3 465.8L280.5 465.6L280.7 465.5L280.9 465.7L281.1 465.1L281.3 466.4L281.4 466.4M283.0 466.7L283.2 465.3L283.3 464.0L283.5 464.8L283.7 464.5L283.9 463.0L284.1 462.7L284.3 462.6L284.5 462.8L284.7 463.1L284.9 463.1L285.0 463.3L285.2 462.7L285.4 462.8L285.6 462.9L285.8 463.3L286.0 463.0L286.2 463.2L286.4 462.9L286.6 462.0L286.8 461.6L286.9 461.1L287.1 460.7L287.3 460.5L287.5 460.4L287.7 460.4L287.9 459.8L288.1 460.2L288.3 459.3L288.5 459.1L288.6 459.4L288.8 459.4L289.0 459.5L289.2 459.1L289.4 458.0L289.6 455.9L289.8 454.9L290.0 454.6L290.2 453.3L290.3 452.7L290.5 451.0L290.7 448.7L290.9 446.7L291.1 445.9L291.3 444.7L291.5 442.1L291.7 440.4L291.9 439.7L292.1 438.5L292.2 436.5L292.4 435.4L292.6 434.9L292.8 434.3L293.0 433.6L293.2 433.5L293.4 433.5L293.6 432.9L293.8 432.7L293.9 432.1L294.1 432.2L294.3 431.1L294.5 432.0L294.7 432.2L294.9 432.7L295.1 432.8L295.3 432.7L295.5 433.4L295.7 434.2L295.8 435.4L296.0 437.2L296.2 438.2L296.4 439.5L296.6 441.3L296.8 442.8L297.0 444.1L297.2 445.1L297.4 446.7L297.5 446.2L297.7 446.6L297.9 446.4L298.1 444.8L298.3 445.3L298.5 444.7L298.7 443.8L298.9 443.2L299.1 442.9L299.2 442.2L299.4 441.5L299.6 440.8L299.8 441.2L300.0 440.4L300.2 440.4L300.4 440.2L300.6 439.6L300.8 438.9L301.0 438.1L301.1 438.1L301.3 437.3L301.5 436.5L301.7 435.8L301.9 435.0L302.1 435.2L302.3 435.3L302.5 434.8L302.7 435.5L302.8 435.5L303.0 435.9L303.2 436.1L303.4 437.1L303.6 437.4L303.8 437.3L304.0 436.7L304.2 436.1L304.4 436.2L304.6 436.4L304.7 436.8L304.9 436.6L305.1 436.7L305.3 436.4L305.5 435.5L305.7 435.7L305.9 436.7L306.1 437.4L306.3 438.4L306.4 439.2L306.6 438.6L306.8 438.7L307.0 439.7L307.2 439.5L307.4 439.1L307.6 439.6L307.8 440.2L308.0 440.7L308.2 440.8L308.3 440.7L308.5 440.5L308.7 440.3L308.9 440.2L309.1 440.0L309.3 440.3L309.5 441.8L309.7 442.4L309.9 442.7L310.0 443.4L310.2 443.3L310.4 444.0L310.6 444.3L310.8 443.3L311.0 442.8L311.2 442.6L311.4 442.1L311.6 441.5L311.7 441.3L311.9 442.6L312.1 442.7L312.3 442.7L312.5 442.9L312.7 442.4L312.9 441.4L313.1 442.0L313.3 442.9L313.5 442.0L313.6 442.5L313.8 443.5L314.0 443.6L314.2 443.6L314.4 444.3L314.6 444.1L314.8 444.6L315.0 445.4L315.2 445.5L315.3 445.3L315.5 445.9L315.7 446.0L315.9 446.3L316.1 445.1L316.3 446.0L316.5 445.6L316.7 446.2L316.9 446.7L317.1 446.8L317.2 446.8L317.4 446.6L317.6 447.0L317.8 447.9L318.0 448.6L318.2 448.8L318.4 448.9L318.6 448.6L318.8 448.9L318.9 448.9L319.1 448.3L319.3 448.5L319.5 449.5L319.7 450.2L319.9 450.9L320.1 449.9L320.3 450.3L320.5 449.5L320.6 449.2L320.8 448.3L321.0 447.9L321.2 448.1L321.4 448.4L321.6 448.4L321.8 448.4L322.0 448.7L322.2 448.7L322.4 447.8L322.5 448.8L322.7 448.6L322.9 448.9L323.1 448.5L323.3 447.9L323.5 447.7L323.7 447.2L323.9 447.9L324.1 447.0L324.2 447.2L324.4 446.7L324.6 446.4L324.8 447.6L325.0 447.6L325.2 447.1L325.4 445.9L325.6 445.6L325.8 445.2L326.0 445.8L326.1 444.8L326.3 443.7L326.5 443.6L326.7 443.7L326.9 444.4L327.1 443.7L327.3 442.1L327.5 441.8L327.7 441.2L327.8 441.0L328.0 441.7L328.2 440.9L328.4 441.7L328.6 441.7L328.8 441.4L329.0 440.9L329.2 440.8L329.4 440.8L329.6 441.4L329.7 442.2L329.9 442.2L330.1 442.6L330.3 443.3L330.5 443.8L330.7 443.9L330.9 444.6L331.1 445.0L331.3 445.5L331.4 445.0L331.6 444.4L331.8 443.1L332.0 443.8L332.2 444.0L332.4 443.3L332.6 443.3L332.8 443.4L333.0 442.5L333.1 442.8L333.3 443.4L333.5 444.1L333.7 443.8L333.9 443.6L334.1 444.3L334.3 444.7L334.5 444.3L334.7 443.9L334.9 444.3L335.0 443.9L335.2 443.7L335.4 444.7L335.6 444.8L335.8 444.6L336.0 444.9L336.2 446.0L336.4 446.0L336.6 445.4L336.7 444.5L336.9 445.8L337.1 444.3L337.3 445.1L337.5 444.6L337.7 444.1L337.9 443.8L338.1 444.0L338.3 444.9L338.5 444.7L338.6 445.3L338.8 446.8L339.0 445.2L339.2 445.0L339.4 444.2L339.6 445.1L339.8 444.5L340.0 444.0L340.2 443.6L340.3 444.3L340.5 445.5L340.7 446.0L340.9 447.5L341.1 448.6L341.3 448.6L341.5 449.3L341.7 449.4L341.9 449.5L342.0 448.5L342.2 448.1L342.4 448.5L342.6 448.2L342.8 449.0L343.0 449.5L343.2 449.3L343.4 450.3L343.6 450.7L343.8 451.6L343.9 451.5L344.1 450.6L344.3 451.1L344.5 451.1L344.7 451.6L344.9 452.3L345.1 452.8L345.3 451.9L345.5 450.7L345.6 450.6L345.8 451.2L346.0 451.0L346.2 451.5L346.4 451.3L346.6 451.4L346.8 451.6L347.0 451.6L347.2 452.2L347.4 452.7L347.5 453.8L347.7 454.1L347.9 454.9L348.1 455.0L348.3 455.4L348.5 455.3L348.7 455.1L348.9 455.9L349.1 456.2L349.2 456.7L349.4 456.2L349.6 455.2L349.8 454.9L350.0 455.3L350.2 454.8L350.4 455.9L350.6 455.2L350.8 456.2L350.9 458.2L351.1 457.2L351.3 456.9L351.5 458.2L351.7 458.6L351.9 459.3L352.1 459.9L352.3 461.2L352.5 462.0L352.7 461.4L352.8 461.0L353.0 460.2L353.2 460.0L353.4 458.6L353.6 459.0L353.8 458.8L354.0 459.8L354.2 460.2L354.4 459.2L354.5 459.5L354.7 458.9L354.9 458.7L355.1 459.0L355.3 458.9L355.5 459.3L355.7 459.6L355.9 459.3L356.1 459.1L356.3 459.7L356.4 460.3L356.6 460.3L356.8 460.5L357.0 460.1L357.2 459.0L357.4 459.0L357.6 459.5L357.8 460.1L358.0 460.9L358.1 461.7L358.3 462.5L358.5 462.0L358.7 461.5L358.9 460.4L359.1 459.9L359.3 459.3L359.5 459.3L359.7 457.6L359.9 457.5L360.0 456.8L360.2 456.7L360.4 456.2L360.6 456.8L360.8 456.8L361.0 455.8L361.2 457.0L361.4 456.8L361.6 456.4L361.7 456.8L361.9 456.9L362.1 456.8L362.3 457.7L362.5 457.9L362.7 458.9L362.9 459.6L363.1 460.1L363.3 460.4L363.4 460.5L363.6 460.5L363.8 461.5L364.0 460.6L364.2 460.3L364.4 460.3L364.6 460.9L364.8 461.3L365.0 461.3L365.2 461.4L365.3 462.7L365.5 462.5L365.7 461.2L365.9 462.7L366.1 462.4L366.3 462.6L366.5 463.0L366.7 462.6L366.9 463.7L367.0 463.8L367.2 463.1L367.4 463.5L367.6 463.9L367.8 464.0L368.0 464.4L368.2 463.7L368.4 464.4L368.6 464.1L368.8 464.9L368.9 464.6L369.1 464.8L369.3 467.1M463.6 466.3L463.8 465.9L464.0 465.7L464.2 465.5L464.4 464.8L464.6 464.9L464.8 464.1L465.0 464.8L465.1 465.1L465.3 465.8L465.5 466.0L465.7 465.6L465.9 464.7L466.1 465.1L466.3 465.1L466.5 465.3L466.7 465.6L466.8 466.1L467.0 465.8L467.2 466.2L467.4 465.5L467.6 464.9L467.8 464.7L468.0 464.6L468.2 464.7L468.4 463.0L468.6 463.2L468.7 461.7L468.9 461.0L469.1 460.8L469.3 460.9L469.5 459.9L469.7 458.5L469.9 458.7L470.1 458.5L470.3 458.2L470.4 458.3L470.6 457.6L470.8 458.4L471.0 458.5L471.2 459.6L471.4 458.7L471.6 459.6L471.8 461.1L472.0 461.3L472.2 461.5L472.3 460.7L472.5 461.2L472.7 461.5L472.9 461.4L473.1 460.8L473.3 461.3L473.5 461.1L473.7 461.2L473.9 461.8L474.0 462.1L474.2 462.4L474.4 463.2L474.6 462.8L474.8 463.9L475.0 463.4L475.2 463.2L475.4 463.6L475.6 464.3L475.7 464.7L475.9 464.6L476.1 464.5L476.3 464.6L476.5 464.4L476.7 465.1L476.9 465.2L477.1 466.4L477.3 466.1L477.5 466.2L477.6 466.7L477.8 466.3L478.0 466.2M561.7 466.5L561.9 466.0L562.1 465.8L562.3 464.5L562.5 464.5L562.7 465.2L562.9 464.5L563.1 464.7L563.2 464.8L563.4 466.3L563.6 465.4L563.8 464.7L564.0 464.0L564.2 463.4L564.4 462.4L564.6 462.4L564.8 461.9L564.9 462.3L565.1 462.4L565.3 462.2L565.5 462.4L565.7 463.5L565.9 463.6L566.1 464.0L566.3 464.7L566.5 464.7L566.7 465.2L566.8 466.2L567.0 466.9L567.2 465.9L567.4 466.1L567.6 465.2L567.8 464.2L568.0 463.2L568.2 463.2L568.4 462.7L568.5 461.9L568.7 460.8L568.9 460.5L569.1 460.5L569.3 459.2L569.5 458.0L569.7 457.2L569.9 457.0L570.1 456.2L570.2 455.6L570.4 454.6L570.6 454.7L570.8 454.0L571.0 453.4L571.2 453.3L571.4 452.4L571.6 451.7L571.8 451.2L572.0 450.2L572.1 450.2L572.3 449.5L572.5 448.4L572.7 447.5L572.9 446.2L573.1 446.2L573.3 446.3L573.5 445.3L573.7 444.3L573.8 442.4L574.0 443.5L574.2 445.4L574.4 446.3L574.6 448.2L574.8 450.3L575.0 448.8L575.2 448.8L575.4 448.6L575.6 448.6L575.7 447.8L575.9 448.0L576.1 447.7L576.3 448.7L576.5 449.6L576.7 449.0L576.9 447.5L577.1 446.6L577.3 445.9L577.4 445.2L577.6 444.9L577.8 444.8L578.0 445.2L578.2 445.7L578.4 446.4L578.6 446.6L578.8 447.2L579.0 447.7L579.1 449.1L579.3 449.6L579.5 449.2L579.7 450.3L579.9 451.2L580.1 451.5L580.3 451.8L580.5 452.3L580.7 454.0L580.9 454.4L581.0 455.7L581.2 456.7L581.4 457.0L581.6 457.7L581.8 457.8L582.0 456.7L582.2 457.2L582.4 457.7L582.6 459.0L582.7 460.1L582.9 461.4L583.1 462.2L583.3 463.3L583.5 464.1L583.7 463.7L583.9 463.8L584.1 463.9L584.3 464.0L584.5 463.0L584.6 462.4L584.8 461.2L585.0 460.2L585.2 460.0L585.4 459.3L585.6 459.7L585.8 458.0L586.0 457.1L586.2 457.0L586.3 457.4L586.5 456.9L586.7 457.5L586.9 457.5L587.1 456.5L587.3 456.1L587.5 455.9L587.7 454.9L587.9 455.1L588.0 455.2L588.2 455.7L588.4 456.3L588.6 456.2L588.8 457.0L589.0 456.1L589.2 456.7L589.4 456.0L589.6 457.0L589.8 457.0L589.9 458.0L590.1 458.9L590.3 459.0L590.5 458.8L590.7 459.8L590.9 459.3L591.1 460.0L591.3 460.1L591.5 460.2L591.6 460.1L591.8 461.4L592.0 460.7L592.2 460.7L592.4 461.3L592.6 462.2L592.8 463.3L593.0 464.1L593.2 463.9L593.4 464.2L593.5 464.9L593.7 465.2L593.9 463.9L594.1 463.8L594.3 463.9L594.5 462.9L594.7 462.4L594.9 462.3L595.1 462.4L595.2 463.1L595.4 463.4L595.6 463.2L595.8 462.9L596.0 462.4L596.2 461.8L596.4 461.4L596.6 461.0L596.8 461.4L597.0 462.2L597.1 462.1L597.3 462.1L597.5 462.0L597.7 461.7L597.9 461.9L598.1 462.0L598.3 461.5L598.5 460.9L598.7 460.8L598.8 460.1L599.0 459.8L599.2 460.0L599.4 459.6L599.6 458.5L599.8 459.0L600.0 458.4L600.2 457.9L600.4 457.3L600.5 458.1L600.7 457.3L600.9 457.7L601.1 458.2L601.3 458.6L601.5 458.6L601.7 458.9L601.9 459.2L602.1 458.8L602.3 459.5L602.4 460.3L602.6 460.0L602.8 459.8L603.0 459.5L603.2 460.4L603.4 460.0L603.6 460.1L603.8 459.4L604.0 460.5L604.1 460.6L604.3 461.1L604.5 462.1L604.7 462.6L604.9 462.0L605.1 462.4L605.3 462.9L605.5 462.5L605.7 462.2L605.9 461.9L606.0 462.6L606.2 462.9L606.4 462.6L606.6 463.2L606.8 463.8L607.0 463.5L607.2 462.9L607.4 463.9L607.6 465.5L607.7 466.2L607.9 466.7M608.1 466.6L608.3 466.2L608.5 466.3L608.7 466.7M609.6 466.0L609.8 465.8L610.0 466.5M612.3 466.7L612.5 465.6L612.7 465.6L612.9 464.6L613.0 464.2L613.2 464.0L613.4 464.8L613.6 465.0L613.8 464.1L614.0 463.0L614.2 462.7L614.4 462.0L614.6 462.1L614.8 462.0L614.9 462.1L615.1 461.3L615.3 460.9L615.5 460.9L615.7 461.3L615.9 461.3L616.1 461.4L616.3 462.2L616.5 461.6L616.6 461.8L616.8 462.2L617.0 461.8L617.2 461.7L617.4 462.3L617.6 462.5L617.8 463.6L618.0 464.3L618.2 465.8L618.4 465.3L618.5 466.5L618.7 466.3L618.9 466.9M619.7 466.7L619.9 465.6L620.1 465.3L620.2 464.8L620.4 465.2L620.6 464.8L620.8 464.7L621.0 464.9L621.2 464.9L621.4 464.9L621.6 464.7L621.8 464.4L621.9 464.6L622.1 464.9L622.3 464.4L622.5 465.2L622.7 465.2L622.9 464.3L623.1 465.8L623.3 466.0L623.5 465.4L623.7 466.2L623.8 464.6L624.0 466.0L624.2 465.1L624.4 464.2L624.6 463.9L624.8 464.2L625.0 464.1L625.2 464.7L625.4 464.4L625.5 465.1L625.7 465.2L625.9 464.7L626.1 465.4L626.3 465.6L626.5 465.5L626.7 466.2L626.9 465.5L627.1 465.3L627.3 466.1L627.4 466.1L627.6 466.4L627.8 466.7L628.0 466.5M628.2 466.8L628.4 466.1L628.6 466.4L628.8 465.8L629.0 465.9L629.1 465.4L629.3 465.8L629.5 466.1L629.7 466.7L629.9 466.3L630.1 465.8L630.3 464.7L630.5 464.2L630.7 464.4L630.8 464.8L631.0 464.8L631.2 465.0L631.4 464.5L631.6 464.3L631.8 465.0L632.0 465.6L632.2 465.0L632.4 465.1L632.6 465.5L632.7 465.0L632.9 465.5L633.1 465.8L633.3 466.2M636.3 466.7L636.5 466.5L636.7 466.6M671.8 466.6L671.9 466.5L672.1 466.1L672.3 466.1L672.5 466.7M672.7 466.9L672.9 466.1L673.1 465.6L673.3 464.5L673.5 464.3L673.6 463.7L673.8 462.9L674.0 462.3L674.2 462.6L674.4 462.6L674.6 462.4L674.8 462.8L675.0 462.2L675.2 461.4L675.4 461.5L675.5 460.2L675.7 460.3L675.9 460.3L676.1 460.2L676.3 460.3L676.5 459.8L676.7 459.5L676.9 458.4L677.1 457.9L677.2 457.5L677.4 457.5L677.6 458.1L677.8 457.8L678.0 458.0L678.2 457.1L678.4 456.8L678.6 455.6L678.8 455.0L679.0 454.5L679.1 454.2L679.3 455.1L679.5 455.8L679.7 456.3L679.9 457.7L680.1 458.4L680.3 457.2L680.5 457.6L680.7 458.0L680.8 458.7L681.0 459.6L681.2 459.0L681.4 459.0L681.6 459.0L681.8 458.1L682.0 457.1L682.2 457.9L682.4 457.7L682.5 457.6L682.7 457.8L682.9 457.8L683.1 458.1L683.3 457.6L683.5 457.6L683.7 457.7L683.9 457.4L684.1 457.3L684.3 457.5L684.4 457.7L684.6 457.1L684.8 457.2L685.0 457.7L685.2 458.5L685.4 458.9L685.6 459.6L685.8 459.6L686.0 459.6L686.1 460.8L686.3 460.7L686.5 460.3L686.7 460.2L686.9 460.8L687.1 460.1L687.3 460.5L687.5 461.2L687.7 461.7L687.9 461.5L688.0 460.9L688.2 460.2L688.4 460.2L688.6 461.0L688.8 461.3L689.0 461.7L689.2 461.7L689.4 462.5L689.6 462.3L689.7 461.8L689.9 461.8L690.1 461.4L690.3 461.9L690.5 462.6L690.7 462.7L690.9 461.9L691.1 461.3L691.3 461.6L691.4 460.9L691.6 461.2L691.8 460.5L692.0 460.5L692.2 461.0L692.4 460.7L692.6 461.4L692.8 462.0L693.0 462.9L693.2 462.7L693.3 462.8L693.5 462.8L693.7 463.1L693.9 462.3L694.1 462.7L694.3 463.1L694.5 462.5L694.7 461.9L694.9 462.0L695.0 463.2L695.2 463.6L695.4 463.3L695.6 463.4L695.8 462.7L696.0 463.6L696.2 463.4L696.4 463.9L696.6 463.3L696.8 463.5L696.9 463.1L697.1 463.7L697.3 464.7L697.5 465.3L697.7 465.4L697.9 465.7L698.1 464.8L698.3 463.9L698.5 463.7L698.6 464.3L698.8 464.2L699.0 464.4L699.2 463.5L699.4 463.3L699.6 463.0L699.8 463.2L700.0 464.3L700.2 464.5L700.4 464.8L700.5 464.3L700.7 464.0L700.9 464.3L701.1 464.2L701.3 463.1L701.5 463.5L701.7 463.8L701.9 463.7L702.1 463.9L702.2 463.8L702.4 463.4L702.6 462.4L702.8 463.4L703.0 463.3L703.2 463.3L703.4 463.3L703.6 463.4L703.8 463.6L703.9 463.1L704.1 463.5L704.3 463.7L704.5 463.7L704.7 463.8L704.9 464.0L705.1 463.5L705.3 463.7L705.5 463.8L705.7 464.0L705.8 464.7L706.0 465.2L706.2 465.8L706.4 465.6L706.6 466.0L706.8 466.5L707.0 466.3L707.2 466.0L707.4 466.9L707.5 465.9L707.7 466.0L707.9 466.1L708.1 465.6L708.3 465.8L708.5 466.2L708.7 465.2L708.9 466.1L709.1 466.3L709.3 466.0L709.4 466.8M709.8 467.0L710.0 465.9L710.2 466.7M714.4 466.8L714.6 466.2L714.7 466.1L714.9 466.1L715.1 466.3L715.3 466.2L715.5 466.7L715.7 466.2L715.9 466.5L716.1 466.1L716.3 465.9L716.4 465.2L716.6 465.2L716.8 464.6L717.0 465.1L717.2 464.7L717.4 464.8L717.6 464.6L717.8 464.5L718.0 464.0L718.2 465.0L718.3 464.6L718.5 465.3L718.7 464.3L718.9 465.2L719.1 465.4L719.3 465.9L719.5 464.6L719.7 465.0L719.9 464.5L720.0 464.5L720.2 465.1L720.4 464.8L720.6 464.0L720.8 463.7L721.0 462.9L721.2 462.9L721.4 462.6L721.6 462.6L721.8 462.1L721.9 460.9L722.1 460.7L722.3 460.5L722.5 460.8L722.7 461.1L722.9 460.1L723.1 460.7L723.3 461.4L723.5 461.5L723.6 461.9L723.8 461.0L724.0 462.5L724.2 462.4L724.4 462.1L724.6 462.9L724.8 463.4L725.0 463.2L725.2 462.5L725.3 463.2L725.5 464.3L725.7 463.8L725.9 463.2L726.1 463.6L726.3 465.1L726.5 465.1L726.7 466.1L726.9 466.3M736.9 466.4L737.1 466.5L737.3 466.0L737.5 466.0L737.7 465.5L737.8 465.1L738.0 465.6L738.2 465.4L738.4 465.3L738.6 465.3L738.8 464.8L739.0 463.9L739.2 464.2L739.4 464.5L739.6 465.8L739.7 465.7L739.9 465.8L740.1 466.8L740.3 466.4L740.5 465.8L740.7 466.1L740.9 466.1L741.1 466.4L741.3 465.8L741.4 466.5L741.6 466.4L741.8 465.1L742.0 465.1L742.2 464.8L742.4 464.9L742.6 465.5L742.8 465.4L743.0 465.1L743.1 465.6L743.3 465.3L743.5 464.6L743.7 464.1L743.9 465.2L744.1 465.9L744.3 466.8L744.5 466.1L744.7 465.9L744.9 465.6L745.0 466.3M755.8 466.0L756.0 466.4M784.6 467.0L784.8 465.7L785.0 464.4L785.2 464.7L785.4 464.8L785.6 463.5L785.8 463.9L785.9 463.8L786.1 463.3L786.3 463.8L786.5 464.6L786.7 466.2L786.9 466.1L787.1 466.6L787.3 466.4L787.5 466.4M787.8 466.3L788.0 466.0L788.2 465.8L788.4 466.8M792.2 466.6L792.4 466.6L792.6 465.8L792.8 465.7L793.0 466.1L793.1 465.3L793.3 465.2L793.5 464.5L793.7 463.8L793.9 462.8L794.1 462.7L794.3 463.5L794.5 464.1L794.7 465.2L794.8 464.7L795.0 464.9L795.2 464.7L795.4 465.5L795.6 466.7L795.8 465.8L796.0 465.9L796.2 465.9L796.4 465.9L796.6 465.7L796.7 465.5L796.9 466.5L797.1 465.9L797.3 466.3L797.5 466.6L797.7 465.7L797.9 465.4L798.1 465.8L798.3 467.0M801.1 466.5L801.3 466.6L801.5 466.4" stroke="#e5403a" stroke-width="1.8" fill="none" stroke-linejoin="round"/><path d="M144.7 466.9L144.9 467.9L145.1 467.7L145.3 467.6L145.5 468.1L145.7 469.4L145.9 469.8L146.0 470.4L146.2 470.2L146.4 469.7L146.6 470.5L146.8 471.7L147.0 473.2L147.2 473.9L147.4 474.7L147.6 476.1L147.7 476.6L147.9 477.9L148.1 477.9L148.3 478.1L148.5 478.3L148.7 479.5L148.9 480.1L149.1 480.4L149.3 481.0L149.5 481.4L149.6 482.3L149.8 483.2L150.0 482.8L150.2 483.1L150.4 483.1L150.6 482.7L150.8 483.9L151.0 484.4L151.2 484.4L151.3 484.3L151.5 484.7L151.7 484.3L151.9 484.4L152.1 485.3L152.3 486.0L152.5 485.1L152.7 484.6L152.9 485.4L153.1 484.2L153.2 483.7L153.4 482.7L153.6 482.8L153.8 482.8L154.0 483.2L154.2 481.6L154.4 481.6L154.6 480.6L154.8 481.1L154.9 481.1L155.1 482.0L155.3 482.1L155.5 481.5L155.7 482.1L155.9 481.4L156.1 481.1L156.3 481.6L156.5 481.8L156.6 481.9L156.8 481.7L157.0 481.8L157.2 482.0L157.4 482.0L157.6 482.2L157.8 482.6L158.0 482.3L158.2 481.5L158.4 482.0L158.5 481.7L158.7 481.2L158.9 480.8L159.1 479.4L159.3 478.8L159.5 477.1L159.7 476.8L159.9 475.9L160.1 475.2L160.2 474.9L160.4 473.8L160.6 473.1L160.8 472.1L161.0 471.4L161.2 471.3L161.4 470.5L161.6 469.7L161.8 468.5L162.0 468.3L162.1 467.5L162.3 468.7L162.5 468.4L162.7 469.2L162.9 470.2L163.1 470.3L163.3 469.7L163.5 470.6L163.7 471.2L163.8 471.6L164.0 472.2L164.2 471.9L164.4 472.3L164.6 472.6L164.8 472.3L165.0 472.7L165.2 472.5L165.4 473.1L165.5 473.8L165.7 474.7L165.9 473.6L166.1 473.9L166.3 473.8L166.5 473.9L166.7 474.0L166.9 474.1L167.1 473.3L167.3 474.2L167.4 475.2L167.6 475.9L167.8 476.6L168.0 476.2L168.2 475.9L168.4 476.5L168.6 477.4L168.8 477.6L169.0 476.8L169.1 478.5L169.3 478.2L169.5 478.8L169.7 478.2L169.9 478.9L170.1 479.1L170.3 479.8L170.5 480.1L170.7 479.2L170.9 478.7L171.0 479.0L171.2 479.5L171.4 480.4L171.6 480.5L171.8 480.3L172.0 480.3L172.2 480.2L172.4 480.8L172.6 480.7L172.7 480.6L172.9 479.9L173.1 478.9L173.3 479.1L173.5 479.7L173.7 479.8L173.9 480.2L174.1 480.6L174.3 480.6L174.5 481.2L174.6 480.7L174.8 480.8L175.0 480.6L175.2 480.8L175.4 481.2L175.6 481.6L175.8 481.7L176.0 481.9L176.2 481.6L176.3 481.6L176.5 482.2L176.7 482.1L176.9 482.7L177.1 482.8L177.3 482.8L177.5 483.7L177.7 483.4L177.9 483.0L178.0 482.9L178.2 483.0L178.4 483.1L178.6 483.4L178.8 483.4L179.0 483.5L179.2 483.2L179.4 483.7L179.6 483.4L179.8 483.2L179.9 483.2L180.1 483.3L180.3 482.9L180.5 483.8L180.7 483.4L180.9 483.2L181.1 483.0L181.3 482.8L181.5 483.2L181.6 483.3L181.8 483.0L182.0 482.8L182.2 482.8L182.4 483.7L182.6 483.4L182.8 482.8L183.0 482.4L183.2 482.5L183.4 483.5L183.5 483.0L183.7 483.3L183.9 484.7L184.1 484.4L184.3 485.2L184.5 485.7L184.7 485.8L184.9 484.9L185.1 485.0L185.2 484.7L185.4 483.8L185.6 483.0L185.8 483.3L186.0 483.6L186.2 484.4L186.4 484.8L186.6 484.5L186.8 484.3L186.9 484.3L187.1 483.9L187.3 484.4L187.5 484.5L187.7 484.2L187.9 484.0L188.1 483.6L188.3 483.6L188.5 484.0L188.7 484.0L188.8 484.7L189.0 485.6L189.2 485.3L189.4 485.3L189.6 485.1L189.8 486.1L190.0 486.2L190.2 486.4L190.4 486.7L190.5 487.6L190.7 487.4L190.9 486.5L191.1 486.1L191.3 486.2L191.5 486.0L191.7 485.3L191.9 486.7L192.1 486.4L192.3 485.8L192.4 485.2L192.6 484.2L192.8 483.6L193.0 483.5L193.2 483.5L193.4 483.1L193.6 483.5L193.8 483.6L194.0 483.2L194.1 482.2L194.3 482.6L194.5 482.8L194.7 482.8L194.9 482.2L195.1 482.4L195.3 481.8L195.5 482.6L195.7 482.8L195.8 483.0L196.0 482.6L196.2 482.0L196.4 482.8L196.6 483.2L196.8 482.8L197.0 483.0L197.2 483.6L197.4 482.7L197.6 482.2L197.7 481.7L197.9 481.8L198.1 481.0L198.3 481.0L198.5 480.2L198.7 480.6L198.9 480.8L199.1 480.5L199.3 480.6L199.4 479.9L199.6 479.5L199.8 479.8L200.0 479.4L200.2 479.3L200.4 478.5L200.6 478.6L200.8 478.5L201.0 477.6L201.2 476.1L201.3 475.0L201.5 475.1L201.7 475.0L201.9 474.2L202.1 474.4L202.3 474.9L202.5 474.7L202.7 474.4L202.9 474.7L203.0 475.4L203.2 475.8L203.4 475.1L203.6 475.1L203.8 474.8L204.0 474.3L204.2 473.6L204.4 473.5L204.6 472.9L204.8 473.1L204.9 475.0L205.1 477.3L205.3 478.3L205.5 480.0L205.7 480.2L205.9 480.2L206.1 480.0L206.3 479.3L206.5 480.0L206.6 480.2L206.8 480.0L207.0 478.3L207.2 477.7L207.4 477.6L207.6 477.2L207.8 476.0L208.0 476.3L208.2 476.6L208.3 476.0L208.5 475.9L208.7 475.7L208.9 476.1L209.1 475.2L209.3 474.5L209.5 474.4L209.7 474.4L209.9 475.7L210.1 475.4L210.2 475.6L210.4 475.5L210.6 475.2L210.8 475.4L211.0 476.4L211.2 476.0L211.4 476.3L211.6 476.4L211.8 476.5L211.9 476.4L212.1 477.4L212.3 476.4L212.5 476.0L212.7 475.2L212.9 474.0L213.1 474.1L213.3 475.0L213.5 475.4L213.7 476.0L213.8 476.1L214.0 476.0L214.2 476.9L214.4 476.5L214.6 477.2L214.8 476.8L215.0 476.7L215.2 476.7L215.4 476.6L215.5 476.8L215.7 477.0L215.9 477.7L216.1 477.5L216.3 476.3L216.5 475.3L216.7 474.7L216.9 474.6L217.1 475.2L217.2 474.6L217.4 474.9L217.6 475.2L217.8 475.5L218.0 475.6L218.2 476.0L218.4 476.1L218.6 476.7L218.8 476.9L219.0 475.7L219.1 475.9L219.3 476.1L219.5 476.0L219.7 475.7L219.9 476.5L220.1 476.7L220.3 476.2L220.5 476.2L220.7 476.3L220.8 475.6L221.0 476.2L221.2 476.3L221.4 476.7L221.6 476.0L221.8 477.2L222.0 477.6L222.2 477.7L222.4 477.1L222.6 476.6L222.7 475.7L222.9 476.6L223.1 476.0L223.3 476.1L223.5 476.3L223.7 475.9L223.9 476.2L224.1 477.1L224.3 477.0L224.4 477.4L224.6 477.3L224.8 476.8L225.0 476.3L225.2 475.4L225.4 475.5L225.6 476.4L225.8 476.7L226.0 477.1L226.2 477.6L226.3 477.1L226.5 477.3L226.7 478.2L226.9 477.5L227.1 477.4L227.3 477.1L227.5 476.9L227.7 476.5L227.9 476.5L228.0 475.9L228.2 475.8L228.4 475.8L228.6 475.7L228.8 476.7L229.0 476.8L229.2 477.0L229.4 476.9L229.6 477.7L229.7 476.8L229.9 476.8L230.1 477.5L230.3 478.4L230.5 478.5L230.7 478.4L230.9 478.7L231.1 478.3L231.3 478.3L231.5 477.7L231.6 477.9L231.8 477.6L232.0 476.8L232.2 475.3L232.4 475.9L232.6 476.0L232.8 476.4L233.0 475.8L233.2 476.3L233.3 476.3L233.5 476.1L233.7 476.4L233.9 476.6L234.1 476.5L234.3 477.3L234.5 477.6L234.7 477.3L234.9 476.7L235.1 476.3L235.2 476.9L235.4 476.6L235.6 475.7L235.8 475.0L236.0 474.8L236.2 475.0L236.4 474.3L236.6 474.4L236.8 474.7L236.9 474.7L237.1 473.4L237.3 473.0L237.5 472.0L237.7 472.1L237.9 471.3L238.1 471.5L238.3 471.3L238.5 469.7L238.6 469.3L238.8 469.5L239.0 469.5L239.2 469.2L239.4 468.4L239.6 468.6L239.8 469.4L240.0 469.3L240.2 469.0L240.4 468.7L240.5 467.7L240.7 467.4L240.9 466.8L241.1 467.3L241.3 466.6M267.4 466.4L267.6 467.3L267.8 466.7L268.0 466.7L268.2 466.7M268.9 466.8L269.1 466.9L269.3 467.4L269.5 467.2M281.4 466.4L281.6 466.8L281.8 466.8L282.0 466.7L282.2 467.2L282.4 467.6L282.6 467.2L282.8 466.7L283.0 466.7M369.3 467.1L369.5 467.8L369.7 469.1L369.9 470.0L370.1 469.8L370.3 471.2L370.5 472.5L370.6 472.4L370.8 473.1L371.0 473.1L371.2 473.9L371.4 475.3L371.6 476.2L371.8 474.9L372.0 473.9L372.2 473.4L372.3 472.8L372.5 472.3L372.7 472.1L372.9 470.4L373.1 469.9L373.3 470.0L373.5 469.7L373.7 468.6L373.9 468.7L374.1 469.3L374.2 470.1L374.4 470.5L374.6 471.8L374.8 472.8L375.0 472.5L375.2 473.1L375.4 473.1L375.6 472.8L375.8 472.8L375.9 472.8L376.1 471.6L376.3 471.4L376.5 471.8L376.7 471.4L376.9 471.3L377.1 471.9L377.3 471.9L377.5 472.0L377.7 473.1L377.8 473.0L378.0 472.9L378.2 473.0L378.4 473.6L378.6 473.5L378.8 473.2L379.0 472.8L379.2 473.2L379.4 472.5L379.5 473.0L379.7 472.8L379.9 471.8L380.1 472.0L380.3 472.0L380.5 471.4L380.7 471.6L380.9 471.8L381.1 471.7L381.3 471.2L381.4 472.5L381.6 472.9L381.8 473.3L382.0 473.7L382.2 474.0L382.4 474.2L382.6 473.7L382.8 474.0L383.0 473.7L383.1 473.4L383.3 473.6L383.5 473.4L383.7 472.5L383.9 472.3L384.1 472.8L384.3 472.8L384.5 473.4L384.7 473.2L384.8 472.7L385.0 473.3L385.2 473.4L385.4 472.8L385.6 473.2L385.8 473.1L386.0 473.7L386.2 474.2L386.4 474.5L386.6 473.4L386.7 473.8L386.9 474.3L387.1 474.7L387.3 474.9L387.5 474.7L387.7 474.7L387.9 473.8L388.1 474.0L388.3 473.6L388.4 473.9L388.6 474.0L388.8 475.2L389.0 475.3L389.2 475.3L389.4 475.5L389.6 476.6L389.8 475.9L390.0 476.0L390.2 476.1L390.3 476.1L390.5 476.1L390.7 475.7L390.9 476.3L391.1 476.5L391.3 476.1L391.5 475.9L391.7 475.9L391.9 476.0L392.0 476.4L392.2 476.3L392.4 475.5L392.6 476.1L392.8 475.2L393.0 474.8L393.2 475.2L393.4 474.9L393.6 475.8L393.7 476.8L393.9 477.3L394.1 477.4L394.3 477.3L394.5 477.4L394.7 477.2L394.9 478.2L395.1 477.7L395.3 478.2L395.5 478.3L395.6 478.3L395.8 478.6L396.0 479.1L396.2 479.3L396.4 478.9L396.6 478.3L396.8 477.8L397.0 478.2L397.2 478.4L397.3 478.7L397.5 478.3L397.7 479.2L397.9 478.1L398.1 478.1L398.3 478.3L398.5 477.8L398.7 477.0L398.9 476.7L399.1 476.1L399.2 476.0L399.4 475.4L399.6 474.8L399.8 475.0L400.0 474.4L400.2 474.5L400.4 474.6L400.6 475.3L400.8 475.5L400.9 475.1L401.1 475.8L401.3 475.4L401.5 475.2L401.7 475.1L401.9 476.3L402.1 476.2L402.3 475.7L402.5 476.0L402.6 475.8L402.8 476.9L403.0 476.3L403.2 476.4L403.4 475.7L403.6 476.3L403.8 475.4L404.0 475.2L404.2 474.3L404.4 474.5L404.5 474.4L404.7 472.8L404.9 473.1L405.1 473.1L405.3 472.9L405.5 473.1L405.7 472.5L405.9 471.6L406.1 472.2L406.2 473.3L406.4 472.7L406.6 472.2L406.8 472.0L407.0 471.7L407.2 472.5L407.4 472.8L407.6 473.7L407.8 474.5L408.0 474.0L408.1 474.4L408.3 473.3L408.5 473.4L408.7 474.0L408.9 473.7L409.1 473.0L409.3 473.1L409.5 474.2L409.7 474.4L409.8 474.0L410.0 474.7L410.2 475.5L410.4 475.3L410.6 475.6L410.8 476.6L411.0 477.1L411.2 477.7L411.4 477.8L411.6 477.9L411.7 477.6L411.9 477.5L412.1 478.7L412.3 478.8L412.5 478.6L412.7 478.7L412.9 478.5L413.1 479.2L413.3 480.1L413.4 479.9L413.6 480.8L413.8 481.7L414.0 480.8L414.2 480.9L414.4 480.8L414.6 481.2L414.8 481.5L415.0 481.6L415.1 481.2L415.3 480.7L415.5 481.7L415.7 480.9L415.9 481.3L416.1 481.5L416.3 480.8L416.5 480.6L416.7 481.2L416.9 479.9L417.0 480.3L417.2 480.0L417.4 479.8L417.6 478.9L417.8 479.2L418.0 478.7L418.2 479.2L418.4 478.6L418.6 479.1L418.7 479.3L418.9 478.3L419.1 478.3L419.3 478.3L419.5 477.3L419.7 477.4L419.9 478.1L420.1 477.9L420.3 478.7L420.5 478.2L420.6 477.7L420.8 478.3L421.0 478.5L421.2 478.2L421.4 478.0L421.6 478.3L421.8 477.7L422.0 478.5L422.2 478.3L422.3 478.1L422.5 477.9L422.7 477.3L422.9 477.5L423.1 476.8L423.3 476.5L423.5 476.4L423.7 476.7L423.9 476.8L424.0 476.1L424.2 476.1L424.4 475.5L424.6 474.5L424.8 473.6L425.0 472.5L425.2 472.5L425.4 472.9L425.6 472.0L425.8 471.7L425.9 470.9L426.1 470.7L426.3 470.0L426.5 469.5L426.7 469.1L426.9 468.8L427.1 468.6L427.3 468.4L427.5 469.3L427.6 469.7L427.8 470.9L428.0 470.9L428.2 472.0L428.4 472.4L428.6 473.4L428.8 473.6L429.0 472.5L429.2 472.8L429.4 473.5L429.5 473.8L429.7 473.9L429.9 472.5L430.1 472.4L430.3 471.9L430.5 472.4L430.7 472.2L430.9 471.7L431.1 470.8L431.2 471.2L431.4 470.9L431.6 470.7L431.8 471.3L432.0 471.2L432.2 471.2L432.4 472.3L432.6 471.6L432.8 471.0L433.0 470.9L433.1 471.3L433.3 470.2L433.5 469.8L433.7 469.0L433.9 468.1L434.1 468.3L434.3 467.8L434.5 467.9L434.7 467.8L434.8 467.7L435.0 467.5L435.2 467.0L435.4 467.2L435.6 467.4L435.8 467.7L436.0 467.7L436.2 468.3L436.4 468.6L436.5 468.6L436.7 469.0L436.9 469.0L437.1 469.3L437.3 468.2L437.5 467.6L437.7 467.6L437.9 467.8L438.1 466.8L438.3 467.0L438.4 467.5L438.6 467.8L438.8 468.0L439.0 467.7L439.2 468.2L439.4 467.5L439.6 468.5L439.8 468.6L440.0 469.6L440.1 469.0L440.3 469.6L440.5 470.0L440.7 469.9L440.9 469.6L441.1 470.5L441.3 470.8L441.5 471.7L441.7 471.6L441.9 471.7L442.0 471.8L442.2 472.2L442.4 472.3L442.6 472.6L442.8 472.2L443.0 471.3L443.2 472.4L443.4 472.3L443.6 472.5L443.7 472.1L443.9 472.6L444.1 472.5L444.3 472.8L444.5 472.2L444.7 471.9L444.9 471.8L445.1 471.5L445.3 471.4L445.4 472.1L445.6 471.5L445.8 471.2L446.0 471.1L446.2 470.4L446.4 469.7L446.6 470.3L446.8 470.6L447.0 469.6L447.2 468.9L447.3 469.3L447.5 470.0L447.7 470.2L447.9 470.3L448.1 470.9L448.3 470.6L448.5 471.0L448.7 471.3L448.9 470.4L449.0 470.5L449.2 470.2L449.4 469.6L449.6 469.0L449.8 469.1L450.0 469.1L450.2 469.5L450.4 468.5L450.6 468.3L450.8 469.0L450.9 469.0L451.1 468.6L451.3 468.5L451.5 467.6L451.7 467.1L451.9 467.8L452.1 468.0L452.3 468.9L452.5 468.9L452.6 468.9L452.8 467.5L453.0 467.8L453.2 469.1L453.4 469.5L453.6 469.5L453.8 470.2L454.0 470.5L454.2 470.6L454.3 470.3L454.5 470.3L454.7 470.7L454.9 470.1L455.1 470.4L455.3 470.5L455.5 471.2L455.7 471.3L455.9 470.7L456.1 471.3L456.2 471.0L456.4 470.4L456.6 470.4L456.8 470.1L457.0 470.5L457.2 469.6L457.4 468.9L457.6 468.8L457.8 469.7L457.9 470.1L458.1 469.4L458.3 468.4L458.5 468.3L458.7 467.7L458.9 468.1L459.1 468.3L459.3 468.3L459.5 468.1L459.7 469.0L459.8 468.4L460.0 467.6L460.2 468.3L460.4 469.0L460.6 468.7L460.8 469.0L461.0 470.1L461.2 469.3L461.4 469.0L461.5 469.0L461.7 467.6L461.9 467.5L462.1 467.9L462.3 467.7L462.5 468.1L462.7 468.3L462.9 467.9L463.1 468.0L463.3 468.0L463.4 466.9L463.6 466.3M478.0 466.2L478.2 468.0L478.4 468.1L478.6 468.9L478.8 468.4L479.0 467.0L479.2 467.5L479.3 467.5L479.5 467.8L479.7 467.7L479.9 467.4L480.1 466.9L480.3 467.6L480.5 466.9L480.7 467.7L480.9 467.6L481.1 467.2L481.2 467.0L481.4 467.8L481.6 468.3L481.8 468.6L482.0 468.6L482.2 468.1L482.4 468.9L482.6 468.7L482.8 468.5L482.9 468.3L483.1 468.2L483.3 467.6L483.5 467.7L483.7 467.5L483.9 467.6L484.1 467.0L484.3 468.4L484.5 468.0L484.7 468.5L484.8 468.8L485.0 469.6L485.2 470.6L485.4 470.8L485.6 471.1L485.8 470.7L486.0 471.5L486.2 470.6L486.4 470.5L486.5 470.6L486.7 471.0L486.9 471.4L487.1 471.9L487.3 472.1L487.5 471.9L487.7 471.9L487.9 472.5L488.1 472.5L488.2 472.8L488.4 472.5L488.6 471.3L488.8 471.0L489.0 471.3L489.2 472.2L489.4 472.9L489.6 473.6L489.8 473.0L490.0 473.2L490.1 473.0L490.3 473.1L490.5 472.8L490.7 471.9L490.9 472.2L491.1 472.3L491.3 472.6L491.5 472.0L491.7 472.5L491.8 473.0L492.0 473.5L492.2 474.0L492.4 473.4L492.6 471.8L492.8 472.3L493.0 471.7L493.2 471.5L493.4 472.1L493.6 472.2L493.7 472.2L493.9 472.5L494.1 471.4L494.3 472.4L494.5 472.1L494.7 471.9L494.9 472.1L495.1 472.0L495.3 471.5L495.4 471.4L495.6 471.2L495.8 470.9L496.0 472.1L496.2 471.4L496.4 470.3L496.6 470.1L496.8 469.9L497.0 471.1L497.1 471.4L497.3 472.0L497.5 472.5L497.7 472.1L497.9 472.6L498.1 472.8L498.3 473.9L498.5 473.9L498.7 473.8L498.9 474.1L499.0 474.4L499.2 473.3L499.4 474.0L499.6 474.6L499.8 474.9L500.0 474.2L500.2 473.1L500.4 473.1L500.6 473.7L500.7 474.0L500.9 473.5L501.1 474.2L501.3 473.5L501.5 473.0L501.7 473.2L501.9 473.0L502.1 472.7L502.3 472.1L502.5 472.9L502.6 472.4L502.8 472.8L503.0 473.3L503.2 473.3L503.4 473.4L503.6 473.9L503.8 474.7L504.0 475.0L504.2 473.9L504.3 472.8L504.5 472.5L504.7 471.9L504.9 472.3L505.1 472.5L505.3 472.4L505.5 473.0L505.7 473.5L505.9 473.3L506.0 473.3L506.2 473.8L506.4 473.3L506.6 473.3L506.8 472.6L507.0 472.6L507.2 472.7L507.4 472.5L507.6 472.6L507.8 472.5L507.9 472.1L508.1 471.2L508.3 470.4L508.5 471.0L508.7 473.4L508.9 474.9L509.1 476.3L509.3 477.5L509.5 479.0L509.6 479.1L509.8 478.5L510.0 478.3L510.2 478.8L510.4 478.0L510.6 477.4L510.8 477.7L511.0 477.2L511.2 477.7L511.4 477.0L511.5 477.2L511.7 477.6L511.9 477.7L512.1 478.0L512.3 477.8L512.5 477.5L512.7 477.4L512.9 477.6L513.1 479.4L513.2 478.9L513.4 479.6L513.6 479.0L513.8 478.1L514.0 477.7L514.2 477.8L514.4 477.7L514.6 477.6L514.8 477.8L515.0 477.9L515.1 478.2L515.3 477.3L515.5 477.2L515.7 476.6L515.9 476.7L516.1 476.6L516.3 476.6L516.5 476.4L516.7 475.9L516.8 475.8L517.0 476.3L517.2 476.7L517.4 475.7L517.6 475.9L517.8 476.1L518.0 475.3L518.2 474.9L518.4 474.8L518.5 475.2L518.7 474.0L518.9 474.5L519.1 474.8L519.3 475.6L519.5 476.9L519.7 478.0L519.9 478.1L520.1 478.3L520.3 478.8L520.4 479.7L520.6 480.8L520.8 481.1L521.0 482.0L521.2 481.6L521.4 481.2L521.6 480.0L521.8 480.0L522.0 480.9L522.1 481.9L522.3 484.1L522.5 484.5L522.7 484.7L522.9 484.3L523.1 484.2L523.3 484.2L523.5 483.8L523.7 483.3L523.9 482.3L524.0 482.8L524.2 482.8L524.4 483.3L524.6 482.1L524.8 481.4L525.0 481.1L525.2 481.9L525.4 481.8L525.6 481.9L525.7 481.9L525.9 482.0L526.1 481.7L526.3 481.9L526.5 481.4L526.7 481.3L526.9 481.5L527.1 481.6L527.3 481.8L527.4 481.3L527.6 481.5L527.8 481.3L528.0 481.6L528.2 482.4L528.4 481.8L528.6 482.3L528.8 481.8L529.0 481.6L529.2 482.4L529.3 482.8L529.5 482.9L529.7 483.1L529.9 483.5L530.1 482.8L530.3 482.7L530.5 482.0L530.7 481.9L530.9 481.3L531.0 481.3L531.2 480.9L531.4 480.2L531.6 479.8L531.8 479.7L532.0 479.9L532.2 479.4L532.4 478.8L532.6 478.6L532.8 478.6L532.9 477.9L533.1 476.3L533.3 476.3L533.5 475.9L533.7 475.5L533.9 476.7L534.1 476.3L534.3 476.3L534.5 475.1L534.6 475.0L534.8 475.1L535.0 475.4L535.2 475.5L535.4 476.0L535.6 476.2L535.8 477.2L536.0 477.4L536.2 477.1L536.4 475.8L536.5 475.3L536.7 475.1L536.9 474.4L537.1 473.8L537.3 473.0L537.5 472.6L537.7 472.9L537.9 472.8L538.1 472.8L538.2 472.7L538.4 473.2L538.6 474.2L538.8 475.8L539.0 476.4L539.2 477.7L539.4 477.7L539.6 477.8L539.8 478.9L539.9 478.6L540.1 478.3L540.3 478.4L540.5 477.8L540.7 477.2L540.9 478.4L541.1 478.3L541.3 478.5L541.5 478.8L541.7 478.8L541.8 479.8L542.0 480.7L542.2 481.7L542.4 482.6L542.6 483.0L542.8 484.2L543.0 485.0L543.2 484.8L543.4 485.1L543.5 485.1L543.7 486.3L543.9 486.8L544.1 487.2L544.3 487.3L544.5 487.7L544.7 487.3L544.9 486.8L545.1 486.2L545.3 485.6L545.4 484.7L545.6 484.5L545.8 483.4L546.0 482.8L546.2 482.3L546.4 481.9L546.6 481.2L546.8 480.3L547.0 479.5L547.1 479.1L547.3 478.4L547.5 478.1L547.7 477.2L547.9 477.2L548.1 478.2L548.3 477.2L548.5 477.0L548.7 477.4L548.8 477.2L549.0 477.3L549.2 475.8L549.4 475.3L549.6 475.9L549.8 475.3L550.0 475.2L550.2 473.9L550.4 474.3L550.6 475.2L550.7 474.6L550.9 474.4L551.1 474.1L551.3 474.8L551.5 474.0L551.7 472.5L551.9 473.2L552.1 472.0L552.3 471.9L552.4 470.3L552.6 469.8L552.8 469.7L553.0 468.9L553.2 468.4L553.4 468.6L553.6 468.0L553.8 468.9L554.0 470.5L554.2 470.0L554.3 470.8L554.5 471.8L554.7 472.1L554.9 473.6L555.1 474.7L555.3 475.4L555.5 476.0L555.7 476.3L555.9 476.1L556.0 476.9L556.2 477.1L556.4 476.4L556.6 476.6L556.8 476.1L557.0 476.1L557.2 475.1L557.4 474.5L557.6 474.2L557.7 474.5L557.9 474.0L558.1 474.0L558.3 473.2L558.5 472.8L558.7 472.9L558.9 471.9L559.1 471.2L559.3 471.2L559.5 470.3L559.6 470.3L559.8 470.2L560.0 469.9L560.2 470.1L560.4 470.0L560.6 469.8L560.8 468.7L561.0 467.7L561.2 467.7L561.3 466.8L561.5 466.8L561.7 466.5M607.9 466.7L608.1 466.6M608.7 466.7L608.9 466.6L609.1 467.1L609.3 467.1L609.4 467.4L609.6 466.0M610.0 466.5L610.2 467.2L610.4 467.5L610.6 468.5L610.8 468.4L611.0 468.3L611.2 467.4L611.3 467.2L611.5 467.3L611.7 467.5L611.9 467.6L612.1 467.1L612.3 466.7M618.9 466.9L619.1 467.5L619.3 467.7L619.5 467.3L619.7 466.7M628.0 466.5L628.2 466.8M633.3 466.2L633.5 467.4L633.7 466.8L633.9 467.5L634.1 467.7L634.3 468.0L634.4 467.5L634.6 467.5L634.8 467.4L635.0 468.3L635.2 468.2L635.4 468.8L635.6 468.4L635.8 468.1L636.0 468.0L636.2 466.8L636.3 466.7M636.7 466.6L636.9 467.6L637.1 468.0L637.3 468.4L637.5 470.1L637.7 470.5L637.9 471.2L638.0 471.6L638.2 472.4L638.4 474.1L638.6 475.7L638.8 475.5L639.0 475.7L639.2 476.8L639.4 476.8L639.6 477.2L639.7 478.4L639.9 479.7L640.1 480.4L640.3 480.1L640.5 480.0L640.7 480.1L640.9 479.9L641.1 479.6L641.3 480.8L641.5 480.9L641.6 481.3L641.8 481.9L642.0 482.0L642.2 482.0L642.4 482.0L642.6 482.7L642.8 482.5L643.0 480.9L643.2 481.2L643.3 481.7L643.5 481.1L643.7 480.4L643.9 479.8L644.1 480.1L644.3 479.3L644.5 479.4L644.7 479.8L644.9 479.7L645.1 479.4L645.2 478.7L645.4 478.0L645.6 477.8L645.8 477.1L646.0 477.2L646.2 476.9L646.4 477.8L646.6 478.7L646.8 478.2L646.9 479.0L647.1 479.0L647.3 479.0L647.5 479.2L647.7 479.4L647.9 478.5L648.1 479.9L648.3 479.3L648.5 478.0L648.7 478.2L648.8 478.3L649.0 478.1L649.2 477.3L649.4 478.2L649.6 478.3L649.8 478.6L650.0 478.4L650.2 478.5L650.4 478.4L650.5 478.8L650.7 478.9L650.9 479.4L651.1 479.9L651.3 480.0L651.5 480.1L651.7 480.7L651.9 479.7L652.1 479.7L652.2 480.4L652.4 479.6L652.6 479.9L652.8 479.6L653.0 479.5L653.2 479.3L653.4 479.1L653.6 479.4L653.8 479.3L654.0 478.1L654.1 479.4L654.3 479.2L654.5 478.9L654.7 479.4L654.9 480.0L655.1 478.6L655.3 478.8L655.5 477.6L655.7 477.4L655.8 477.5L656.0 477.3L656.2 477.1L656.4 476.6L656.6 476.6L656.8 476.7L657.0 476.8L657.2 476.2L657.4 476.1L657.6 476.9L657.7 477.4L657.9 477.3L658.1 477.7L658.3 477.9L658.5 478.4L658.7 478.4L658.9 478.1L659.1 477.5L659.3 477.6L659.4 476.5L659.6 476.7L659.8 475.2L660.0 475.0L660.2 475.1L660.4 475.8L660.6 477.5L660.8 477.6L661.0 477.5L661.1 476.5L661.3 477.4L661.5 476.4L661.7 476.7L661.9 476.4L662.1 477.9L662.3 477.7L662.5 477.9L662.7 477.4L662.9 477.3L663.0 477.8L663.2 477.1L663.4 476.6L663.6 476.2L663.8 475.6L664.0 475.0L664.2 475.1L664.4 475.8L664.6 476.4L664.7 475.5L664.9 475.0L665.1 474.9L665.3 475.1L665.5 474.9L665.7 474.8L665.9 474.9L666.1 475.1L666.3 473.7L666.5 473.6L666.6 473.9L666.8 474.4L667.0 474.6L667.2 474.0L667.4 473.4L667.6 473.4L667.8 473.2L668.0 473.2L668.2 473.6L668.3 472.7L668.5 472.3L668.7 470.8L668.9 471.1L669.1 471.1L669.3 470.4L669.5 470.4L669.7 471.0L669.9 471.2L670.1 470.8L670.2 470.2L670.4 470.0L670.6 469.1L670.8 468.3L671.0 468.0L671.2 467.8L671.4 467.8L671.6 467.3L671.8 466.6M672.5 466.7L672.7 466.9M709.4 466.8L709.6 467.0L709.8 467.0M710.2 466.7L710.4 467.0L710.6 466.9L710.8 467.1L711.0 468.0L711.1 467.9L711.3 468.0L711.5 468.0L711.7 467.6L711.9 467.4L712.1 467.5L712.3 467.7L712.5 468.3L712.7 468.4L712.8 468.2L713.0 468.4L713.2 468.2L713.4 468.6L713.6 467.6L713.8 466.5L714.0 466.8L714.2 466.6L714.4 466.8M726.9 466.3L727.1 467.3L727.2 468.5L727.4 469.7L727.6 469.8L727.8 470.0L728.0 472.2L728.2 473.6L728.4 473.5L728.6 474.7L728.8 475.1L728.9 474.8L729.1 474.5L729.3 474.2L729.5 474.2L729.7 474.0L729.9 473.8L730.1 473.3L730.3 473.3L730.5 473.1L730.7 472.8L730.8 471.7L731.0 471.2L731.2 471.0L731.4 470.5L731.6 470.0L731.8 469.3L732.0 468.9L732.2 467.8L732.4 467.3L732.5 467.5L732.7 467.8L732.9 467.4L733.1 467.3L733.3 467.4L733.5 468.3L733.7 469.1L733.9 468.7L734.1 468.1L734.2 467.5L734.4 468.1L734.6 467.4L734.8 467.6L735.0 467.2L735.2 466.9L735.4 467.2L735.6 467.4L735.8 468.2L736.0 468.4L736.1 468.9L736.3 468.2L736.5 467.7L736.7 466.8L736.9 466.4M745.0 466.3L745.2 467.0L745.4 467.0L745.6 467.0L745.8 467.5L746.0 467.5L746.2 467.2L746.4 467.2L746.6 467.9L746.7 469.0L746.9 469.1L747.1 468.9L747.3 469.0L747.5 469.2L747.7 469.6L747.9 469.2L748.1 469.2L748.3 469.2L748.5 469.8L748.6 470.1L748.8 470.0L749.0 470.6L749.2 471.2L749.4 471.3L749.6 470.3L749.8 470.0L750.0 469.1L750.2 469.2L750.3 469.3L750.5 470.0L750.7 470.1L750.9 469.1L751.1 468.9L751.3 468.5L751.5 468.1L751.7 468.2L751.9 468.3L752.1 468.3L752.2 467.9L752.4 467.7L752.6 467.5L752.8 467.5L753.0 468.0L753.2 468.2L753.4 468.6L753.6 468.0L753.8 469.1L753.9 469.0L754.1 467.5L754.3 467.7L754.5 468.3L754.7 468.2L754.9 467.4L755.1 467.5L755.3 467.1L755.5 467.2L755.6 467.6L755.8 466.0M756.0 466.4L756.2 467.0L756.4 467.5L756.6 467.5L756.8 467.5L757.0 467.3L757.2 467.5L757.4 468.5L757.5 468.3L757.7 468.6L757.9 468.9L758.1 469.7L758.3 470.0L758.5 470.3L758.7 470.2L758.9 470.9L759.1 470.8L759.2 470.6L759.4 471.1L759.6 471.3L759.8 471.6L760.0 470.9L760.2 472.2L760.4 472.1L760.6 472.8L760.8 472.7L761.0 472.0L761.1 472.2L761.3 472.1L761.5 472.5L761.7 471.4L761.9 471.0L762.1 470.6L762.3 471.6L762.5 472.4L762.7 471.9L762.8 472.2L763.0 472.5L763.2 472.4L763.4 473.3L763.6 473.0L763.8 473.1L764.0 473.0L764.2 473.6L764.4 473.4L764.5 474.0L764.7 473.6L764.9 473.3L765.1 473.1L765.3 473.2L765.5 473.2L765.7 475.0L765.9 474.7L766.1 475.1L766.3 475.2L766.4 475.6L766.6 476.5L766.8 476.8L767.0 476.3L767.2 475.4L767.4 475.8L767.6 476.2L767.8 475.3L768.0 475.8L768.1 474.7L768.3 474.7L768.5 475.3L768.7 474.8L768.9 474.0L769.1 474.9L769.3 474.1L769.5 474.4L769.7 473.8L769.9 474.2L770.0 475.1L770.2 474.9L770.4 474.4L770.6 473.4L770.8 472.7L771.0 472.7L771.2 473.1L771.4 473.7L771.6 474.0L771.7 474.5L771.9 474.7L772.1 476.1L772.3 475.8L772.5 475.6L772.7 474.1L772.9 473.7L773.1 474.0L773.3 473.7L773.5 474.3L773.6 474.5L773.8 475.4L774.0 474.3L774.2 473.9L774.4 474.4L774.6 474.2L774.8 473.5L775.0 473.2L775.2 472.9L775.3 473.3L775.5 473.5L775.7 473.3L775.9 472.7L776.1 473.1L776.3 473.5L776.5 472.7L776.7 473.0L776.9 472.3L777.0 472.1L777.2 471.5L777.4 470.6L777.6 470.3L777.8 470.1L778.0 470.7L778.2 471.1L778.4 470.7L778.6 469.9L778.8 469.3L778.9 468.2L779.1 468.4L779.3 468.5L779.5 468.2L779.7 468.5L779.9 468.7L780.1 469.4L780.3 468.9L780.5 469.5L780.6 469.2L780.8 469.9L781.0 469.2L781.2 469.7L781.4 469.1L781.6 469.9L781.8 469.9L782.0 469.1L782.2 469.4L782.4 469.2L782.5 469.2L782.7 470.3L782.9 469.7L783.1 469.2L783.3 469.6L783.5 468.9L783.7 469.1L783.9 469.4L784.1 469.0L784.2 469.1L784.4 466.9L784.6 467.0M787.5 466.4L787.7 467.2L787.8 466.3M788.4 466.8L788.6 467.3L788.8 467.8L789.0 468.2L789.2 469.0L789.4 468.9L789.5 468.9L789.7 468.9L789.9 469.4L790.1 468.9L790.3 468.6L790.5 469.7L790.7 469.6L790.9 469.1L791.1 468.1L791.3 467.9L791.4 467.6L791.6 467.6L791.8 466.8L792.0 466.7L792.2 466.6M798.3 467.0L798.4 466.9L798.6 466.7L798.8 466.8L799.0 467.5L799.2 467.9L799.4 468.5L799.6 468.2L799.8 467.6L800.0 467.1L800.2 467.5L800.3 467.4L800.5 467.2L800.7 467.5L800.9 467.6L801.1 466.5M801.5 466.4L801.7 467.0L801.9 467.2L802.0 468.3L802.2 468.4L802.4 467.9L802.6 466.9L802.8 466.6L803.0 466.7L803.2 467.1L803.4 467.8L803.6 468.1L803.8 468.1L803.9 468.8L804.1 468.6L804.3 469.5L804.5 470.6L804.7 471.2L804.9 472.2L805.1 472.8L805.3 472.0L805.5 472.1L805.6 472.0L805.8 471.5L806.0 471.0L806.2 471.5L806.4 471.0L806.6 471.1L806.8 471.5L807.0 471.5L807.2 473.1L807.3 474.1L807.5 474.8L807.7 475.0L807.9 475.9L808.1 476.5L808.3 476.4L808.5 476.2L808.7 476.4L808.9 476.4L809.1 477.3L809.2 478.2L809.4 478.6L809.6 479.4L809.8 480.2L810.0 479.9L810.2 480.6L810.4 481.8L810.6 481.5L810.8 480.7L810.9 480.8L811.1 480.4L811.3 480.9L811.5 481.3L811.7 481.8L811.9 481.9L812.1 481.0L812.3 481.8L812.5 481.0L812.7 481.7L812.8 481.9L813.0 481.5L813.2 481.2L813.4 481.2L813.6 482.1L813.8 482.2L814.0 483.0L814.2 481.9L814.4 482.4L814.5 482.7L814.7 483.7" stroke="#338a2c" stroke-width="2.4" fill="none" stroke-linejoin="round"/><path d="M152.4 494.7 L161.2 503.7 L156.9 503.7 L156.9 529 L147.9 529 L147.9 503.7 L143.6 503.7 Z" fill="#ffb900"/><path d="M192.4 494.7 L201.2 503.7 L196.9 503.7 L196.9 529 L187.9 529 L187.9 503.7 L183.6 503.7 Z" fill="#ffb900"/><path d="M524.5 494.7 L533.3 503.7 L529.0 503.7 L529.0 529 L520.0 529 L520.0 503.7 L515.7 503.7 Z" fill="#ffb900"/><path d="M545.2 494.7 L554.0 503.7 L549.7 503.7 L549.7 529 L540.7 529 L540.7 503.7 L536.4 503.7 Z" fill="#ffb900"/><path d="M814.3 494.7 L823.1 503.7 L818.8 503.7 L818.8 529 L809.8 529 L809.8 503.7 L805.5 503.7 Z" fill="#ffb900"/><defs><linearGradient id="cb" x1="0" y1="1" x2="0" y2="0"><stop offset="0.000" stop-color="#96005a"/><stop offset="0.125" stop-color="#0000c8"/><stop offset="0.250" stop-color="#0019ff"/><stop offset="0.375" stop-color="#0098ff"/><stop offset="0.500" stop-color="#2cff96"/><stop offset="0.625" stop-color="#97ff00"/><stop offset="0.750" stop-color="#ffea00"/><stop offset="0.875" stop-color="#ff6f00"/><stop offset="1.000" stop-color="#ff0000"/></linearGradient></defs><rect x="868.5" y="116.8" width="24.5" height="372.2" fill="url(#cb)" stroke="#555" stroke-width="0.9"/><text x="895.5" y="493.2" font-size="10.6" fill="#555" textLength="6.2" lengthAdjust="spacingAndGlyphs">0</text><text x="895.5" y="442.1" font-size="10.6" fill="#555" textLength="18.5" lengthAdjust="spacingAndGlyphs">200</text><text x="895.5" y="391.0" font-size="10.6" fill="#555" textLength="18.5" lengthAdjust="spacingAndGlyphs">400</text><text x="895.5" y="339.9" font-size="10.6" fill="#555" textLength="18.5" lengthAdjust="spacingAndGlyphs">600</text><text x="895.5" y="288.8" font-size="10.6" fill="#555" textLength="18.5" lengthAdjust="spacingAndGlyphs">800</text><text x="895.5" y="237.7" font-size="10.6" fill="#555" textLength="24.7" lengthAdjust="spacingAndGlyphs">1000</text><text x="895.5" y="186.6" font-size="10.6" fill="#555" textLength="24.7" lengthAdjust="spacingAndGlyphs">1200</text><text x="895.5" y="135.5" font-size="10.6" fill="#555" textLength="24.7" lengthAdjust="spacingAndGlyphs">1400</text><text transform="translate(859.2,303.2) rotate(-90)" text-anchor="middle" font-size="12" fill="#6a6a6a" textLength="132" lengthAdjust="spacingAndGlyphs">Days until next halving</text><circle cx="168.1" cy="548.2" r="2" fill="#57e35a"/><text x="185.2" y="551.9" font-size="10" fill="#707070" textLength="45" lengthAdjust="spacingAndGlyphs">BTC Price</text><path d="M238.6 548.4 H263" stroke="#a85050" stroke-width="1.8"/><text x="267.6" y="551.9" font-size="10" fill="#707070" textLength="132" lengthAdjust="spacingAndGlyphs">Stock/Flow (365d average)</text><path d="M408.2 548.4 H432.1" stroke="#e8413a" stroke-width="1.8"/><text x="437.2" y="551.9" font-size="10" fill="#707070" textLength="73" lengthAdjust="spacingAndGlyphs">Model Variance</text></svg></body></html>
